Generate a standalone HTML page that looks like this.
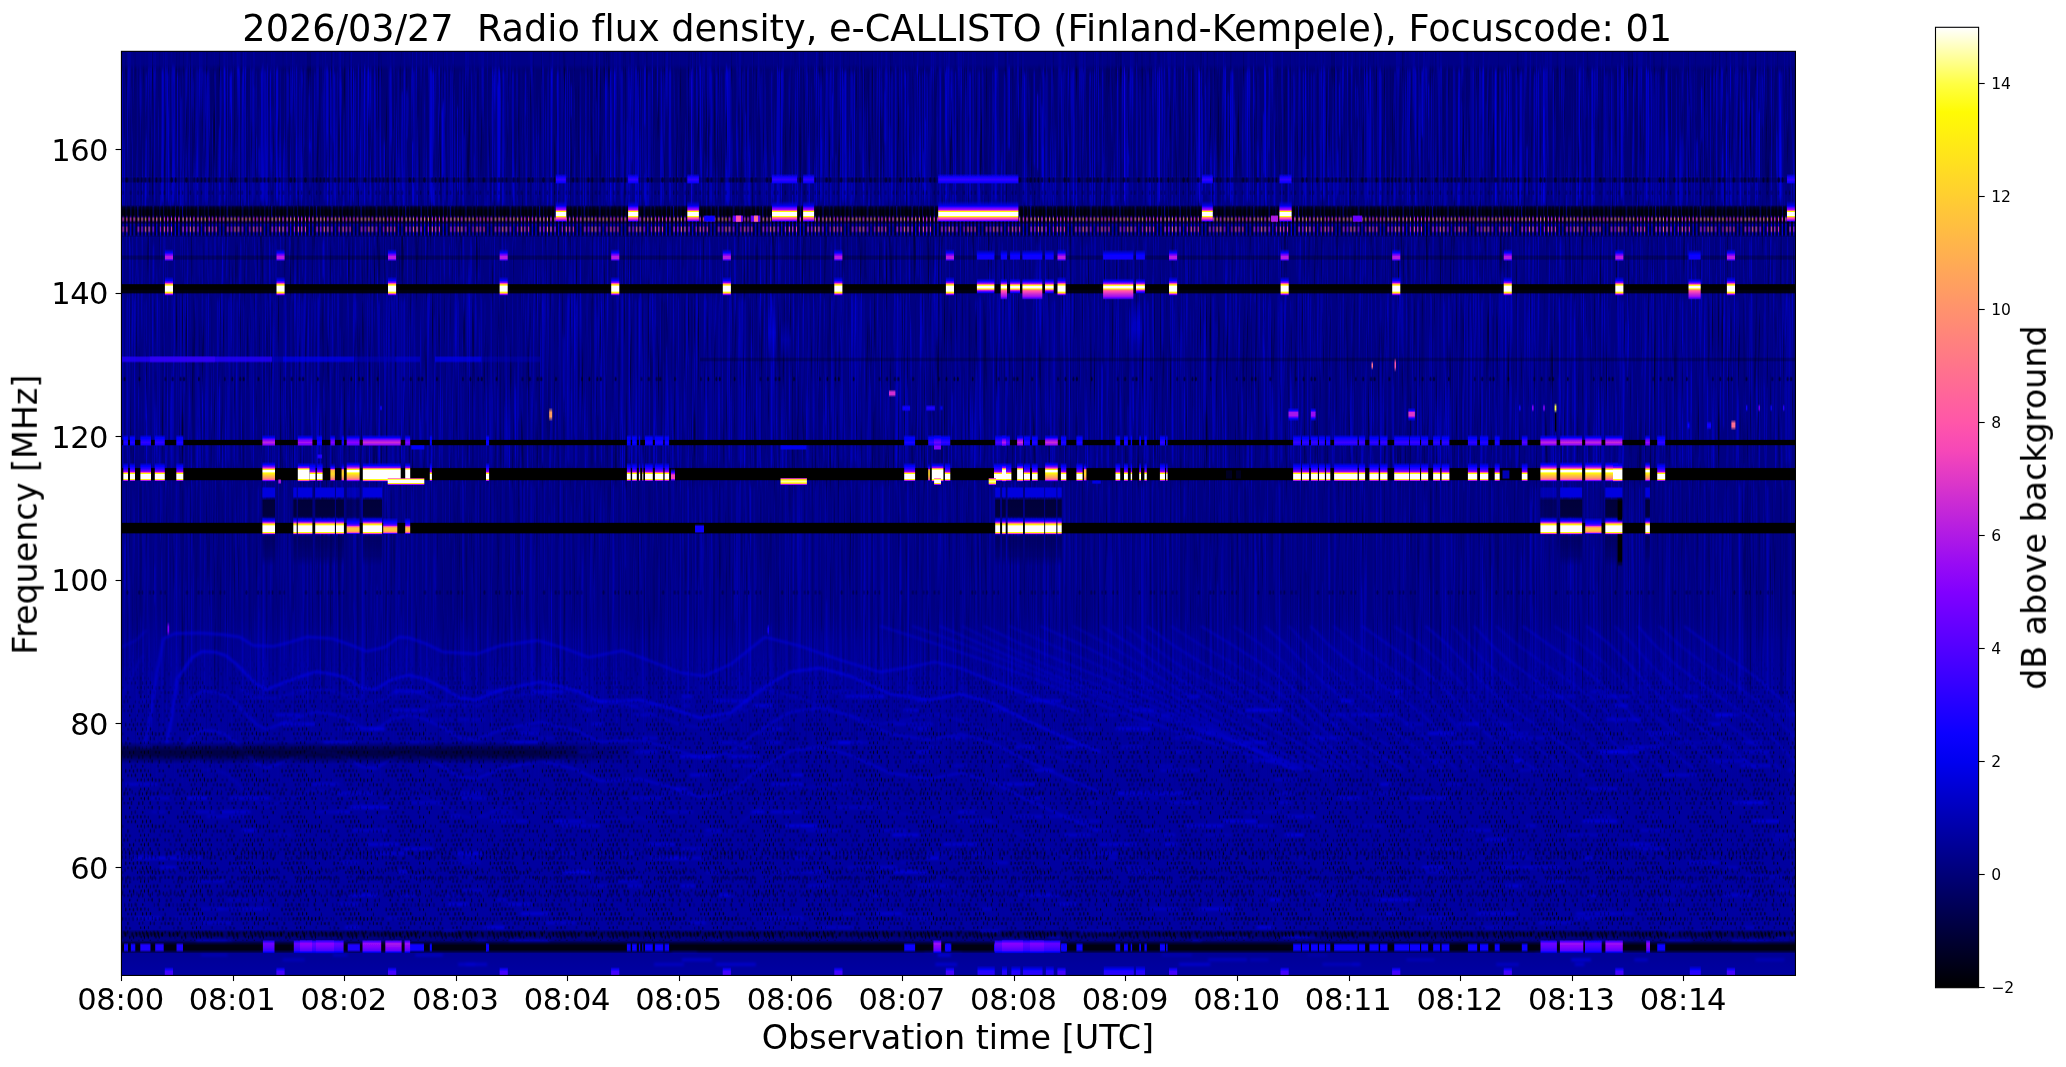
<!DOCTYPE html><html><head><meta charset="utf-8"><title>e-CALLISTO spectrogram</title>
<style>html,body{margin:0;padding:0;background:#fff}body{width:2066px;height:1067px;overflow:hidden}svg{display:block}text{fill:#000;font-variant-ligatures:none;font-feature-settings:"liga" 0,"clig" 0}</style></head><body>
<svg width="2066" height="1067" viewBox="0 0 2066 1067" font-family="DejaVu Sans, Liberation Sans, sans-serif">
<defs><clipPath id="axclip"><rect x="121.45" y="51.35" width="1674.00" height="924.10"/></clipPath>
<linearGradient id="cbg" x1="0" y1="0" x2="0" y2="1"><stop offset="0.0000" stop-color="#ffffff"/><stop offset="0.0294" stop-color="#ffffa1"/><stop offset="0.0588" stop-color="#ffff43"/><stop offset="0.0882" stop-color="#fffb04"/><stop offset="0.1176" stop-color="#ffec13"/><stop offset="0.1471" stop-color="#ffdd22"/><stop offset="0.1765" stop-color="#ffce31"/><stop offset="0.2059" stop-color="#ffbf40"/><stop offset="0.2353" stop-color="#ffb04f"/><stop offset="0.2647" stop-color="#ffa15e"/><stop offset="0.2941" stop-color="#ff926d"/><stop offset="0.3235" stop-color="#ff837c"/><stop offset="0.3529" stop-color="#ff748b"/><stop offset="0.3824" stop-color="#ff659a"/><stop offset="0.4118" stop-color="#ff56a9"/><stop offset="0.4412" stop-color="#f647b8"/><stop offset="0.4706" stop-color="#df38c7"/><stop offset="0.5000" stop-color="#c729d6"/><stop offset="0.5294" stop-color="#b01ae5"/><stop offset="0.5588" stop-color="#980bf4"/><stop offset="0.5882" stop-color="#8100ff"/><stop offset="0.6176" stop-color="#6900ff"/><stop offset="0.6471" stop-color="#5200ff"/><stop offset="0.6765" stop-color="#3b00ff"/><stop offset="0.7059" stop-color="#2300ff"/><stop offset="0.7353" stop-color="#0c00ff"/><stop offset="0.7647" stop-color="#0000f0"/><stop offset="0.7941" stop-color="#0000d2"/><stop offset="0.8235" stop-color="#0000b4"/><stop offset="0.8529" stop-color="#000096"/><stop offset="0.8824" stop-color="#000078"/><stop offset="0.9118" stop-color="#00005a"/><stop offset="0.9412" stop-color="#00003c"/><stop offset="0.9706" stop-color="#00001e"/><stop offset="1.0000" stop-color="#000000"/></linearGradient>
<filter id="noiseB" x="0" y="0" width="100%" height="100%" color-interpolation-filters="sRGB"><feTurbulence type="fractalNoise" baseFrequency="0.55 0.008" numOctaves="2" seed="5"/><feColorMatrix type="matrix" values="0 0 0 0 0 0 0 0 0 0 0 0 0 0 0.92 2.0 0 0 0 -1.05"/></filter><filter id="noiseD" x="0" y="0" width="100%" height="100%" color-interpolation-filters="sRGB"><feTurbulence type="fractalNoise" baseFrequency="0.5 0.01" numOctaves="2" seed="11"/><feColorMatrix type="matrix" values="0 0 0 0 0 0 0 0 0 0 0 0 0 0 0 0 -2.0 0 0 0.80"/></filter><filter id="soft" x="-5%" y="-5%" width="110%" height="110%"><feGaussianBlur stdDeviation="0.5 2.5"/></filter><filter id="soft2" x="-5%" y="-5%" width="110%" height="110%"><feGaussianBlur stdDeviation="1.2 0.8"/></filter><filter id="softx" x="-2%" y="-2%" width="104%" height="104%"><feGaussianBlur stdDeviation="0.45 0.01"/></filter><linearGradient id="g1" x2="0" y2="1"><stop offset="0" stop-color="#000087"/><stop offset=".101" stop-color="#000087"/><stop offset=".148" stop-color="#000075"/><stop offset=".992" stop-color="#000078"/><stop offset="1" stop-color="#000082" stop-opacity="0"/></linearGradient><linearGradient id="g2" x2="0" y2="1"><stop offset="0" stop-color="#000082" stop-opacity="0"/><stop offset=".121" stop-color="#000090"/><stop offset=".272" stop-color="#00009d"/><stop offset=".997" stop-color="#0000a1"/><stop offset="1" stop-color="#000082" stop-opacity="0"/></linearGradient><linearGradient id="g3" x2="0" y2="1"><stop offset="0" stop-color="#000096"/><stop offset="1" stop-color="#0000a2"/></linearGradient><linearGradient id="nfade" x2="0" y2="1"><stop offset="0" stop-color="#fff" stop-opacity="0.45"/><stop offset=".018" stop-color="#fff" stop-opacity="0.45"/><stop offset=".024" stop-color="#fff"/><stop offset=".57" stop-color="#fff"/><stop offset=".6" stop-color="#fff" stop-opacity="0.6"/><stop offset=".82" stop-color="#fff" stop-opacity="0.5"/><stop offset="1" stop-color="#fff" stop-opacity="0.1"/></linearGradient><mask id="nmask" maskUnits="userSpaceOnUse" x="120.5" y="52" width="1676.0" height="734"><rect x="120.5" y="52" width="1676.0" height="734" fill="url(#nfade)"/></mask><linearGradient id="g4" x2="0" y2="1"><stop offset="0" stop-color="#0000f0" stop-opacity="0"/><stop offset=".5" stop-color="#0000f0" stop-opacity="0.5"/><stop offset="1" stop-color="#0000f0" stop-opacity="0"/></linearGradient><linearGradient id="g5" x2="0" y2="1"><stop offset="0" stop-color="#0000d8" stop-opacity="0"/><stop offset=".5" stop-color="#0000d8" stop-opacity="0.4"/><stop offset="1" stop-color="#0000d8" stop-opacity="0"/></linearGradient><linearGradient id="g6" x2="0" y2="1"><stop offset="0" stop-color="#0000e4" stop-opacity="0"/><stop offset=".5" stop-color="#0000e4" stop-opacity="0.45"/><stop offset="1" stop-color="#0000e4" stop-opacity="0"/></linearGradient><linearGradient id="g7" x2="0" y2="1"><stop offset="0" stop-color="#0000fc" stop-opacity="0"/><stop offset=".5" stop-color="#0000fc" stop-opacity="0.3"/><stop offset="1" stop-color="#0000fc" stop-opacity="0"/></linearGradient><pattern id="dotgrid" x="122.35" y="690.00" width="52.08" height="46.20" patternUnits="userSpaceOnUse"><ellipse cx="5.76" cy="2.45" rx="0.44" ry="1.91" fill="#000" fill-opacity="0.91"/><ellipse cx="16.90" cy="2.46" rx="0.51" ry="1.77" fill="#000" fill-opacity="0.62"/><ellipse cx="20.50" cy="1.97" rx="0.44" ry="1.75" fill="#000" fill-opacity="0.59"/><ellipse cx="28.05" cy="2.25" rx="0.59" ry="2.08" fill="#000" fill-opacity="0.61"/><ellipse cx="31.72" cy="2.34" rx="0.54" ry="2.09" fill="#000" fill-opacity="0.61"/><ellipse cx="39.16" cy="2.55" rx="0.48" ry="1.58" fill="#000" fill-opacity="0.58"/><ellipse cx="42.68" cy="2.35" rx="0.47" ry="2.02" fill="#000" fill-opacity="0.71"/><ellipse cx="46.26" cy="2.53" rx="0.55" ry="1.54" fill="#000" fill-opacity="0.98"/><ellipse cx="50.27" cy="2.55" rx="0.60" ry="2.04" fill="#000" fill-opacity="0.75"/><ellipse cx="3.80" cy="6.83" rx="0.50" ry="2.02" fill="#000" fill-opacity="0.68"/><ellipse cx="7.69" cy="7.23" rx="0.46" ry="1.55" fill="#000" fill-opacity="0.81"/><ellipse cx="18.46" cy="6.78" rx="0.42" ry="1.45" fill="#000" fill-opacity="1.00"/><ellipse cx="22.10" cy="6.69" rx="0.50" ry="1.70" fill="#000" fill-opacity="0.90"/><ellipse cx="25.95" cy="6.59" rx="0.42" ry="1.64" fill="#000" fill-opacity="0.77"/><ellipse cx="37.49" cy="6.56" rx="0.42" ry="1.59" fill="#000" fill-opacity="0.59"/><ellipse cx="52.04" cy="7.21" rx="0.44" ry="1.73" fill="#000" fill-opacity="0.71"/><ellipse cx="1.93" cy="11.55" rx="0.47" ry="1.87" fill="#000" fill-opacity="0.89"/><ellipse cx="5.29" cy="11.17" rx="0.58" ry="2.18" fill="#000" fill-opacity="0.67"/><ellipse cx="13.03" cy="11.70" rx="0.43" ry="1.53" fill="#000" fill-opacity="0.61"/><ellipse cx="16.83" cy="11.90" rx="0.45" ry="1.92" fill="#000" fill-opacity="0.82"/><ellipse cx="20.20" cy="11.46" rx="0.41" ry="1.70" fill="#000" fill-opacity="0.92"/><ellipse cx="24.10" cy="11.29" rx="0.59" ry="2.04" fill="#000" fill-opacity="0.71"/><ellipse cx="27.93" cy="11.72" rx="0.51" ry="1.93" fill="#000" fill-opacity="0.57"/><ellipse cx="31.46" cy="11.48" rx="0.60" ry="2.04" fill="#000" fill-opacity="0.70"/><ellipse cx="35.21" cy="11.34" rx="0.54" ry="1.94" fill="#000" fill-opacity="0.87"/><ellipse cx="42.69" cy="11.25" rx="0.43" ry="1.67" fill="#000" fill-opacity="0.82"/><ellipse cx="46.56" cy="11.64" rx="0.45" ry="1.50" fill="#000" fill-opacity="0.63"/><ellipse cx="7.49" cy="16.43" rx="0.59" ry="1.79" fill="#000" fill-opacity="0.88"/><ellipse cx="11.27" cy="16.17" rx="0.57" ry="2.03" fill="#000" fill-opacity="0.81"/><ellipse cx="18.82" cy="16.09" rx="0.50" ry="1.43" fill="#000" fill-opacity="0.87"/><ellipse cx="22.10" cy="16.19" rx="0.50" ry="1.99" fill="#000" fill-opacity="0.97"/><ellipse cx="25.91" cy="15.90" rx="0.54" ry="2.08" fill="#000" fill-opacity="0.91"/><ellipse cx="33.47" cy="16.02" rx="0.56" ry="1.74" fill="#000" fill-opacity="0.83"/><ellipse cx="36.94" cy="16.25" rx="0.45" ry="1.57" fill="#000" fill-opacity="0.98"/><ellipse cx="48.18" cy="15.78" rx="0.41" ry="1.79" fill="#000" fill-opacity="0.66"/><ellipse cx="0.21" cy="16.50" rx="0.43" ry="1.80" fill="#000" fill-opacity="0.55"/><ellipse cx="2.00" cy="20.70" rx="0.44" ry="1.56" fill="#000" fill-opacity="0.68"/><ellipse cx="5.79" cy="20.98" rx="0.52" ry="1.45" fill="#000" fill-opacity="0.72"/><ellipse cx="9.16" cy="20.68" rx="0.48" ry="2.14" fill="#000" fill-opacity="0.76"/><ellipse cx="16.61" cy="21.00" rx="0.52" ry="2.18" fill="#000" fill-opacity="0.80"/><ellipse cx="20.49" cy="20.71" rx="0.47" ry="2.16" fill="#000" fill-opacity="0.81"/><ellipse cx="27.74" cy="20.73" rx="0.50" ry="2.11" fill="#000" fill-opacity="0.94"/><ellipse cx="35.46" cy="20.47" rx="0.58" ry="1.91" fill="#000" fill-opacity="0.58"/><ellipse cx="42.79" cy="20.92" rx="0.42" ry="1.64" fill="#000" fill-opacity="0.61"/><ellipse cx="46.27" cy="21.06" rx="0.41" ry="1.73" fill="#000" fill-opacity="0.67"/><ellipse cx="7.47" cy="25.28" rx="0.54" ry="1.53" fill="#000" fill-opacity="0.93"/><ellipse cx="14.98" cy="25.45" rx="0.47" ry="1.43" fill="#000" fill-opacity="0.83"/><ellipse cx="22.17" cy="25.36" rx="0.43" ry="1.97" fill="#000" fill-opacity="0.59"/><ellipse cx="26.27" cy="25.03" rx="0.47" ry="1.54" fill="#000" fill-opacity="0.63"/><ellipse cx="29.69" cy="25.13" rx="0.59" ry="2.11" fill="#000" fill-opacity="0.88"/><ellipse cx="37.01" cy="25.60" rx="0.42" ry="2.18" fill="#000" fill-opacity="0.96"/><ellipse cx="44.35" cy="25.80" rx="0.58" ry="2.03" fill="#000" fill-opacity="0.60"/><ellipse cx="48.50" cy="25.21" rx="0.45" ry="2.15" fill="#000" fill-opacity="0.66"/><ellipse cx="9.41" cy="30.42" rx="0.46" ry="2.17" fill="#000" fill-opacity="0.61"/><ellipse cx="12.90" cy="29.69" rx="0.44" ry="2.12" fill="#000" fill-opacity="0.65"/><ellipse cx="20.50" cy="29.85" rx="0.42" ry="1.52" fill="#000" fill-opacity="1.00"/><ellipse cx="35.55" cy="29.77" rx="0.43" ry="1.95" fill="#000" fill-opacity="0.66"/><ellipse cx="46.57" cy="30.07" rx="0.53" ry="1.85" fill="#000" fill-opacity="0.94"/><ellipse cx="3.45" cy="34.83" rx="0.59" ry="2.08" fill="#000" fill-opacity="0.71"/><ellipse cx="7.42" cy="34.58" rx="0.55" ry="1.42" fill="#000" fill-opacity="0.79"/><ellipse cx="11.09" cy="34.90" rx="0.55" ry="1.98" fill="#000" fill-opacity="0.84"/><ellipse cx="14.93" cy="34.27" rx="0.44" ry="2.12" fill="#000" fill-opacity="0.92"/><ellipse cx="18.59" cy="34.42" rx="0.56" ry="1.71" fill="#000" fill-opacity="0.98"/><ellipse cx="22.52" cy="34.27" rx="0.55" ry="1.80" fill="#000" fill-opacity="0.69"/><ellipse cx="25.84" cy="34.75" rx="0.40" ry="1.91" fill="#000" fill-opacity="0.76"/><ellipse cx="37.08" cy="34.60" rx="0.57" ry="1.80" fill="#000" fill-opacity="0.63"/><ellipse cx="40.81" cy="34.65" rx="0.47" ry="1.56" fill="#000" fill-opacity="0.91"/><ellipse cx="5.81" cy="39.35" rx="0.45" ry="1.47" fill="#000" fill-opacity="0.90"/><ellipse cx="9.36" cy="39.24" rx="0.51" ry="1.70" fill="#000" fill-opacity="0.74"/><ellipse cx="13.05" cy="39.09" rx="0.54" ry="1.82" fill="#000" fill-opacity="0.96"/><ellipse cx="20.35" cy="39.20" rx="0.51" ry="1.85" fill="#000" fill-opacity="0.97"/><ellipse cx="24.07" cy="38.98" rx="0.50" ry="2.10" fill="#000" fill-opacity="0.88"/><ellipse cx="28.10" cy="38.88" rx="0.57" ry="1.82" fill="#000" fill-opacity="0.91"/><ellipse cx="42.88" cy="39.65" rx="0.41" ry="2.17" fill="#000" fill-opacity="0.64"/><ellipse cx="15.17" cy="43.85" rx="0.48" ry="1.58" fill="#000" fill-opacity="0.84"/><ellipse cx="18.78" cy="43.66" rx="0.47" ry="1.73" fill="#000" fill-opacity="0.99"/><ellipse cx="22.22" cy="44.17" rx="0.47" ry="2.07" fill="#000" fill-opacity="0.58"/><ellipse cx="25.79" cy="43.51" rx="0.59" ry="1.74" fill="#000" fill-opacity="0.83"/><ellipse cx="29.94" cy="43.54" rx="0.51" ry="2.18" fill="#000" fill-opacity="0.99"/><ellipse cx="33.39" cy="44.16" rx="0.48" ry="2.07" fill="#000" fill-opacity="0.95"/><ellipse cx="37.00" cy="44.13" rx="0.51" ry="1.74" fill="#000" fill-opacity="0.95"/><ellipse cx="40.95" cy="43.68" rx="0.55" ry="2.10" fill="#000" fill-opacity="0.95"/><ellipse cx="48.12" cy="43.52" rx="0.49" ry="1.50" fill="#000" fill-opacity="0.56"/><ellipse cx="0.05" cy="44.03" rx="0.54" ry="1.76" fill="#000" fill-opacity="0.76"/></pattern><linearGradient id="dotfade" x1="0" y1="0" x2="0" y2="1"><stop offset="0" stop-color="#fff" stop-opacity="0"/><stop offset="0.12" stop-color="#fff" stop-opacity="0.55"/><stop offset="0.3" stop-color="#fff" stop-opacity="0.9"/><stop offset="1" stop-color="#fff" stop-opacity="1"/></linearGradient><mask id="dotmask" maskUnits="userSpaceOnUse" x="120.5" y="655" width="1676.0" height="330"><rect x="120.5" y="655" width="1676.0" height="330" fill="url(#dotfade)"/></mask><linearGradient id="g8" x2="0" y2="1"><stop offset="0" stop-color="#000000" stop-opacity="0"/><stop offset=".286" stop-color="#000000" stop-opacity="0.2"/><stop offset=".714" stop-color="#000000" stop-opacity="0.2"/><stop offset="1" stop-color="#000000" stop-opacity="0"/></linearGradient><pattern id="dr1800" x="121.45" y="177.20" width="59.52" height="5.60" patternUnits="userSpaceOnUse"><ellipse cx="5.36" cy="2.80" rx="1.34" ry="2.80" fill="#000" fill-opacity="0.57"/><ellipse cx="13.18" cy="2.80" rx="1.05" ry="2.80" fill="#000" fill-opacity="0.40"/><ellipse cx="16.46" cy="2.80" rx="1.10" ry="2.80" fill="#000" fill-opacity="0.57"/><ellipse cx="20.50" cy="2.80" rx="0.90" ry="2.80" fill="#000" fill-opacity="0.54"/><ellipse cx="24.12" cy="2.80" rx="0.94" ry="2.80" fill="#000" fill-opacity="0.56"/><ellipse cx="27.96" cy="2.80" rx="1.00" ry="2.80" fill="#000" fill-opacity="0.48"/><ellipse cx="35.06" cy="2.80" rx="1.04" ry="2.80" fill="#000" fill-opacity="0.59"/><ellipse cx="39.18" cy="2.80" rx="0.94" ry="2.80" fill="#000" fill-opacity="0.45"/><ellipse cx="50.32" cy="2.80" rx="1.34" ry="2.80" fill="#000" fill-opacity="0.58"/><ellipse cx="54.13" cy="2.80" rx="0.99" ry="2.80" fill="#000" fill-opacity="0.58"/></pattern><pattern id="dr1927" x="121.45" y="190.40" width="59.52" height="4.60" patternUnits="userSpaceOnUse"><ellipse cx="1.64" cy="2.30" rx="0.70" ry="2.30" fill="#000" fill-opacity="0.32"/><ellipse cx="9.34" cy="2.30" rx="0.82" ry="2.30" fill="#000" fill-opacity="0.29"/><ellipse cx="16.52" cy="2.30" rx="0.78" ry="2.30" fill="#000" fill-opacity="0.31"/><ellipse cx="20.54" cy="2.30" rx="0.69" ry="2.30" fill="#000" fill-opacity="0.32"/><ellipse cx="28.09" cy="2.30" rx="0.96" ry="2.30" fill="#000" fill-opacity="0.22"/><ellipse cx="31.43" cy="2.30" rx="0.71" ry="2.30" fill="#000" fill-opacity="0.29"/><ellipse cx="38.90" cy="2.30" rx="0.64" ry="2.30" fill="#000" fill-opacity="0.30"/><ellipse cx="43.00" cy="2.30" rx="0.99" ry="2.30" fill="#000" fill-opacity="0.26"/><ellipse cx="50.02" cy="2.30" rx="0.97" ry="2.30" fill="#000" fill-opacity="0.22"/><ellipse cx="57.62" cy="2.30" rx="0.88" ry="2.30" fill="#000" fill-opacity="0.26"/></pattern><pattern id="dr3790" x="122.75" y="376.70" width="59.52" height="4.60" patternUnits="userSpaceOnUse"><ellipse cx="1.84" cy="2.30" rx="1.03" ry="2.30" fill="#000" fill-opacity="0.63"/><ellipse cx="16.63" cy="2.30" rx="0.84" ry="2.30" fill="#000" fill-opacity="0.67"/><ellipse cx="42.57" cy="2.30" rx="0.80" ry="2.30" fill="#000" fill-opacity="0.56"/><ellipse cx="49.99" cy="2.30" rx="0.90" ry="2.30" fill="#000" fill-opacity="0.64"/><ellipse cx="57.91" cy="2.30" rx="0.96" ry="2.30" fill="#000" fill-opacity="0.56"/></pattern><pattern id="dr5925" x="122.05" y="590.20" width="59.52" height="4.60" patternUnits="userSpaceOnUse"><ellipse cx="5.41" cy="2.30" rx="1.00" ry="2.30" fill="#000" fill-opacity="0.40"/><ellipse cx="17.01" cy="2.30" rx="1.02" ry="2.30" fill="#000" fill-opacity="0.35"/><ellipse cx="20.31" cy="2.30" rx="0.73" ry="2.30" fill="#000" fill-opacity="0.35"/><ellipse cx="27.84" cy="2.30" rx="0.79" ry="2.30" fill="#000" fill-opacity="0.31"/><ellipse cx="31.38" cy="2.30" rx="0.71" ry="2.30" fill="#000" fill-opacity="0.45"/><ellipse cx="38.82" cy="2.30" rx="0.97" ry="2.30" fill="#000" fill-opacity="0.32"/><ellipse cx="43.04" cy="2.30" rx="0.82" ry="2.30" fill="#000" fill-opacity="0.30"/></pattern><linearGradient id="g9" x2="0" y2="1"><stop offset="0" stop-color="#000000" stop-opacity="0"/><stop offset=".267" stop-color="#000000" stop-opacity="0.15"/><stop offset=".733" stop-color="#000000" stop-opacity="0.15"/><stop offset="1" stop-color="#000000" stop-opacity="0"/></linearGradient><pattern id="dr9343" x="123.35" y="931.90" width="59.52" height="4.80" patternUnits="userSpaceOnUse"><ellipse cx="2.12" cy="2.40" rx="1.00" ry="2.40" fill="#000" fill-opacity="0.76"/><ellipse cx="9.02" cy="2.40" rx="0.80" ry="2.40" fill="#000" fill-opacity="0.68"/><ellipse cx="13.29" cy="2.40" rx="0.80" ry="2.40" fill="#000" fill-opacity="0.83"/><ellipse cx="16.85" cy="2.40" rx="0.75" ry="2.40" fill="#000" fill-opacity="0.63"/><ellipse cx="20.45" cy="2.40" rx="0.84" ry="2.40" fill="#000" fill-opacity="0.76"/><ellipse cx="24.17" cy="2.40" rx="1.01" ry="2.40" fill="#000" fill-opacity="0.80"/><ellipse cx="28.16" cy="2.40" rx="1.03" ry="2.40" fill="#000" fill-opacity="0.61"/><ellipse cx="31.51" cy="2.40" rx="0.99" ry="2.40" fill="#000" fill-opacity="0.83"/><ellipse cx="35.14" cy="2.40" rx="0.83" ry="2.40" fill="#000" fill-opacity="0.80"/><ellipse cx="38.81" cy="2.40" rx="1.15" ry="2.40" fill="#000" fill-opacity="0.86"/><ellipse cx="46.27" cy="2.40" rx="0.93" ry="2.40" fill="#000" fill-opacity="0.83"/><ellipse cx="50.11" cy="2.40" rx="1.08" ry="2.40" fill="#000" fill-opacity="0.72"/><ellipse cx="54.20" cy="2.40" rx="1.00" ry="2.40" fill="#000" fill-opacity="0.88"/></pattern><pattern id="dr7920" x="122.85" y="789.80" width="59.52" height="4.40" patternUnits="userSpaceOnUse"><ellipse cx="1.96" cy="2.20" rx="0.60" ry="2.20" fill="#000" fill-opacity="0.40"/><ellipse cx="9.19" cy="2.20" rx="0.66" ry="2.20" fill="#000" fill-opacity="0.33"/><ellipse cx="16.45" cy="2.20" rx="0.76" ry="2.20" fill="#000" fill-opacity="0.40"/><ellipse cx="24.34" cy="2.20" rx="0.77" ry="2.20" fill="#000" fill-opacity="0.44"/><ellipse cx="27.74" cy="2.20" rx="0.67" ry="2.20" fill="#000" fill-opacity="0.33"/><ellipse cx="35.23" cy="2.20" rx="0.55" ry="2.20" fill="#000" fill-opacity="0.42"/><ellipse cx="39.33" cy="2.20" rx="0.50" ry="2.20" fill="#000" fill-opacity="0.36"/><ellipse cx="50.36" cy="2.20" rx="0.49" ry="2.20" fill="#000" fill-opacity="0.43"/><ellipse cx="54.06" cy="2.20" rx="0.51" ry="2.20" fill="#000" fill-opacity="0.41"/></pattern><pattern id="dr8525" x="123.92" y="850.30" width="59.52" height="4.40" patternUnits="userSpaceOnUse"><ellipse cx="1.75" cy="2.20" rx="0.69" ry="2.20" fill="#000" fill-opacity="0.44"/><ellipse cx="5.49" cy="2.20" rx="0.70" ry="2.20" fill="#000" fill-opacity="0.58"/><ellipse cx="9.07" cy="2.20" rx="0.68" ry="2.20" fill="#000" fill-opacity="0.45"/><ellipse cx="12.88" cy="2.20" rx="0.62" ry="2.20" fill="#000" fill-opacity="0.58"/><ellipse cx="16.82" cy="2.20" rx="0.72" ry="2.20" fill="#000" fill-opacity="0.54"/><ellipse cx="20.27" cy="2.20" rx="0.57" ry="2.20" fill="#000" fill-opacity="0.43"/><ellipse cx="24.13" cy="2.20" rx="0.63" ry="2.20" fill="#000" fill-opacity="0.46"/><ellipse cx="28.05" cy="2.20" rx="0.48" ry="2.20" fill="#000" fill-opacity="0.55"/><ellipse cx="35.31" cy="2.20" rx="0.49" ry="2.20" fill="#000" fill-opacity="0.40"/><ellipse cx="42.86" cy="2.20" rx="0.49" ry="2.20" fill="#000" fill-opacity="0.43"/><ellipse cx="46.54" cy="2.20" rx="0.65" ry="2.20" fill="#000" fill-opacity="0.57"/><ellipse cx="50.39" cy="2.20" rx="0.60" ry="2.20" fill="#000" fill-opacity="0.59"/><ellipse cx="57.79" cy="2.20" rx="0.56" ry="2.20" fill="#000" fill-opacity="0.47"/></pattern><pattern id="dr8572" x="123.94" y="855.00" width="59.52" height="4.40" patternUnits="userSpaceOnUse"><ellipse cx="1.74" cy="2.20" rx="0.64" ry="2.20" fill="#000" fill-opacity="0.43"/><ellipse cx="5.54" cy="2.20" rx="0.58" ry="2.20" fill="#000" fill-opacity="0.38"/><ellipse cx="9.27" cy="2.20" rx="0.69" ry="2.20" fill="#000" fill-opacity="0.51"/><ellipse cx="13.32" cy="2.20" rx="0.56" ry="2.20" fill="#000" fill-opacity="0.49"/><ellipse cx="20.47" cy="2.20" rx="0.69" ry="2.20" fill="#000" fill-opacity="0.51"/><ellipse cx="23.90" cy="2.20" rx="0.67" ry="2.20" fill="#000" fill-opacity="0.34"/><ellipse cx="27.66" cy="2.20" rx="0.69" ry="2.20" fill="#000" fill-opacity="0.45"/><ellipse cx="31.53" cy="2.20" rx="0.61" ry="2.20" fill="#000" fill-opacity="0.49"/><ellipse cx="42.57" cy="2.20" rx="0.61" ry="2.20" fill="#000" fill-opacity="0.39"/><ellipse cx="53.90" cy="2.20" rx="0.76" ry="2.20" fill="#000" fill-opacity="0.46"/><ellipse cx="57.85" cy="2.20" rx="0.70" ry="2.20" fill="#000" fill-opacity="0.42"/></pattern><pattern id="dr8700" x="123.03" y="867.80" width="59.52" height="4.40" patternUnits="userSpaceOnUse"><ellipse cx="2.06" cy="2.20" rx="0.65" ry="2.20" fill="#000" fill-opacity="0.38"/><ellipse cx="9.11" cy="2.20" rx="0.64" ry="2.20" fill="#000" fill-opacity="0.37"/><ellipse cx="16.80" cy="2.20" rx="0.53" ry="2.20" fill="#000" fill-opacity="0.38"/><ellipse cx="20.56" cy="2.20" rx="0.56" ry="2.20" fill="#000" fill-opacity="0.36"/><ellipse cx="24.30" cy="2.20" rx="0.66" ry="2.20" fill="#000" fill-opacity="0.47"/><ellipse cx="27.61" cy="2.20" rx="0.54" ry="2.20" fill="#000" fill-opacity="0.33"/><ellipse cx="31.71" cy="2.20" rx="0.51" ry="2.20" fill="#000" fill-opacity="0.41"/><ellipse cx="35.32" cy="2.20" rx="0.77" ry="2.20" fill="#000" fill-opacity="0.37"/><ellipse cx="46.38" cy="2.20" rx="0.65" ry="2.20" fill="#000" fill-opacity="0.32"/><ellipse cx="50.49" cy="2.20" rx="0.61" ry="2.20" fill="#000" fill-opacity="0.46"/><ellipse cx="57.49" cy="2.20" rx="0.56" ry="2.20" fill="#000" fill-opacity="0.37"/></pattern><pattern id="dr8785" x="124.32" y="876.30" width="59.52" height="4.40" patternUnits="userSpaceOnUse"><ellipse cx="1.85" cy="2.20" rx="0.77" ry="2.20" fill="#000" fill-opacity="0.42"/><ellipse cx="5.81" cy="2.20" rx="0.62" ry="2.20" fill="#000" fill-opacity="0.46"/><ellipse cx="9.57" cy="2.20" rx="0.70" ry="2.20" fill="#000" fill-opacity="0.37"/><ellipse cx="13.18" cy="2.20" rx="0.61" ry="2.20" fill="#000" fill-opacity="0.35"/><ellipse cx="16.62" cy="2.20" rx="0.78" ry="2.20" fill="#000" fill-opacity="0.40"/><ellipse cx="20.47" cy="2.20" rx="0.68" ry="2.20" fill="#000" fill-opacity="0.39"/><ellipse cx="23.94" cy="2.20" rx="0.63" ry="2.20" fill="#000" fill-opacity="0.35"/><ellipse cx="27.91" cy="2.20" rx="0.76" ry="2.20" fill="#000" fill-opacity="0.50"/><ellipse cx="31.40" cy="2.20" rx="0.54" ry="2.20" fill="#000" fill-opacity="0.48"/><ellipse cx="35.64" cy="2.20" rx="0.66" ry="2.20" fill="#000" fill-opacity="0.41"/><ellipse cx="54.15" cy="2.20" rx="0.74" ry="2.20" fill="#000" fill-opacity="0.50"/><ellipse cx="57.77" cy="2.20" rx="0.77" ry="2.20" fill="#000" fill-opacity="0.44"/></pattern><pattern id="dr8935" x="124.21" y="891.30" width="59.52" height="4.40" patternUnits="userSpaceOnUse"><ellipse cx="9.53" cy="2.20" rx="0.64" ry="2.20" fill="#000" fill-opacity="0.34"/><ellipse cx="12.84" cy="2.20" rx="0.65" ry="2.20" fill="#000" fill-opacity="0.32"/><ellipse cx="16.48" cy="2.20" rx="0.56" ry="2.20" fill="#000" fill-opacity="0.41"/><ellipse cx="24.13" cy="2.20" rx="0.55" ry="2.20" fill="#000" fill-opacity="0.44"/><ellipse cx="28.15" cy="2.20" rx="0.62" ry="2.20" fill="#000" fill-opacity="0.41"/><ellipse cx="35.46" cy="2.20" rx="0.75" ry="2.20" fill="#000" fill-opacity="0.39"/><ellipse cx="39.17" cy="2.20" rx="0.72" ry="2.20" fill="#000" fill-opacity="0.45"/><ellipse cx="42.62" cy="2.20" rx="0.52" ry="2.20" fill="#000" fill-opacity="0.47"/><ellipse cx="46.50" cy="2.20" rx="0.70" ry="2.20" fill="#000" fill-opacity="0.42"/><ellipse cx="50.17" cy="2.20" rx="0.69" ry="2.20" fill="#000" fill-opacity="0.34"/><ellipse cx="53.86" cy="2.20" rx="0.61" ry="2.20" fill="#000" fill-opacity="0.49"/><ellipse cx="57.90" cy="2.20" rx="0.63" ry="2.20" fill="#000" fill-opacity="0.43"/></pattern><pattern id="dr9050" x="123.00" y="902.80" width="59.52" height="4.40" patternUnits="userSpaceOnUse"><ellipse cx="1.84" cy="2.20" rx="0.58" ry="2.20" fill="#000" fill-opacity="0.38"/><ellipse cx="5.87" cy="2.20" rx="0.70" ry="2.20" fill="#000" fill-opacity="0.37"/><ellipse cx="13.31" cy="2.20" rx="0.74" ry="2.20" fill="#000" fill-opacity="0.33"/><ellipse cx="31.34" cy="2.20" rx="0.52" ry="2.20" fill="#000" fill-opacity="0.36"/><ellipse cx="35.51" cy="2.20" rx="0.58" ry="2.20" fill="#000" fill-opacity="0.26"/><ellipse cx="42.96" cy="2.20" rx="0.66" ry="2.20" fill="#000" fill-opacity="0.38"/><ellipse cx="46.32" cy="2.20" rx="0.63" ry="2.20" fill="#000" fill-opacity="0.28"/><ellipse cx="50.14" cy="2.20" rx="0.50" ry="2.20" fill="#000" fill-opacity="0.30"/><ellipse cx="54.24" cy="2.20" rx="0.56" ry="2.20" fill="#000" fill-opacity="0.30"/><ellipse cx="57.59" cy="2.20" rx="0.73" ry="2.20" fill="#000" fill-opacity="0.36"/></pattern><pattern id="dr9190" x="123.66" y="916.80" width="59.52" height="4.40" patternUnits="userSpaceOnUse"><ellipse cx="2.10" cy="2.20" rx="0.68" ry="2.20" fill="#000" fill-opacity="0.31"/><ellipse cx="5.45" cy="2.20" rx="0.54" ry="2.20" fill="#000" fill-opacity="0.28"/><ellipse cx="9.44" cy="2.20" rx="0.65" ry="2.20" fill="#000" fill-opacity="0.44"/><ellipse cx="13.32" cy="2.20" rx="0.59" ry="2.20" fill="#000" fill-opacity="0.45"/><ellipse cx="16.54" cy="2.20" rx="0.50" ry="2.20" fill="#000" fill-opacity="0.32"/><ellipse cx="20.48" cy="2.20" rx="0.73" ry="2.20" fill="#000" fill-opacity="0.37"/><ellipse cx="31.54" cy="2.20" rx="0.54" ry="2.20" fill="#000" fill-opacity="0.33"/><ellipse cx="38.92" cy="2.20" rx="0.66" ry="2.20" fill="#000" fill-opacity="0.35"/><ellipse cx="42.49" cy="2.20" rx="0.52" ry="2.20" fill="#000" fill-opacity="0.29"/><ellipse cx="46.37" cy="2.20" rx="0.77" ry="2.20" fill="#000" fill-opacity="0.31"/><ellipse cx="49.97" cy="2.20" rx="0.51" ry="2.20" fill="#000" fill-opacity="0.37"/><ellipse cx="53.86" cy="2.20" rx="0.73" ry="2.20" fill="#000" fill-opacity="0.38"/><ellipse cx="57.77" cy="2.20" rx="0.76" ry="2.20" fill="#000" fill-opacity="0.35"/></pattern><linearGradient id="g10" x2="0" y2="1"><stop offset="0" stop-color="#000000" stop-opacity="0"/><stop offset=".062" stop-color="#000000" stop-opacity="0.7"/><stop offset=".169" stop-color="#000000" stop-opacity="0.95"/><stop offset=".511" stop-color="#000000"/><stop offset=".542" stop-color="#000000" stop-opacity="0.8"/><stop offset=".585" stop-color="#000000" stop-opacity="0.72"/><stop offset=".908" stop-color="#000000" stop-opacity="0.7"/><stop offset="1" stop-color="#000000" stop-opacity="0"/></linearGradient><pattern id="comb" x="121.45" y="205.5" width="44.64" height="32" patternUnits="userSpaceOnUse"><rect x="0.86" y="0" width="1.1" height="11" fill="#0000f0" fill-opacity="0.10"/><rect x="1.19" y="10.6" width="1.1" height="6.2" rx="0.5" fill="#3b00ff" fill-opacity="0.95"/><rect x="1.24" y="12" width="1.0" height="3.4" rx="0.5" fill="#f647b8"/><rect x="1.14" y="17.6" width="1.2" height="13" rx="0.6" fill="#0200ff" fill-opacity="0.95"/><rect x="1.24" y="21" width="1.0" height="5.5" rx="0.5" fill="#df38c7"/><rect x="4.31" y="0" width="1.1" height="11" fill="#0000f0" fill-opacity="0.22"/><rect x="4.89" y="10.6" width="1.1" height="6.2" rx="0.5" fill="#3b00ff" fill-opacity="0.95"/><rect x="4.94" y="12" width="1.0" height="3.4" rx="0.5" fill="#ff659a"/><rect x="4.84" y="17.6" width="1.2" height="13" rx="0.6" fill="#0200ff" fill-opacity="0.95"/><rect x="4.94" y="21" width="1.0" height="5.5" rx="0.5" fill="#df38c7"/><rect x="8.85" y="0" width="1.1" height="11" fill="#0000f0" fill-opacity="0.36"/><rect x="8.67" y="10.6" width="1.1" height="6.2" rx="0.5" fill="#3b00ff" fill-opacity="0.95"/><rect x="8.72" y="12" width="1.0" height="3.4" rx="0.5" fill="#f647b8"/><rect x="8.62" y="17.6" width="1.2" height="13" rx="0.6" fill="#0200ff" fill-opacity="0.95"/><rect x="12.88" y="0" width="1.1" height="11" fill="#0000f0" fill-opacity="0.25"/><rect x="12.28" y="10.6" width="1.1" height="6.2" rx="0.5" fill="#3b00ff" fill-opacity="0.95"/><rect x="12.33" y="12" width="1.0" height="3.4" rx="0.5" fill="#ff659a"/><rect x="12.23" y="17.6" width="1.2" height="13" rx="0.6" fill="#0200ff" fill-opacity="0.95"/><rect x="15.92" y="0" width="1.1" height="11" fill="#0000f0" fill-opacity="0.57"/><rect x="16.40" y="10.6" width="1.1" height="6.2" rx="0.5" fill="#3b00ff" fill-opacity="0.95"/><rect x="16.45" y="12" width="1.0" height="3.4" rx="0.5" fill="#ffa15e"/><rect x="16.35" y="17.6" width="1.2" height="13" rx="0.6" fill="#0200ff" fill-opacity="0.95"/><rect x="16.45" y="21" width="1.0" height="5.5" rx="0.5" fill="#df38c7"/><rect x="19.80" y="0" width="1.1" height="11" fill="#0000f0" fill-opacity="0.25"/><rect x="20.14" y="10.6" width="1.1" height="6.2" rx="0.5" fill="#3b00ff" fill-opacity="0.95"/><rect x="20.19" y="12" width="1.0" height="3.4" rx="0.5" fill="#ff837c"/><rect x="20.09" y="17.6" width="1.2" height="13" rx="0.6" fill="#0200ff" fill-opacity="0.95"/><rect x="20.19" y="21" width="1.0" height="5.5" rx="0.5" fill="#b01ae5"/><rect x="23.23" y="0" width="1.1" height="11" fill="#0000f0" fill-opacity="0.17"/><rect x="23.65" y="10.6" width="1.1" height="6.2" rx="0.5" fill="#3b00ff" fill-opacity="0.95"/><rect x="23.70" y="12" width="1.0" height="3.4" rx="0.5" fill="#ffa15e"/><rect x="23.60" y="17.6" width="1.2" height="13" rx="0.6" fill="#0200ff" fill-opacity="0.95"/><rect x="23.70" y="21" width="1.0" height="5.5" rx="0.5" fill="#ff659a"/><rect x="27.54" y="0" width="1.1" height="11" fill="#0000f0" fill-opacity="0.13"/><rect x="27.23" y="10.6" width="1.1" height="6.2" rx="0.5" fill="#3b00ff" fill-opacity="0.95"/><rect x="27.28" y="12" width="1.0" height="3.4" rx="0.5" fill="#f647b8"/><rect x="27.18" y="17.6" width="1.2" height="13" rx="0.6" fill="#0200ff" fill-opacity="0.95"/><rect x="27.28" y="21" width="1.0" height="5.5" rx="0.5" fill="#ff659a"/><rect x="31.32" y="0" width="1.1" height="11" fill="#0000f0" fill-opacity="0.52"/><rect x="31.25" y="10.6" width="1.1" height="6.2" rx="0.5" fill="#3b00ff" fill-opacity="0.95"/><rect x="31.30" y="12" width="1.0" height="3.4" rx="0.5" fill="#ff837c"/><rect x="31.20" y="17.6" width="1.2" height="13" rx="0.6" fill="#0200ff" fill-opacity="0.95"/><rect x="31.30" y="21" width="1.0" height="5.5" rx="0.5" fill="#b01ae5"/><rect x="35.16" y="0" width="1.1" height="11" fill="#0000f0" fill-opacity="0.13"/><rect x="34.86" y="10.6" width="1.1" height="6.2" rx="0.5" fill="#3b00ff" fill-opacity="0.95"/><rect x="34.91" y="12" width="1.0" height="3.4" rx="0.5" fill="#ff837c"/><rect x="34.81" y="17.6" width="1.2" height="13" rx="0.6" fill="#0200ff" fill-opacity="0.95"/><rect x="37.91" y="0" width="1.1" height="11" fill="#0000f0" fill-opacity="0.30"/><rect x="38.52" y="10.6" width="1.1" height="6.2" rx="0.5" fill="#3b00ff" fill-opacity="0.95"/><rect x="38.57" y="12" width="1.0" height="3.4" rx="0.5" fill="#ffa15e"/><rect x="38.47" y="17.6" width="1.2" height="13" rx="0.6" fill="#0200ff" fill-opacity="0.95"/><rect x="38.57" y="21" width="1.0" height="5.5" rx="0.5" fill="#b01ae5"/><rect x="41.71" y="0" width="1.1" height="11" fill="#0000f0" fill-opacity="0.33"/><rect x="42.45" y="10.6" width="1.1" height="6.2" rx="0.5" fill="#3b00ff" fill-opacity="0.95"/><rect x="42.50" y="12" width="1.0" height="3.4" rx="0.5" fill="#f647b8"/><rect x="42.40" y="17.6" width="1.2" height="13" rx="0.6" fill="#0200ff" fill-opacity="0.95"/><rect x="42.50" y="21" width="1.0" height="5.5" rx="0.5" fill="#ff56a9"/></pattern><linearGradient id="g11" x2="0" y2="1"><stop offset="0" stop-color="#000000" stop-opacity="0"/><stop offset=".283" stop-color="#000000" stop-opacity="0.26"/><stop offset=".7" stop-color="#000000" stop-opacity="0.26"/><stop offset="1" stop-color="#000000" stop-opacity="0"/></linearGradient><linearGradient id="g12" x2="0" y2="1"><stop offset="0" stop-color="#2300ff" stop-opacity="0"/><stop offset=".27" stop-color="#2300ff"/><stop offset=".73" stop-color="#2300ff"/><stop offset="1" stop-color="#2300ff" stop-opacity="0"/></linearGradient><linearGradient id="g13" x2="0" y2="1"><stop offset="0" stop-color="#3f00ff" stop-opacity="0"/><stop offset=".27" stop-color="#3f00ff"/><stop offset=".73" stop-color="#3f00ff"/><stop offset="1" stop-color="#3f00ff" stop-opacity="0"/></linearGradient><linearGradient id="g14" x2="0" y2="1"><stop offset="0" stop-color="#0000cc" stop-opacity="0"/><stop offset=".27" stop-color="#0000cc"/><stop offset=".73" stop-color="#0000cc"/><stop offset="1" stop-color="#0000cc" stop-opacity="0"/></linearGradient><linearGradient id="g15" x2="0" y2="1"><stop offset="0" stop-color="#0000f0" stop-opacity="0"/><stop offset=".27" stop-color="#0000f0"/><stop offset=".73" stop-color="#0000f0"/><stop offset="1" stop-color="#0000f0" stop-opacity="0"/></linearGradient><linearGradient id="g16" x2="0" y2="1"><stop offset="0" stop-color="#0000c0" stop-opacity="0"/><stop offset=".27" stop-color="#0000c0"/><stop offset=".73" stop-color="#0000c0"/><stop offset="1" stop-color="#0000c0" stop-opacity="0"/></linearGradient><linearGradient id="g17" x2="0" y2="1"><stop offset="0" stop-color="#0000d8" stop-opacity="0"/><stop offset=".27" stop-color="#0000d8"/><stop offset=".73" stop-color="#0000d8"/><stop offset="1" stop-color="#0000d8" stop-opacity="0"/></linearGradient><linearGradient id="g18" x2="0" y2="1"><stop offset="0" stop-color="#000000" stop-opacity="0"/><stop offset=".32" stop-color="#000000" stop-opacity="0.24"/><stop offset=".68" stop-color="#000000" stop-opacity="0.24"/><stop offset="1" stop-color="#000000" stop-opacity="0"/></linearGradient><linearGradient id="g19" x2="0" y2="1"><stop offset="0" stop-color="#000000" stop-opacity="0"/><stop offset=".114" stop-color="#000000"/><stop offset=".543" stop-color="#000000"/><stop offset=".619" stop-color="#000000" stop-opacity="0.9"/><stop offset=".867" stop-color="#000000" stop-opacity="0.86"/><stop offset="1" stop-color="#000000" stop-opacity="0"/></linearGradient><linearGradient id="g20" x2="0" y2="1"><stop offset="0" stop-color="#000000" stop-opacity="0"/><stop offset=".169" stop-color="#000000"/><stop offset=".815" stop-color="#000000"/><stop offset="1" stop-color="#000000" stop-opacity="0"/></linearGradient><linearGradient id="g21" x2="0" y2="1"><stop offset="0" stop-color="#000000" stop-opacity="0"/><stop offset=".09" stop-color="#000000"/><stop offset=".91" stop-color="#000000"/><stop offset="1" stop-color="#000000" stop-opacity="0"/></linearGradient><linearGradient id="g22" x2="0" y2="1"><stop offset="0" stop-color="#000000" stop-opacity="0"/><stop offset=".11" stop-color="#000000"/><stop offset=".881" stop-color="#000000"/><stop offset="1" stop-color="#000000" stop-opacity="0"/></linearGradient><linearGradient id="fadeR" x1="0" y1="0" x2="1" y2="0"><stop offset="0" stop-color="#fff"/><stop offset="0.8" stop-color="#fff"/><stop offset="1" stop-color="#fff" stop-opacity="0"/></linearGradient><mask id="m76" maskUnits="userSpaceOnUse" x="120" y="735" width="520" height="40"><rect x="120" y="735" width="520" height="40" fill="url(#fadeR)"/></mask><linearGradient id="g23" x2="0" y2="1"><stop offset="0" stop-color="#000000" stop-opacity="0"/><stop offset=".227" stop-color="#000000" stop-opacity="0.36"/><stop offset=".409" stop-color="#000000" stop-opacity="0.55"/><stop offset=".591" stop-color="#000000" stop-opacity="0.55"/><stop offset=".773" stop-color="#000000" stop-opacity="0.3"/><stop offset="1" stop-color="#000000" stop-opacity="0"/></linearGradient><linearGradient id="g24" x2="0" y2="1"><stop offset="0" stop-color="#000000" stop-opacity="0"/><stop offset=".192" stop-color="#000000" stop-opacity="0.55"/><stop offset=".385" stop-color="#000000" stop-opacity="0.88"/><stop offset=".7" stop-color="#000000" stop-opacity="0.88"/><stop offset=".846" stop-color="#000000" stop-opacity="0.5"/><stop offset="1" stop-color="#000000" stop-opacity="0"/></linearGradient><linearGradient id="g25" x2="0" y2="1"><stop offset="0" stop-color="#0000f0" stop-opacity="0"/><stop offset=".192" stop-color="#0000f0"/><stop offset=".202" stop-color="#0000ff"/><stop offset=".316" stop-color="#8100ff"/><stop offset=".318" stop-color="#8700ff"/><stop offset=".358" stop-color="#ff4cb3"/><stop offset=".363" stop-color="#ff56a9"/><stop offset=".404" stop-color="#ffb04f"/><stop offset=".44" stop-color="#fffb04"/><stop offset=".447" stop-color="#ffff00"/><stop offset=".508" stop-color="#ffffff"/><stop offset=".756" stop-color="#ffffff"/><stop offset=".818" stop-color="#ffff00"/><stop offset=".824" stop-color="#fffb04"/><stop offset=".87" stop-color="#ff926d"/><stop offset=".898" stop-color="#ff4cb3"/><stop offset=".907" stop-color="#df38c7"/><stop offset=".932" stop-color="#8700ff"/><stop offset=".948" stop-color="#5200ff"/><stop offset="1" stop-color="#5200ff" stop-opacity="0"/></linearGradient><linearGradient id="g26" x2="0" y2="1"><stop offset="0" stop-color="#0000fc" stop-opacity="0"/><stop offset=".295" stop-color="#0000fc"/><stop offset=".299" stop-color="#0000ff"/><stop offset=".492" stop-color="#7800ff"/><stop offset=".524" stop-color="#8700ff"/><stop offset=".615" stop-color="#b41de2"/><stop offset=".779" stop-color="#b41de2"/><stop offset=".827" stop-color="#8700ff"/><stop offset=".885" stop-color="#5200ff"/><stop offset="1" stop-color="#5200ff" stop-opacity="0"/></linearGradient><linearGradient id="g27" x2="0" y2="1"><stop offset="0" stop-color="#1000ff" stop-opacity="0"/><stop offset=".289" stop-color="#1000ff"/><stop offset=".485" stop-color="#3f00ff"/><stop offset="1" stop-color="#4900ff"/></linearGradient><linearGradient id="g28" x2="0" y2="1"><stop offset="0" stop-color="#0000f0" stop-opacity="0"/><stop offset=".175" stop-color="#0000f0"/><stop offset=".187" stop-color="#0000ff"/><stop offset=".319" stop-color="#8100ff"/><stop offset=".321" stop-color="#8700ff"/><stop offset=".365" stop-color="#ff4cb3"/><stop offset=".387" stop-color="#ff748b"/><stop offset=".444" stop-color="#fffb04"/><stop offset=".448" stop-color="#ffff00"/><stop offset=".494" stop-color="#ffffff"/><stop offset=".613" stop-color="#ffffff"/><stop offset=".663" stop-color="#ffff00"/><stop offset=".669" stop-color="#fffb04"/><stop offset=".725" stop-color="#ff748b"/><stop offset=".746" stop-color="#ff4cb3"/><stop offset=".785" stop-color="#8700ff"/><stop offset=".788" stop-color="#8100ff"/><stop offset=".894" stop-color="#0c00ff"/><stop offset="1" stop-color="#0c00ff" stop-opacity="0"/></linearGradient><linearGradient id="g29" x2="0" y2="1"><stop offset="0" stop-color="#0000d2" stop-opacity="0"/><stop offset=".27" stop-color="#0000d2"/><stop offset=".439" stop-color="#0000ff"/><stop offset=".495" stop-color="#0c00ff"/><stop offset=".838" stop-color="#0c00ff"/><stop offset="1" stop-color="#0c00ff" stop-opacity="0"/></linearGradient><linearGradient id="g30" x2="0" y2="1"><stop offset="0" stop-color="#0000f0" stop-opacity="0"/><stop offset=".13" stop-color="#0000f0"/><stop offset=".139" stop-color="#0000ff"/><stop offset=".236" stop-color="#8100ff"/><stop offset=".238" stop-color="#8700ff"/><stop offset=".27" stop-color="#ff4cb3"/><stop offset=".287" stop-color="#ff748b"/><stop offset=".329" stop-color="#fffb04"/><stop offset=".332" stop-color="#ffff00"/><stop offset=".366" stop-color="#ffffff"/><stop offset=".454" stop-color="#ffffff"/><stop offset=".491" stop-color="#ffff00"/><stop offset=".495" stop-color="#fffb04"/><stop offset=".542" stop-color="#ff837c"/><stop offset=".606" stop-color="#ff50af"/><stop offset=".618" stop-color="#ff4cb3"/><stop offset=".731" stop-color="#cc2cd3"/><stop offset=".852" stop-color="#9d0ef1"/><stop offset=".873" stop-color="#8700ff"/><stop offset=".926" stop-color="#5200ff"/><stop offset="1" stop-color="#5200ff" stop-opacity="0"/></linearGradient><linearGradient id="g31" x2="0" y2="1"><stop offset="0" stop-color="#0000f0" stop-opacity="0"/><stop offset=".23" stop-color="#0000f0"/><stop offset=".24" stop-color="#0000ff"/><stop offset=".329" stop-color="#6900ff"/><stop offset=".369" stop-color="#8700ff"/><stop offset=".423" stop-color="#b01ae5"/><stop offset=".444" stop-color="#ff4cb3"/><stop offset=".46" stop-color="#ff748b"/><stop offset=".493" stop-color="#fffb04"/><stop offset=".496" stop-color="#ffff00"/><stop offset=".526" stop-color="#ffffff"/><stop offset=".704" stop-color="#ffffff"/><stop offset=".73" stop-color="#ffff00"/><stop offset=".742" stop-color="#ffec13"/><stop offset=".779" stop-color="#ff748b"/><stop offset=".822" stop-color="#ff4cb3"/><stop offset=".845" stop-color="#df38c7"/><stop offset=".915" stop-color="#8700ff"/><stop offset=".939" stop-color="#6900ff"/><stop offset=".96" stop-color="#0000ff" stop-opacity="0.65"/><stop offset="1" stop-color="#000000" stop-opacity="0"/></linearGradient><linearGradient id="g32" x2="0" y2="1"><stop offset="0" stop-color="#0c00ff" stop-opacity="0"/><stop offset=".327" stop-color="#0c00ff"/><stop offset=".57" stop-color="#3100ff"/><stop offset=".832" stop-color="#0c00ff"/><stop offset="1" stop-color="#0c00ff" stop-opacity="0"/></linearGradient><linearGradient id="g33" x2="0" y2="1"><stop offset="0" stop-color="#1000ff" stop-opacity="0"/><stop offset=".231" stop-color="#1000ff"/><stop offset=".795" stop-color="#1000ff"/><stop offset="1" stop-color="#1000ff" stop-opacity="0"/></linearGradient><linearGradient id="g34" x2="0" y2="1"><stop offset="0" stop-color="#6900ff" stop-opacity="0"/><stop offset=".231" stop-color="#6900ff"/><stop offset=".795" stop-color="#6900ff"/><stop offset="1" stop-color="#6900ff" stop-opacity="0"/></linearGradient><linearGradient id="g35" x2="0" y2="1"><stop offset="0" stop-color="#ff56a9" stop-opacity="0"/><stop offset=".231" stop-color="#ff56a9"/><stop offset=".795" stop-color="#ff56a9"/><stop offset="1" stop-color="#ff56a9" stop-opacity="0"/></linearGradient><linearGradient id="g36" x2="0" y2="1"><stop offset="0" stop-color="#ff748b" stop-opacity="0"/><stop offset=".231" stop-color="#ff748b"/><stop offset=".795" stop-color="#ff748b"/><stop offset="1" stop-color="#ff748b" stop-opacity="0"/></linearGradient><linearGradient id="g37" x2="0" y2="1"><stop offset="0" stop-color="#b01ae5" stop-opacity="0"/><stop offset=".231" stop-color="#b01ae5"/><stop offset=".795" stop-color="#b01ae5"/><stop offset="1" stop-color="#b01ae5" stop-opacity="0"/></linearGradient><linearGradient id="g38" x2="0" y2="1"><stop offset="0" stop-color="#0000fc" stop-opacity="0"/><stop offset=".254" stop-color="#0000fc"/><stop offset=".305" stop-color="#0000ff"/><stop offset=".458" stop-color="#0700ff"/><stop offset=".669" stop-color="#2300ff"/><stop offset=".864" stop-color="#0700ff"/><stop offset="1" stop-color="#0700ff" stop-opacity="0"/></linearGradient><linearGradient id="g39" x2="0" y2="1"><stop offset="0" stop-color="#0000fc" stop-opacity="0"/><stop offset=".254" stop-color="#0000fc"/><stop offset=".282" stop-color="#0000ff"/><stop offset=".458" stop-color="#0f00ff"/><stop offset=".669" stop-color="#2d00ff"/><stop offset=".864" stop-color="#0f00ff"/><stop offset="1" stop-color="#0f00ff" stop-opacity="0"/></linearGradient><linearGradient id="g40" x2="0" y2="1"><stop offset="0" stop-color="#0000fc" stop-opacity="0"/><stop offset=".254" stop-color="#0000fc"/><stop offset=".258" stop-color="#0000ff"/><stop offset=".458" stop-color="#8300ff"/><stop offset=".474" stop-color="#8700ff"/><stop offset=".669" stop-color="#be23dc"/><stop offset=".849" stop-color="#8700ff"/><stop offset=".864" stop-color="#8300ff"/><stop offset="1" stop-color="#8300ff" stop-opacity="0"/></linearGradient><linearGradient id="g41" x2="0" y2="1"><stop offset="0" stop-color="#0000fc" stop-opacity="0"/><stop offset=".254" stop-color="#0000fc"/><stop offset=".258" stop-color="#0000ff"/><stop offset=".458" stop-color="#7000ff"/><stop offset=".549" stop-color="#8700ff"/><stop offset=".669" stop-color="#a614eb"/><stop offset=".78" stop-color="#8700ff"/><stop offset=".864" stop-color="#7000ff"/><stop offset="1" stop-color="#7000ff" stop-opacity="0"/></linearGradient><linearGradient id="g42" x2="0" y2="1"><stop offset="0" stop-color="#0000fc" stop-opacity="0"/><stop offset=".254" stop-color="#0000fc"/><stop offset=".26" stop-color="#0000ff"/><stop offset=".458" stop-color="#5200ff"/><stop offset=".669" stop-color="#8100ff"/><stop offset=".864" stop-color="#5200ff"/><stop offset="1" stop-color="#5200ff" stop-opacity="0"/></linearGradient><linearGradient id="g43" x2="0" y2="1"><stop offset="0" stop-color="#0000fc" stop-opacity="0"/><stop offset=".254" stop-color="#0000fc"/><stop offset=".259" stop-color="#0000ff"/><stop offset=".458" stop-color="#5a00ff"/><stop offset=".657" stop-color="#8700ff"/><stop offset=".669" stop-color="#8a02fd"/><stop offset=".681" stop-color="#8700ff"/><stop offset=".864" stop-color="#5a00ff"/><stop offset="1" stop-color="#5a00ff" stop-opacity="0"/></linearGradient><linearGradient id="g44" x2="0" y2="1"><stop offset="0" stop-color="#0000fc" stop-opacity="0"/><stop offset=".254" stop-color="#0000fc"/><stop offset=".258" stop-color="#0000ff"/><stop offset=".448" stop-color="#8700ff"/><stop offset=".458" stop-color="#8e04fb"/><stop offset=".669" stop-color="#cc2cd3"/><stop offset=".864" stop-color="#8e04fb"/><stop offset="1" stop-color="#8e04fb" stop-opacity="0"/></linearGradient><linearGradient id="g45" x2="0" y2="1"><stop offset="0" stop-color="#0000fc" stop-opacity="0"/><stop offset=".254" stop-color="#0000fc"/><stop offset=".458" stop-color="#0000f5"/><stop offset=".527" stop-color="#0000ff"/><stop offset=".669" stop-color="#1000ff"/><stop offset=".801" stop-color="#0000ff"/><stop offset=".864" stop-color="#0000f5"/><stop offset="1" stop-color="#0000f5" stop-opacity="0"/></linearGradient><linearGradient id="g46" x2="0" y2="1"><stop offset="0" stop-color="#0000fc" stop-opacity="0"/><stop offset=".254" stop-color="#0000fc"/><stop offset=".458" stop-color="#0000e2"/><stop offset=".669" stop-color="#0000fc"/><stop offset=".864" stop-color="#0000e2"/><stop offset="1" stop-color="#0000e2" stop-opacity="0"/></linearGradient><linearGradient id="g47" x2="0" y2="1"><stop offset="0" stop-color="#0000fc" stop-opacity="0"/><stop offset=".254" stop-color="#0000fc"/><stop offset=".339" stop-color="#0000ff"/><stop offset=".458" stop-color="#0300ff"/><stop offset=".669" stop-color="#1e00ff"/><stop offset=".864" stop-color="#0300ff"/><stop offset="1" stop-color="#0300ff" stop-opacity="0"/></linearGradient><linearGradient id="g48" x2="0" y2="1"><stop offset="0" stop-color="#0000fc" stop-opacity="0"/><stop offset=".254" stop-color="#0000fc"/><stop offset=".458" stop-color="#0000fa"/><stop offset=".493" stop-color="#0000ff"/><stop offset=".669" stop-color="#1500ff"/><stop offset=".832" stop-color="#0000ff"/><stop offset=".864" stop-color="#0000fa"/><stop offset="1" stop-color="#0000fa" stop-opacity="0"/></linearGradient><linearGradient id="g49" x2="0" y2="1"><stop offset="0" stop-color="#0000fc" stop-opacity="0"/><stop offset=".254" stop-color="#0000fc"/><stop offset=".458" stop-color="#0000fe"/><stop offset=".461" stop-color="#0000ff"/><stop offset=".669" stop-color="#1a00ff"/><stop offset=".861" stop-color="#0000ff"/><stop offset=".864" stop-color="#0000fe"/><stop offset="1" stop-color="#0000fe" stop-opacity="0"/></linearGradient><linearGradient id="g50" x2="0" y2="1"><stop offset="0" stop-color="#0000fc" stop-opacity="0"/><stop offset=".254" stop-color="#0000fc"/><stop offset=".262" stop-color="#0000ff"/><stop offset=".458" stop-color="#3f00ff"/><stop offset=".669" stop-color="#6900ff"/><stop offset=".864" stop-color="#3f00ff"/><stop offset="1" stop-color="#3f00ff" stop-opacity="0"/></linearGradient><linearGradient id="g51" x2="0" y2="1"><stop offset="0" stop-color="#0000fc" stop-opacity="0"/><stop offset=".254" stop-color="#0000fc"/><stop offset=".266" stop-color="#0000ff"/><stop offset=".458" stop-color="#2500ff"/><stop offset=".669" stop-color="#4900ff"/><stop offset=".864" stop-color="#2500ff"/><stop offset="1" stop-color="#2500ff" stop-opacity="0"/></linearGradient><linearGradient id="g52" x2="0" y2="1"><stop offset="0" stop-color="#0000fc" stop-opacity="0"/><stop offset=".254" stop-color="#0000fc"/><stop offset=".258" stop-color="#0000ff"/><stop offset=".458" stop-color="#7800ff"/><stop offset=".518" stop-color="#8700ff"/><stop offset=".669" stop-color="#b01ae5"/><stop offset=".809" stop-color="#8700ff"/><stop offset=".864" stop-color="#7800ff"/><stop offset="1" stop-color="#7800ff" stop-opacity="0"/></linearGradient><linearGradient id="g53" x2="0" y2="1"><stop offset="0" stop-color="#0000fc" stop-opacity="0"/><stop offset=".254" stop-color="#0000fc"/><stop offset=".258" stop-color="#0000ff"/><stop offset=".454" stop-color="#8700ff"/><stop offset=".458" stop-color="#8a02fd"/><stop offset=".669" stop-color="#c729d6"/><stop offset=".864" stop-color="#8a02fd"/><stop offset="1" stop-color="#8a02fd" stop-opacity="0"/></linearGradient><linearGradient id="g54" x2="0" y2="1"><stop offset="0" stop-color="#0000fc" stop-opacity="0"/><stop offset=".254" stop-color="#0000fc"/><stop offset=".274" stop-color="#0000ff"/><stop offset=".458" stop-color="#1600ff"/><stop offset=".669" stop-color="#3600ff"/><stop offset=".864" stop-color="#1600ff"/><stop offset="1" stop-color="#1600ff" stop-opacity="0"/></linearGradient><linearGradient id="g55" x2="0" y2="1"><stop offset="0" stop-color="#0000fc" stop-opacity="0"/><stop offset=".254" stop-color="#0000fc"/><stop offset=".271" stop-color="#0000ff"/><stop offset=".458" stop-color="#1a00ff"/><stop offset=".669" stop-color="#3b00ff"/><stop offset=".864" stop-color="#1a00ff"/><stop offset="1" stop-color="#1a00ff" stop-opacity="0"/></linearGradient><linearGradient id="g56" x2="0" y2="1"><stop offset="0" stop-color="#0000fc" stop-opacity="0"/><stop offset=".254" stop-color="#0000fc"/><stop offset=".269" stop-color="#0000ff"/><stop offset=".458" stop-color="#1e00ff"/><stop offset=".669" stop-color="#3f00ff"/><stop offset=".864" stop-color="#1e00ff"/><stop offset="1" stop-color="#1e00ff" stop-opacity="0"/></linearGradient><linearGradient id="g57" x2="0" y2="1"><stop offset="0" stop-color="#0000fc" stop-opacity="0"/><stop offset=".254" stop-color="#0000fc"/><stop offset=".277" stop-color="#0000ff"/><stop offset=".458" stop-color="#1200ff"/><stop offset=".669" stop-color="#3100ff"/><stop offset=".864" stop-color="#1200ff"/><stop offset="1" stop-color="#1200ff" stop-opacity="0"/></linearGradient><linearGradient id="g58" x2="0" y2="1"><stop offset="0" stop-color="#0000fc" stop-opacity="0"/><stop offset=".254" stop-color="#0000fc"/><stop offset=".264" stop-color="#0000ff"/><stop offset=".458" stop-color="#2d00ff"/><stop offset=".669" stop-color="#5200ff"/><stop offset=".864" stop-color="#2d00ff"/><stop offset="1" stop-color="#2d00ff" stop-opacity="0"/></linearGradient><linearGradient id="g59" x2="0" y2="1"><stop offset="0" stop-color="#0000fc" stop-opacity="0"/><stop offset=".254" stop-color="#0000fc"/><stop offset=".259" stop-color="#0000ff"/><stop offset=".458" stop-color="#6500ff"/><stop offset=".6" stop-color="#8700ff"/><stop offset=".669" stop-color="#980bf4"/><stop offset=".733" stop-color="#8700ff"/><stop offset=".864" stop-color="#6500ff"/><stop offset="1" stop-color="#6500ff" stop-opacity="0"/></linearGradient><linearGradient id="g60" x2="0" y2="1"><stop offset="0" stop-color="#0000fc" stop-opacity="0"/><stop offset=".25" stop-color="#0000fc"/><stop offset=".75" stop-color="#0000fc"/><stop offset="1" stop-color="#0000fc" stop-opacity="0"/></linearGradient><linearGradient id="g61" x2="0" y2="1"><stop offset="0" stop-color="#0000f0" stop-opacity="0"/><stop offset=".25" stop-color="#0000f0"/><stop offset=".75" stop-color="#0000f0"/><stop offset="1" stop-color="#0000f0" stop-opacity="0"/></linearGradient><linearGradient id="g62" x2="0" y2="1"><stop offset="0" stop-color="#8100ff" stop-opacity="0"/><stop offset=".25" stop-color="#8100ff"/><stop offset=".75" stop-color="#8100ff"/><stop offset="1" stop-color="#8100ff" stop-opacity="0"/></linearGradient><linearGradient id="g63" x2="0" y2="1"><stop offset="0" stop-color="#0000f0" stop-opacity="0"/><stop offset=".158" stop-color="#0000f0"/><stop offset=".199" stop-color="#0000ff"/><stop offset=".321" stop-color="#2300ff"/><stop offset=".468" stop-color="#7800ff"/><stop offset=".474" stop-color="#8700ff"/><stop offset=".515" stop-color="#ff4cb3"/><stop offset=".537" stop-color="#ff748b"/><stop offset=".579" stop-color="#fffb04"/><stop offset=".583" stop-color="#ffff00"/><stop offset=".621" stop-color="#ffffff"/><stop offset=".853" stop-color="#ffffff"/><stop offset=".881" stop-color="#ffff00"/><stop offset=".895" stop-color="#ffec13"/><stop offset=".932" stop-color="#ff56a9"/><stop offset=".934" stop-color="#ff4cb3"/><stop offset=".953" stop-color="#8700ff"/><stop offset=".968" stop-color="#2300ff"/><stop offset="1" stop-color="#2300ff" stop-opacity="0"/></linearGradient><linearGradient id="g64" x2="0" y2="1"><stop offset="0" stop-color="#0000fc" stop-opacity="0"/><stop offset=".136" stop-color="#0000fc"/><stop offset=".138" stop-color="#0000ff"/><stop offset=".261" stop-color="#8100ff"/><stop offset=".265" stop-color="#8700ff"/><stop offset=".324" stop-color="#ff4cb3"/><stop offset=".332" stop-color="#ff56a9"/><stop offset=".377" stop-color="#ffdd22"/><stop offset=".398" stop-color="#ffff00"/><stop offset=".422" stop-color="#ffffff"/><stop offset=".503" stop-color="#ffffff"/><stop offset=".561" stop-color="#ffff00"/><stop offset=".563" stop-color="#fffe01"/><stop offset=".663" stop-color="#ffce31"/><stop offset=".789" stop-color="#ffa15e"/><stop offset=".879" stop-color="#ff748b"/><stop offset=".899" stop-color="#ff4cb3"/><stop offset=".925" stop-color="#b01ae5"/><stop offset=".936" stop-color="#8700ff"/><stop offset=".965" stop-color="#2300ff"/><stop offset="1" stop-color="#2300ff" stop-opacity="0"/></linearGradient><linearGradient id="g65" x2="0" y2="1"><stop offset="0" stop-color="#0000fc" stop-opacity="0"/><stop offset=".163" stop-color="#0000fc"/><stop offset=".165" stop-color="#0000ff"/><stop offset=".265" stop-color="#8100ff"/><stop offset=".267" stop-color="#8700ff"/><stop offset=".296" stop-color="#ff4cb3"/><stop offset=".311" stop-color="#ff748b"/><stop offset=".352" stop-color="#fffb04"/><stop offset=".356" stop-color="#ffff00"/><stop offset=".393" stop-color="#ffffff"/><stop offset=".852" stop-color="#ffffff"/><stop offset=".88" stop-color="#ffff00"/><stop offset=".893" stop-color="#ffec13"/><stop offset=".929" stop-color="#ff56a9"/><stop offset=".931" stop-color="#ff4cb3"/><stop offset=".949" stop-color="#8700ff"/><stop offset=".964" stop-color="#2300ff"/><stop offset="1" stop-color="#2300ff" stop-opacity="0"/></linearGradient><linearGradient id="g66" x2="0" y2="1"><stop offset="0" stop-color="#0000d8" stop-opacity="0"/><stop offset=".164" stop-color="#0000d8"/><stop offset=".201" stop-color="#0000ff"/><stop offset=".301" stop-color="#5200ff"/><stop offset=".316" stop-color="#8700ff"/><stop offset=".351" stop-color="#ff4cb3"/><stop offset=".355" stop-color="#ff56a9"/><stop offset=".41" stop-color="#ffbf40"/><stop offset=".601" stop-color="#ffdd22"/><stop offset=".765" stop-color="#ffb04f"/><stop offset=".896" stop-color="#ff748b"/><stop offset=".912" stop-color="#ff4cb3"/><stop offset=".944" stop-color="#8700ff"/><stop offset=".945" stop-color="#8100ff"/><stop offset="1" stop-color="#8100ff" stop-opacity="0"/></linearGradient><linearGradient id="g67" x2="0" y2="1"><stop offset="0" stop-color="#ff56a9" stop-opacity="0"/><stop offset=".095" stop-color="#ff56a9"/><stop offset=".176" stop-color="#fffb04"/><stop offset=".183" stop-color="#ffff00"/><stop offset=".257" stop-color="#ffffff"/><stop offset=".649" stop-color="#ffffff"/><stop offset=".713" stop-color="#ffff00"/><stop offset=".743" stop-color="#ffec13"/><stop offset=".838" stop-color="#ff56a9"/><stop offset=".843" stop-color="#ff4cb3"/><stop offset=".884" stop-color="#8700ff"/><stop offset=".919" stop-color="#2300ff"/><stop offset="1" stop-color="#2300ff" stop-opacity="0"/></linearGradient><linearGradient id="g68" x2="0" y2="1"><stop offset="0" stop-color="#df38c7" stop-opacity="0"/><stop offset=".092" stop-color="#df38c7"/><stop offset=".106" stop-color="#ff4cb3"/><stop offset=".184" stop-color="#ffbf40"/><stop offset=".282" stop-color="#ffff00"/><stop offset=".289" stop-color="#ffff1e"/><stop offset=".474" stop-color="#ffffa1"/><stop offset=".645" stop-color="#ffff1e"/><stop offset=".652" stop-color="#ffff00"/><stop offset=".75" stop-color="#ffbf40"/><stop offset=".828" stop-color="#ff4cb3"/><stop offset=".842" stop-color="#df38c7"/><stop offset=".879" stop-color="#8700ff"/><stop offset=".921" stop-color="#2300ff"/><stop offset="1" stop-color="#2300ff" stop-opacity="0"/></linearGradient><linearGradient id="g69" x2="0" y2="1"><stop offset="0" stop-color="#000000" stop-opacity="0"/><stop offset=".193" stop-color="#0000b4"/><stop offset=".807" stop-color="#0000b4"/><stop offset="1" stop-color="#000000" stop-opacity="0"/></linearGradient><linearGradient id="g70" x2="0" y2="1"><stop offset="0" stop-color="#000000" stop-opacity="0"/><stop offset=".193" stop-color="#000024"/><stop offset=".807" stop-color="#000024"/><stop offset="1" stop-color="#000000" stop-opacity="0"/></linearGradient><linearGradient id="g71" x2="0" y2="1"><stop offset="0" stop-color="#0c00ff" stop-opacity="0"/><stop offset=".303" stop-color="#0c00ff"/><stop offset=".417" stop-color="#8100ff"/><stop offset=".423" stop-color="#8700ff"/><stop offset=".53" stop-color="#f647b8"/><stop offset=".795" stop-color="#f647b8"/><stop offset=".872" stop-color="#8700ff"/><stop offset=".909" stop-color="#5200ff"/><stop offset="1" stop-color="#5200ff" stop-opacity="0"/></linearGradient><linearGradient id="g72" x2="0" y2="1"><stop offset="0" stop-color="#b01ae5" stop-opacity="0"/><stop offset=".35" stop-color="#b01ae5"/><stop offset=".65" stop-color="#b01ae5"/><stop offset="1" stop-color="#b01ae5" stop-opacity="0"/></linearGradient><linearGradient id="g73" x2="0" y2="1"><stop offset="0" stop-color="#2300ff" stop-opacity="0"/><stop offset=".35" stop-color="#2300ff"/><stop offset=".65" stop-color="#2300ff"/><stop offset="1" stop-color="#2300ff" stop-opacity="0"/></linearGradient><linearGradient id="g74" x2="0" y2="1"><stop offset="0" stop-color="#0000e4" stop-opacity="0"/><stop offset=".35" stop-color="#0000e4"/><stop offset=".65" stop-color="#0000e4"/><stop offset="1" stop-color="#0000e4" stop-opacity="0"/></linearGradient><linearGradient id="g75" x2="0" y2="1"><stop offset="0" stop-color="#ffa15e" stop-opacity="0"/><stop offset=".35" stop-color="#ffa15e"/><stop offset=".65" stop-color="#ffa15e"/><stop offset="1" stop-color="#ffa15e" stop-opacity="0"/></linearGradient><linearGradient id="g76" x2="0" y2="1"><stop offset="0" stop-color="#0c00ff" stop-opacity="0"/><stop offset=".35" stop-color="#0c00ff"/><stop offset=".65" stop-color="#0c00ff"/><stop offset="1" stop-color="#0c00ff" stop-opacity="0"/></linearGradient><linearGradient id="g77" x2="0" y2="1"><stop offset="0" stop-color="#d12fd0" stop-opacity="0"/><stop offset=".35" stop-color="#d12fd0"/><stop offset=".65" stop-color="#d12fd0"/><stop offset="1" stop-color="#d12fd0" stop-opacity="0"/></linearGradient><linearGradient id="g78" x2="0" y2="1"><stop offset="0" stop-color="#1000ff" stop-opacity="0"/><stop offset=".35" stop-color="#1000ff"/><stop offset=".65" stop-color="#1000ff"/><stop offset="1" stop-color="#1000ff" stop-opacity="0"/></linearGradient><linearGradient id="g79" x2="0" y2="1"><stop offset="0" stop-color="#1a00ff" stop-opacity="0"/><stop offset=".35" stop-color="#1a00ff"/><stop offset=".65" stop-color="#1a00ff"/><stop offset="1" stop-color="#1a00ff" stop-opacity="0"/></linearGradient><linearGradient id="g80" x2="0" y2="1"><stop offset="0" stop-color="#0000e4" stop-opacity="0"/><stop offset=".35" stop-color="#0000e4"/><stop offset=".65" stop-color="#0000e4"/><stop offset="1" stop-color="#0000e4" stop-opacity="0"/></linearGradient><linearGradient id="g81" x2="0" y2="1"><stop offset="0" stop-color="#0c00ff" stop-opacity="0"/><stop offset=".35" stop-color="#0c00ff"/><stop offset=".65" stop-color="#0c00ff"/><stop offset="1" stop-color="#0c00ff" stop-opacity="0"/></linearGradient><linearGradient id="g82" x2="0" y2="1"><stop offset="0" stop-color="#8100ff" stop-opacity="0"/><stop offset=".35" stop-color="#8100ff"/><stop offset=".65" stop-color="#8100ff"/><stop offset="1" stop-color="#8100ff" stop-opacity="0"/></linearGradient><linearGradient id="g83" x2="0" y2="1"><stop offset="0" stop-color="#ffff43" stop-opacity="0"/><stop offset=".35" stop-color="#ffff43"/><stop offset=".65" stop-color="#ffff43"/><stop offset="1" stop-color="#ffff43" stop-opacity="0"/></linearGradient><linearGradient id="g84" x2="0" y2="1"><stop offset="0" stop-color="#ff6e91" stop-opacity="0"/><stop offset=".35" stop-color="#ff6e91"/><stop offset=".65" stop-color="#ff6e91"/><stop offset="1" stop-color="#ff6e91" stop-opacity="0"/></linearGradient><linearGradient id="g85" x2="0" y2="1"><stop offset="0" stop-color="#1000ff" stop-opacity="0"/><stop offset=".35" stop-color="#1000ff"/><stop offset=".65" stop-color="#1000ff"/><stop offset="1" stop-color="#1000ff" stop-opacity="0"/></linearGradient><linearGradient id="g86" x2="0" y2="1"><stop offset="0" stop-color="#0700ff" stop-opacity="0"/><stop offset=".35" stop-color="#0700ff"/><stop offset=".65" stop-color="#0700ff"/><stop offset="1" stop-color="#0700ff" stop-opacity="0"/></linearGradient><linearGradient id="g87" x2="0" y2="1"><stop offset="0" stop-color="#6900ff" stop-opacity="0"/><stop offset=".35" stop-color="#6900ff"/><stop offset=".65" stop-color="#6900ff"/><stop offset="1" stop-color="#6900ff" stop-opacity="0"/></linearGradient><linearGradient id="g88" x2="0" y2="1"><stop offset="0" stop-color="#2300ff" stop-opacity="0"/><stop offset=".35" stop-color="#2300ff"/><stop offset=".65" stop-color="#2300ff"/><stop offset="1" stop-color="#2300ff" stop-opacity="0"/></linearGradient><linearGradient id="g89" x2="0" y2="1"><stop offset="0" stop-color="#8100ff" stop-opacity="0"/><stop offset=".35" stop-color="#8100ff"/><stop offset=".65" stop-color="#8100ff"/><stop offset="1" stop-color="#8100ff" stop-opacity="0"/></linearGradient><linearGradient id="g90" x2="0" y2="1"><stop offset="0" stop-color="#1000ff" stop-opacity="0"/><stop offset=".35" stop-color="#1000ff"/><stop offset=".65" stop-color="#1000ff"/><stop offset="1" stop-color="#1000ff" stop-opacity="0"/></linearGradient><linearGradient id="g91" x2="0" y2="1"><stop offset="0" stop-color="#ff748b" stop-opacity="0"/><stop offset=".35" stop-color="#ff748b"/><stop offset=".65" stop-color="#ff748b"/><stop offset="1" stop-color="#ff748b" stop-opacity="0"/></linearGradient><linearGradient id="g92" x2="0" y2="1"><stop offset="0" stop-color="#ff56a9" stop-opacity="0"/><stop offset=".35" stop-color="#ff56a9"/><stop offset=".65" stop-color="#ff56a9"/><stop offset="1" stop-color="#ff56a9" stop-opacity="0"/></linearGradient><linearGradient id="g93" x2="0" y2="1"><stop offset="0" stop-color="#0700ff" stop-opacity="0"/><stop offset=".214" stop-color="#0700ff"/><stop offset=".329" stop-color="#8700ff"/><stop offset=".357" stop-color="#a614eb"/><stop offset=".607" stop-color="#a614eb"/><stop offset=".642" stop-color="#8700ff"/><stop offset=".786" stop-color="#0700ff"/><stop offset="1" stop-color="#0700ff" stop-opacity="0"/></linearGradient><linearGradient id="g94" x2="0" y2="1"><stop offset="0" stop-color="#0700ff" stop-opacity="0"/><stop offset=".214" stop-color="#0700ff"/><stop offset=".341" stop-color="#8700ff"/><stop offset=".357" stop-color="#980bf4"/><stop offset=".607" stop-color="#980bf4"/><stop offset=".628" stop-color="#8700ff"/><stop offset=".786" stop-color="#0700ff"/><stop offset="1" stop-color="#0700ff" stop-opacity="0"/></linearGradient><linearGradient id="g95" x2="0" y2="1"><stop offset="0" stop-color="#0700ff" stop-opacity="0"/><stop offset=".214" stop-color="#0700ff"/><stop offset=".299" stop-color="#8700ff"/><stop offset=".357" stop-color="#df38c7"/><stop offset=".607" stop-color="#df38c7"/><stop offset=".679" stop-color="#8700ff"/><stop offset=".786" stop-color="#0700ff"/><stop offset="1" stop-color="#0700ff" stop-opacity="0"/></linearGradient><linearGradient id="g96" x2="0" y2="1"><stop offset="0" stop-color="#0000f0" stop-opacity="0"/><stop offset=".169" stop-color="#0000f0"/><stop offset=".181" stop-color="#0000ff"/><stop offset=".282" stop-color="#6900ff"/><stop offset=".293" stop-color="#8700ff"/><stop offset=".334" stop-color="#ff4cb3"/><stop offset=".339" stop-color="#ff56a9"/><stop offset=".395" stop-color="#ffce31"/><stop offset=".442" stop-color="#ffff00"/><stop offset=".452" stop-color="#ffff43"/><stop offset=".508" stop-color="#ffffff"/><stop offset=".836" stop-color="#ffffff"/><stop offset=".877" stop-color="#ffff00"/><stop offset=".881" stop-color="#fffb04"/><stop offset=".921" stop-color="#ff748b"/><stop offset=".931" stop-color="#ff4cb3"/><stop offset=".951" stop-color="#8700ff"/><stop offset=".96" stop-color="#5200ff"/><stop offset="1" stop-color="#5200ff" stop-opacity="0"/></linearGradient><linearGradient id="g97" x2="0" y2="1"><stop offset="0" stop-color="#0000f0" stop-opacity="0"/><stop offset=".208" stop-color="#0000f0"/><stop offset=".253" stop-color="#0000ff"/><stop offset=".387" stop-color="#2300ff"/><stop offset=".476" stop-color="#8100ff"/><stop offset=".479" stop-color="#8700ff"/><stop offset=".53" stop-color="#ff4cb3"/><stop offset=".536" stop-color="#ff56a9"/><stop offset=".595" stop-color="#ffa15e"/><stop offset=".655" stop-color="#ffc23d"/><stop offset=".804" stop-color="#ffc23d"/><stop offset=".863" stop-color="#ff926d"/><stop offset=".9" stop-color="#ff4cb3"/><stop offset=".911" stop-color="#df38c7"/><stop offset=".933" stop-color="#8700ff"/><stop offset=".958" stop-color="#2300ff"/><stop offset="1" stop-color="#2300ff" stop-opacity="0"/></linearGradient><linearGradient id="g98" x2="0" y2="1"><stop offset="0" stop-color="#1000ff" stop-opacity="0"/><stop offset=".26" stop-color="#1000ff"/><stop offset=".781" stop-color="#1000ff"/><stop offset="1" stop-color="#1000ff" stop-opacity="0"/></linearGradient><linearGradient id="g99" x2="0" y2="1"><stop offset="0" stop-color="#0000de" stop-opacity="0"/><stop offset=".186" stop-color="#0000de"/><stop offset=".847" stop-color="#0000de"/><stop offset="1" stop-color="#0000de" stop-opacity="0"/></linearGradient><linearGradient id="g100" x2="0" y2="1"><stop offset="0" stop-color="#000039" stop-opacity="0"/><stop offset=".112" stop-color="#000039"/><stop offset=".874" stop-color="#00003f"/><stop offset="1" stop-color="#00003f" stop-opacity="0"/></linearGradient><linearGradient id="g101" x2="0" y2="1"><stop offset="0" stop-color="#000066" stop-opacity="0"/><stop offset=".079" stop-color="#00005a" stop-opacity="0.8"/><stop offset=".683" stop-color="#000063" stop-opacity="0.6"/><stop offset="1" stop-color="#000063" stop-opacity="0"/></linearGradient><linearGradient id="g102" x2="0" y2="1"><stop offset="0" stop-color="#000000" stop-opacity="0"/><stop offset=".16" stop-color="#000000"/><stop offset=".88" stop-color="#000000"/><stop offset="1" stop-color="#000000" stop-opacity="0"/></linearGradient><linearGradient id="g103" x2="0" y2="1"><stop offset="0" stop-color="#000000" stop-opacity="0"/><stop offset=".048" stop-color="#000000"/><stop offset=".792" stop-color="#000000"/><stop offset="1" stop-color="#000000" stop-opacity="0"/></linearGradient><linearGradient id="g104" x2="0" y2="1"><stop offset="0" stop-color="#000000" stop-opacity="0"/><stop offset=".095" stop-color="#000000"/><stop offset=".857" stop-color="#000000"/><stop offset="1" stop-color="#000000" stop-opacity="0"/></linearGradient><linearGradient id="g105" x2="0" y2="1"><stop offset="0" stop-color="#1000ff" stop-opacity="0"/><stop offset=".248" stop-color="#1000ff"/><stop offset=".743" stop-color="#1000ff"/><stop offset="1" stop-color="#1000ff" stop-opacity="0"/></linearGradient><linearGradient id="g106" x2="0" y2="1"><stop offset="0" stop-color="#1a00ff" stop-opacity="0"/><stop offset=".248" stop-color="#1a00ff"/><stop offset=".743" stop-color="#1a00ff"/><stop offset="1" stop-color="#1a00ff" stop-opacity="0"/></linearGradient><linearGradient id="g107" x2="0" y2="1"><stop offset="0" stop-color="#0c00ff" stop-opacity="0"/><stop offset=".248" stop-color="#0c00ff"/><stop offset=".743" stop-color="#0c00ff"/><stop offset="1" stop-color="#0c00ff" stop-opacity="0"/></linearGradient><linearGradient id="g108" x2="0" y2="1"><stop offset="0" stop-color="#0700ff" stop-opacity="0"/><stop offset=".248" stop-color="#0700ff"/><stop offset=".743" stop-color="#0700ff"/><stop offset="1" stop-color="#0700ff" stop-opacity="0"/></linearGradient><linearGradient id="g109" x2="0" y2="1"><stop offset="0" stop-color="#2d00ff" stop-opacity="0"/><stop offset=".143" stop-color="#2d00ff"/><stop offset=".286" stop-color="#6e00ff"/><stop offset=".529" stop-color="#5900ff"/><stop offset=".779" stop-color="#3800ff"/><stop offset=".891" stop-color="#0000ff"/><stop offset=".914" stop-color="#0000f0"/><stop offset="1" stop-color="#0000f0" stop-opacity="0"/></linearGradient><linearGradient id="g110" x2="0" y2="1"><stop offset="0" stop-color="#2700ff" stop-opacity="0"/><stop offset=".143" stop-color="#2700ff"/><stop offset=".286" stop-color="#6500ff"/><stop offset=".529" stop-color="#5000ff"/><stop offset=".779" stop-color="#3100ff"/><stop offset=".888" stop-color="#0000ff"/><stop offset=".914" stop-color="#0000f0"/><stop offset="1" stop-color="#0000f0" stop-opacity="0"/></linearGradient><linearGradient id="g111" x2="0" y2="1"><stop offset="0" stop-color="#4800ff" stop-opacity="0"/><stop offset=".143" stop-color="#4800ff"/><stop offset=".263" stop-color="#8700ff"/><stop offset=".286" stop-color="#9408f7"/><stop offset=".403" stop-color="#8700ff"/><stop offset=".529" stop-color="#7a00ff"/><stop offset=".779" stop-color="#5400ff"/><stop offset=".898" stop-color="#0000ff"/><stop offset=".914" stop-color="#0000f0"/><stop offset="1" stop-color="#0000f0" stop-opacity="0"/></linearGradient><linearGradient id="g112" x2="0" y2="1"><stop offset="0" stop-color="#4100ff" stop-opacity="0"/><stop offset=".143" stop-color="#4100ff"/><stop offset=".28" stop-color="#8700ff"/><stop offset=".286" stop-color="#8a02fd"/><stop offset=".314" stop-color="#8700ff"/><stop offset=".529" stop-color="#7200ff"/><stop offset=".779" stop-color="#4d00ff"/><stop offset=".896" stop-color="#0000ff"/><stop offset=".914" stop-color="#0000f0"/><stop offset="1" stop-color="#0000f0" stop-opacity="0"/></linearGradient><linearGradient id="g113" x2="0" y2="1"><stop offset="0" stop-color="#4b00ff" stop-opacity="0"/><stop offset=".143" stop-color="#4b00ff"/><stop offset=".255" stop-color="#8700ff"/><stop offset=".286" stop-color="#980bf4"/><stop offset=".445" stop-color="#8700ff"/><stop offset=".529" stop-color="#7f00ff"/><stop offset=".779" stop-color="#5800ff"/><stop offset=".898" stop-color="#0000ff"/><stop offset=".914" stop-color="#0000f0"/><stop offset="1" stop-color="#0000f0" stop-opacity="0"/></linearGradient><linearGradient id="g114" x2="0" y2="1"><stop offset="0" stop-color="#5800ff" stop-opacity="0"/><stop offset=".143" stop-color="#5800ff"/><stop offset=".224" stop-color="#8700ff"/><stop offset=".286" stop-color="#ab17e8"/><stop offset=".529" stop-color="#8f05fa"/><stop offset=".577" stop-color="#8700ff"/><stop offset=".779" stop-color="#6600ff"/><stop offset=".9" stop-color="#0000ff"/><stop offset=".914" stop-color="#0000f0"/><stop offset="1" stop-color="#0000f0" stop-opacity="0"/></linearGradient><linearGradient id="g115" x2="0" y2="1"><stop offset="0" stop-color="#4e00ff" stop-opacity="0"/><stop offset=".143" stop-color="#4e00ff"/><stop offset=".247" stop-color="#8700ff"/><stop offset=".286" stop-color="#9d0ef1"/><stop offset=".485" stop-color="#8700ff"/><stop offset=".529" stop-color="#8300ff"/><stop offset=".779" stop-color="#5b00ff"/><stop offset=".899" stop-color="#0000ff"/><stop offset=".914" stop-color="#0000f0"/><stop offset="1" stop-color="#0000f0" stop-opacity="0"/></linearGradient><linearGradient id="g116" x2="0" y2="1"><stop offset="0" stop-color="#3b00ff" stop-opacity="0"/><stop offset=".143" stop-color="#3b00ff"/><stop offset=".286" stop-color="#8100ff"/><stop offset=".529" stop-color="#6900ff"/><stop offset=".779" stop-color="#4600ff"/><stop offset=".895" stop-color="#0000ff"/><stop offset=".914" stop-color="#0000f0"/><stop offset="1" stop-color="#0000f0" stop-opacity="0"/></linearGradient><linearGradient id="g117" x2="0" y2="1"><stop offset="0" stop-color="#1a00ff" stop-opacity="0"/><stop offset=".143" stop-color="#1a00ff"/><stop offset=".286" stop-color="#5200ff"/><stop offset=".529" stop-color="#3f00ff"/><stop offset=".779" stop-color="#2300ff"/><stop offset=".88" stop-color="#0000ff"/><stop offset=".914" stop-color="#0000f0"/><stop offset="1" stop-color="#0000f0" stop-opacity="0"/></linearGradient><linearGradient id="g118" x2="0" y2="1"><stop offset="0" stop-color="#0000f0" stop-opacity="0"/><stop offset=".336" stop-color="#0000f0"/><stop offset=".382" stop-color="#0000ff"/><stop offset=".518" stop-color="#2300ff"/><stop offset="1" stop-color="#2800ff"/></linearGradient>
<filter id="noaa" filterUnits="userSpaceOnUse" x="0" y="0" width="2066" height="1067"><feOffset dx="0" dy="0"/></filter>
</defs>
<rect x="0" y="0" width="2066" height="1067" fill="#fff"/>
<g clip-path="url(#axclip)">
<rect x="120.5" y="50.4" width="1676.0" height="926.1" fill="#000082"/>
<rect x="120.5" y="51.4" width="1676.0" height="125.7" fill="url(#g1)"/>
<rect x="120.5" y="600.0" width="1676.0" height="331.0" fill="url(#g2)"/>
<rect x="120.5" y="953.0" width="1676.0" height="22.5" fill="url(#g3)"/>
<g filter="url(#soft)">
<path d="M1788.2 69V200M1038.9 69V206M1517.9 85V184M241.8 85V150M1458.3 72V201M669.0 115V166M1074.5 116V161M513.1 68V201M1047.2 72V199M670.6 71V199M1130.1 67V198M1648.3 69V201M408.2 98V126M1623.8 157V183M471.5 71V174M1585.8 70V199M1358.6 97V200M415.8 69V205M195.9 71V199M322.0 93V170M1721.2 67V200M292.1 70V202M885.7 69V198" stroke="#0000f0" stroke-opacity="0.4" stroke-width="0.5" fill="none"/>
<path d="M1228.3 93V196M1407.8 69V203M1004.6 73V202M1034.3 71V165M745.8 114V154M172.7 66V204M1543.9 70V203M630.0 66V202M716.8 73V198M1379.9 70V204M1225.4 67V202M231.3 72V201M917.2 68V202M243.0 73V200M557.7 72V205M261.3 71V202M1752.2 99V185M473.9 155V187M407.0 91V139M1594.3 69V204M845.0 72V204M1500.0 72V203M923.3 151V188M452.5 72V200M832.5 94V159M1666.1 70V204M1509.7 66V199M1407.6 118V205M340.3 80V194M1697.0 141V172M951.2 69V100M1205.5 85V192" stroke="#0000d2" stroke-opacity="0.6" stroke-width="1.5" fill="none"/>
<path d="M955.8 73V201M1169.9 71V199M1755.7 69V199M360.9 69V199M1666.2 106V192M889.1 126V186M239.4 173V204M1662.3 69V203M697.6 72V206M1611.3 71V205M1538.3 70V201M129.1 71V205M652.6 75V180M1531.1 72V204M434.4 74V206M993.8 92V137M1666.3 134V166M277.0 68V205M1347.2 66V200M299.8 69V202M1658.2 84V145M925.0 68V198M430.8 68V201M1602.9 83V174M373.8 72V203M465.4 73V200M1243.6 71V202M766.4 153V193M795.5 90V124M1158.4 73V202M1688.5 66V203M754.8 72V198M1219.5 70V205M1780.6 67V204M438.5 104V157M1146.5 69V201M562.4 67V202M1717.3 66V198M1067.7 74V205M598.9 107V152M890.4 73V202" stroke="#0000b4" stroke-opacity="0.4" stroke-width="1.0" fill="none"/>
<path d="M1314.0 73V205M842.3 69V201M543.1 67V203M729.7 68V202M821.7 139V176M946.4 68V199M1743.6 101V171M154.8 71V202M1517.8 73V205M1716.7 70V202M1253.7 67V203M1323.7 66V199M122.2 71V206M494.5 73V200M1339.4 84V136M861.2 72V202M358.4 66V188M836.0 155V206M837.9 71V203M328.0 71V202M270.4 72V203M905.3 71V200M1370.3 68V201M1730.6 66V205M1648.4 71V199M238.7 70V198M1068.4 67V201M777.4 67V206M186.0 69V203M492.6 69V202M1304.8 157V196M457.5 107V192M214.8 73V198M177.4 73V203M353.4 70V202M1232.3 72V199M1094.7 72V205M854.6 71V198M439.0 67V205M1538.7 71V203M1367.8 74V198M565.4 72V205M1265.6 67V201M773.7 156V201M1495.8 70V200M1380.1 68V205M1520.2 73V203M1473.2 70V206M820.8 67V202M1395.0 72V200M1410.0 71V201" stroke="#0000f0" stroke-opacity="0.6" stroke-width="1.0" fill="none"/>
<path d="M1622.0 67V198M431.1 67V205M412.8 142V205M368.3 69V124M266.9 66V205M1351.5 67V200M1024.7 74V204M995.4 68V201M1495.6 70V205M224.5 69V199M700.5 66V199M174.1 67V204M1617.8 67V203M1459.0 70V206M778.9 70V204M1527.1 147V195M970.1 73V200M1722.2 69V202M945.8 72V201M726.5 66V203M1230.8 70V203M433.6 72V206M818.5 73V201M276.7 70V200M330.7 69V134M162.4 69V202M781.8 70V201M442.1 110V179M499.4 70V199M230.5 76V172M277.5 68V201M1543.8 108V205M1422.2 70V137M296.5 67V199M310.0 141V188M852.4 73V203M638.3 71V203M1043.2 147V186M1041.6 105V199M644.7 67V201M1247.2 71V202M327.1 67V203M1701.7 88V141M1646.5 68V201" stroke="#0000f0" stroke-opacity="0.6" stroke-width="1.5" fill="none"/>
<path d="M550.8 66V204M631.6 71V201M1682.1 67V200M1086.1 66V204M163.6 73V204M1641.5 71V203M204.5 71V202M261.9 68V200M1541.5 69V202M1612.9 74V200M233.4 72V202M435.9 171V197M797.6 69V206M926.4 73V205M661.8 82V163M1294.2 73V202M983.3 73V201M1061.9 73V203M887.0 109V142M955.0 125V189M816.0 73V200M1324.8 71V200M362.5 71V205M972.7 70V204" stroke="#0000f0" stroke-opacity="0.2" stroke-width="1.5" fill="none"/>
<path d="M642.9 72V202M1435.9 67V201M490.4 72V205M1341.1 71V205M772.4 67V198M1553.1 73V199M721.7 72V199M781.7 71V201M620.9 68V200M850.5 74V205M762.4 68V203M162.4 71V201M1714.4 72V204M1333.1 68V202M1014.7 66V203M825.8 72V205M1727.2 127V181M422.9 69V201M1100.2 86V121M580.6 73V202M267.9 68V203M1475.7 67V201M361.7 67V202M612.3 68V200M737.9 68V199M843.2 70V206" stroke="#0000d2" stroke-opacity="0.2" stroke-width="1.5" fill="none"/>
<path d="M1196.1 66V201M1779.7 131V177M1299.9 69V205M301.9 70V199M376.8 130V202M952.8 69V202M148.4 70V198M314.9 73V199M627.0 69V200M1397.9 69V198M927.1 73V199M1446.8 69V204M389.8 68V202M207.1 73V202M1063.3 70V200M232.6 73V202M1581.0 66V200M304.7 69V146M1122.2 73V160M181.4 98V170M558.5 71V199M730.8 68V176M1717.8 67V121M404.0 70V205M1137.1 66V201M1777.2 134V181M1459.1 69V206M1224.5 68V201M171.1 73V203M1546.2 70V205M1441.2 66V205M1104.5 121V173M635.5 67V202M324.4 68V200M1618.2 74V199M992.8 71V206M369.2 71V204M224.8 68V203M370.6 74V205M1072.0 70V200M1171.2 71V204M202.9 71V205M908.5 71V205M1340.4 71V202M1423.6 67V204M1366.7 71V204M326.3 70V205M208.4 70V198M214.9 71V202M710.0 135V202" stroke="#0000d2" stroke-opacity="0.4" stroke-width="1.5" fill="none"/>
<path d="M1579.4 71V198M1749.1 71V205M512.9 72V199M1483.2 70V131M1128.7 81V163M571.3 85V117M1269.0 67V199M669.6 70V202M1263.5 113V175M1157.5 74V206M259.1 148V176M884.9 91V143M1415.4 68V204M168.4 74V201M498.9 68V204M443.4 101V176M1202.3 98V202M895.6 67V204M1201.4 68V204" stroke="#0c00ff" stroke-opacity="0.4" stroke-width="1.5" fill="none"/>
<path d="M364.6 70V202M169.3 68V205M1245.2 72V205M547.7 74V205M1158.6 68V204M711.5 72V204M1534.1 72V203M1258.5 73V198M881.3 80V180M1419.6 69V155M327.5 69V200M761.5 74V199M299.4 67V202M1465.4 71V206M1454.7 67V199M1539.6 70V204M1782.7 70V205M326.6 68V204M739.2 77V104M1269.7 72V199M929.5 73V201M1319.7 69V146M887.3 73V204" stroke="#0000b4" stroke-opacity="0.4" stroke-width="1.5" fill="none"/>
<path d="M1496.1 68V204M569.5 72V200M504.9 72V205M1210.4 118V167M1611.6 68V201M1209.5 70V205M843.3 69V202M1651.2 72V202M290.7 68V200M1336.4 70V199M1428.6 85V119M333.1 66V142M1540.2 66V205M309.1 95V173M168.8 74V204M567.4 67V201M827.2 72V205M1654.9 73V205M1089.9 74V202M1687.4 71V203M497.1 73V205M1053.0 72V203M915.1 72V204M251.0 69V204M908.1 106V195M814.7 66V206M939.3 68V204M1726.5 73V205M1288.5 69V203M1187.1 71V202M1504.4 72V198M1264.6 70V201M331.1 130V171M398.5 70V200M1293.1 74V199M901.9 70V202M1311.3 73V205M748.3 67V204M1604.3 67V199M1592.1 71V200M628.7 68V204M1191.4 69V204M1416.0 72V204M197.0 68V205M207.0 73V206M1453.6 68V200M1428.8 84V161M393.4 129V195M860.0 110V152M1461.8 102V169M551.6 70V206M1305.8 70V204M1710.6 76V188M252.7 69V203M413.5 71V204M1112.7 70V205M574.3 68V206M475.9 71V204M1743.2 71V199M264.3 69V199M960.9 84V181M586.1 72V206M845.0 70V198M851.1 69V206M205.4 73V202M1288.1 67V206M817.4 71V204M1150.0 66V204M517.2 74V204M1486.1 103V186M1606.1 74V203M955.4 71V201M525.6 70V206M879.3 67V203M538.3 134V197" stroke="#0000f0" stroke-opacity="0.4" stroke-width="1.0" fill="none"/>
<path d="M593.7 112V187M1761.8 66V200M822.9 79V182M415.0 68V205M350.8 127V152M1595.3 130V159M263.0 71V201M674.3 71V201M1213.4 67V199M1683.8 100V173M346.9 66V205M1794.2 67V206" stroke="#0000b4" stroke-opacity="0.2" stroke-width="1.5" fill="none"/>
<path d="M390.4 74V203M1198.7 68V202M1148.1 72V204M1479.7 67V201M262.7 66V201M664.2 73V200M950.8 83V138M631.7 127V162M979.2 71V201M1666.6 70V200M1543.9 67V204M1320.6 72V198M917.5 66V202M622.1 70V206M1621.3 66V199M1321.3 70V200M1102.6 71V199M1420.4 84V185M661.3 70V203M1209.5 81V124M1168.2 108V159M384.3 143V188M265.4 71V202M1579.8 67V199M1439.6 69V203M863.6 67V199M238.5 67V203M551.5 70V205M1083.4 71V201M525.5 73V115M1402.7 68V200M1249.4 70V201M771.9 72V199M444.9 72V201M891.9 72V200M220.5 69V204M334.7 73V199M1757.2 73V200M627.1 121V189M919.3 74V173M1482.7 132V169M1781.1 73V198M1324.0 69V198M1073.8 68V199M1762.4 76V126M348.3 68V202M596.4 102V154M845.9 70V199M286.6 71V204M636.4 68V204M1303.4 71V206M1257.2 141V196M146.3 74V198" stroke="#0000f0" stroke-opacity="0.4" stroke-width="1.5" fill="none"/>
<path d="M807.6 73V200M1534.9 74V200M464.2 135V171M1044.9 75V128M1157.8 71V202M367.8 74V201M1370.7 83V169M1132.3 73V201M1658.5 72V200M879.9 70V205M779.8 73V200M473.4 67V194M1357.3 87V118M765.1 67V205M391.0 67V201M430.0 68V205M1516.3 70V200M1161.7 67V200M1727.6 94V130M1153.1 68V205M399.8 74V205" stroke="#0000b4" stroke-opacity="0.6" stroke-width="1.5" fill="none"/>
<path d="M273.0 107V170M1092.5 73V201M1700.8 130V175M889.2 66V199M621.0 74V200M1522.8 73V200M1208.0 68V199M1651.4 72V203M331.9 162V201M352.9 67V199M1294.1 66V202M852.8 71V200M533.0 162V194M963.7 72V204M1584.8 69V205M1098.0 114V163" stroke="#0c00ff" stroke-opacity="0.2" stroke-width="1.0" fill="none"/>
<path d="M1759.2 74V199M354.3 82V157M472.0 67V201M977.8 70V203M1744.3 73V205M1604.2 131V182M441.7 110V161M1454.7 71V200M412.7 67V198M380.6 71V200M230.0 72V204M1738.9 69V200M1055.8 126V189M451.3 66V204M650.0 72V201M397.1 69V200M1136.4 66V201M274.5 68V206M1766.8 70V201M225.6 91V145M443.0 104V147M1408.9 100V193M670.9 67V201M1273.2 69V204M182.4 72V200M260.4 67V200M1230.5 73V201M1234.1 100V139M737.4 67V204M502.7 70V205M1696.2 67V114" stroke="#0000f0" stroke-opacity="0.2" stroke-width="1.0" fill="none"/>
<path d="M1733.2 73V205M361.1 71V205M1743.4 66V199M487.0 68V200M1133.2 71V204M1576.0 69V201M1647.6 66V206M860.2 74V202M1692.4 72V201M818.0 156V184M1517.9 72V198M1613.2 76V197" stroke="#0000b4" stroke-opacity="0.2" stroke-width="0.5" fill="none"/>
<path d="M874.6 71V200M401.7 74V201M603.9 71V205M961.6 69V205M1408.1 69V202M225.0 68V201M1213.3 72V204M128.5 72V202M535.0 69V204M1481.9 67V169M1460.9 73V204M940.3 74V203M1504.6 71V206M794.5 67V200M608.5 66V202M1740.8 74V202M1515.6 71V200" stroke="#0000b4" stroke-opacity="0.2" stroke-width="1.0" fill="none"/>
<path d="M892.6 72V202M169.4 72V198M1740.8 100V196M1167.4 69V202M1384.9 98V137M907.0 67V203M1491.6 71V203M439.3 86V197M142.3 71V199M645.3 72V202M1090.4 74V205M324.2 70V203M437.2 72V199M507.1 72V204" stroke="#0000d2" stroke-opacity="0.2" stroke-width="0.5" fill="none"/>
<path d="M1235.2 116V155M969.1 72V193M302.4 74V198M1046.3 67V203M1124.4 70V204M1061.6 79V150M1676.4 74V205M212.6 121V190M375.4 72V203M704.6 153V201M1342.9 67V205M548.3 67V204M937.1 117V170M1647.2 73V202M710.6 72V200M670.3 70V198M1419.6 107V161M1588.8 69V205M239.4 72V200M238.0 74V203M254.7 87V199M606.8 71V201M1461.0 73V203M1778.3 69V202M1124.6 73V200M1728.9 68V199M700.5 73V203M355.3 77V150M1233.1 74V199M1426.2 69V203M267.0 69V200M270.4 68V205M253.3 69V199M1607.8 72V202M583.1 73V205M931.0 68V205M827.9 72V204M1051.8 68V200M1364.6 74V200M1648.1 70V200M1611.7 134V166M967.4 68V198M266.0 68V201M1026.7 69V205M1511.3 71V200M904.1 168V205M296.5 71V204M1734.0 139V169M1634.1 72V199M136.1 70V201M1653.1 68V205M797.5 69V202M1639.1 72V201M495.1 68V199M1791.6 71V202M1209.4 68V200M1740.8 73V202M163.7 72V202M1358.9 129V173M1534.3 74V202M905.5 74V204M948.5 67V200M1164.8 69V202M351.3 68V199M1369.9 67V200" stroke="#0000d2" stroke-opacity="0.4" stroke-width="1.0" fill="none"/>
<path d="M1759.2 111V179M1037.7 94V170M1199.5 71V203M1009.1 67V149M727.9 69V205M1779.9 71V199M497.9 84V202M614.8 72V203M1117.5 68V201M1159.4 67V202" stroke="#0c00ff" stroke-opacity="0.6" stroke-width="1.5" fill="none"/>
<path d="M1689.1 105V186M310.0 72V201M1471.1 67V200M1368.8 69V205M219.5 127V192M821.9 71V200M1230.9 72V201M402.1 93V190M727.9 72V200M122.0 70V204M1504.1 69V203M742.3 73V199M1043.5 68V205M1328.7 69V205M711.7 72V203M819.7 74V107M334.0 73V205M256.6 137V169M1125.8 74V205M1176.8 68V203M1024.0 72V202M1735.0 73V202M1090.3 72V205M1127.1 71V204M919.0 137V173M198.1 71V204M1507.1 94V189M606.1 66V202M1521.5 71V198M924.5 69V201M1746.3 138V187M288.7 74V204M924.5 164V193M744.1 68V199M1500.5 112V168M1656.2 71V205M747.5 70V201M1592.6 68V203M1053.0 67V202" stroke="#0000d2" stroke-opacity="0.6" stroke-width="1.0" fill="none"/>
<path d="M391.1 72V205M816.5 68V198M1329.3 125V203M803.0 71V202M1257.7 72V203M677.3 71V199M472.6 70V203M789.2 71V204M1495.8 73V202M1584.9 93V145M573.9 161V189M366.4 74V199M911.2 66V203M137.6 67V202M1451.1 73V201M1544.0 70V204M1459.2 72V204M890.7 127V175M435.4 72V204M1736.9 73V200M614.1 72V199M635.5 68V204M1793.7 73V198M425.1 67V198M1750.3 67V199M1510.4 120V165M277.5 87V182M904.2 71V199M122.2 82V130M508.3 83V134M1360.7 84V149" stroke="#0000d2" stroke-opacity="0.2" stroke-width="1.0" fill="none"/>
<path d="M701.1 158V189M1286.3 111V137M494.3 73V202M337.2 71V200M380.0 68V205M1289.3 72V204M913.1 155V188M1316.0 66V205M561.2 68V203M150.0 98V130M650.0 71V199M1381.5 73V202M1694.2 70V204M764.8 127V165M885.0 71V204M947.5 66V204M1144.1 73V204M922.5 73V201M640.5 69V202M707.3 129V177M1723.3 67V202M1480.5 71V201M941.7 68V203M886.6 73V202M1575.0 71V205M1659.5 71V206M402.4 91V129M532.9 69V202M459.9 72V201M127.4 72V201M405.1 68V205M414.4 70V198M725.0 71V198M1433.3 73V198M1703.3 70V203M1498.4 72V200" stroke="#0000b4" stroke-opacity="0.6" stroke-width="1.0" fill="none"/>
<path d="M1198.2 67V202M1073.1 70V205M430.5 69V200M1633.1 121V166M450.5 70V205M1440.1 113V179M1042.4 71V203M1706.0 71V206M1682.3 72V203M301.0 68V200M1780.2 71V203M1164.1 69V204M1080.1 71V201M820.7 125V196M189.5 66V205M795.5 67V204M870.8 71V204M1492.6 68V204M1377.7 72V201M1623.1 73V206M1481.9 72V205M193.6 80V191" stroke="#0000f0" stroke-opacity="0.6" stroke-width="0.5" fill="none"/>
<path d="M199.5 73V205M1171.9 74V204M237.9 70V202M748.4 106V155M1494.6 88V126M646.2 96V181M208.1 152V203M1057.7 76V120M463.0 95V199M1238.8 66V206M260.0 70V205M1358.2 68V199M792.3 72V200" stroke="#0000f0" stroke-opacity="0.2" stroke-width="0.5" fill="none"/>
<path d="M737.4 66V205M700.0 72V202M256.6 71V204M1250.4 72V206M649.2 71V203M1561.9 73V204M259.1 108V205M1258.5 72V202M854.2 72V200M442.2 106V145M131.5 88V142M194.4 103V173M849.0 72V204M529.4 71V199M480.0 73V199M1353.5 111V164M284.6 72V205M156.9 72V200M1232.9 71V203M880.2 69V206M551.5 70V204" stroke="#0000d2" stroke-opacity="0.4" stroke-width="0.5" fill="none"/>
<path d="M995.0 69V204M940.6 70V205M557.6 73V199M429.4 67V199M965.4 71V203" stroke="#0c00ff" stroke-opacity="0.4" stroke-width="0.5" fill="none"/>
<path d="M287.5 73V202M1578.2 67V201M738.0 125V192M280.3 70V206M1163.8 68V199M905.4 74V203M937.6 73V206M904.3 69V198M598.5 69V205M1048.1 73V201M833.1 70V203M355.2 68V204M997.9 69V204M1483.3 69V199M1251.2 168V205" stroke="#0000d2" stroke-opacity="0.6" stroke-width="0.5" fill="none"/>
<path d="M1483.6 68V205M1389.4 69V198M1691.6 69V202M462.8 69V203" stroke="#0c00ff" stroke-opacity="0.2" stroke-width="1.5" fill="none"/>
<path d="M174.3 128V187M1164.7 67V199M204.7 70V200M580.3 70V206M1371.6 67V199M853.8 69V203M448.3 69V206M524.8 116V161M811.4 70V200M199.4 70V202M692.8 67V199M1528.3 67V199M124.3 68V205M1345.5 68V202M125.4 68V202M902.7 68V205M183.9 74V204" stroke="#0000b4" stroke-opacity="0.4" stroke-width="0.5" fill="none"/>
<path d="M1265.1 66V206M1124.5 67V201M364.7 66V206M1507.3 67V205M649.0 73V206M925.6 120V191M245.2 68V204M432.2 72V203M830.9 70V204M503.2 71V205M610.7 70V201M1726.4 123V172M1337.9 151V195M691.5 69V205" stroke="#0c00ff" stroke-opacity="0.6" stroke-width="1.0" fill="none"/>
<path d="M293.2 73V200M1679.7 66V204M1495.0 99V147M1232.9 67V205" stroke="#0c00ff" stroke-opacity="0.6" stroke-width="0.5" fill="none"/>
<path d="M511.3 83V167M1716.5 71V199M521.0 68V204M1408.3 76V173M330.4 93V202" stroke="#0000b4" stroke-opacity="0.6" stroke-width="0.5" fill="none"/>
<path d="M899.9 70V206M1584.8 69V198M243.7 66V206" stroke="#0c00ff" stroke-opacity="0.2" stroke-width="0.5" fill="none"/>
<path d="M1409.9 69V205M1052.6 72V204M996.5 71V201M166.6 70V200M1042.0 70V198M1184.4 67V199M1553.4 70V202M725.7 73V206M623.2 155V190M1018.5 84V118M370.8 67V200M1591.9 68V203" stroke="#0c00ff" stroke-opacity="0.4" stroke-width="1.0" fill="none"/>
<path d="M1317.1 73V185M1540.5 72V206M869.1 72V198M1326.8 73V201M272.5 160V204M1209.8 68V205M1659.7 71V199M1650.1 76V116M1691.1 70V161M293.4 71V205M1167.7 70V200M941.8 71V204M943.2 74V203M1704.9 69V205M447.1 177V202M1637.0 73V205M1788.2 67V199M1388.0 126V205M785.0 72V202M530.5 73V201M280.8 165V192M1329.5 72V202M1352.0 68V204M904.4 86V180M935.1 72V204M1286.1 66V204M868.6 69V203M1746.8 73V204M819.3 72V201M1052.2 70V204M232.4 74V202M985.3 138V170M1517.8 69V199M583.1 69V203M981.8 86V172M1618.9 69V201M1218.5 70V206M817.4 69V200M715.4 73V200M218.2 66V201M453.7 66V203M1411.2 69V204M285.8 68V205M918.2 72V202M1497.6 71V202M1031.8 74V204M1088.0 72V202" stroke="#00005a" stroke-opacity="0.4" stroke-width="1.5" fill="none"/>
<path d="M156.0 72V206" stroke="#000078" stroke-opacity="0.4" stroke-width="2.0" fill="none"/>
<path d="M1539.4 71V206M653.9 67V204M1019.3 69V199M1489.4 70V203M289.3 67V203M1203.0 69V181M1179.8 79V180M1440.4 70V202M1775.7 67V198M1601.8 69V201M1053.5 68V199M1528.4 67V202M266.4 66V202M737.1 70V201M880.7 74V199M1051.9 141V191M1451.4 71V203M515.2 107V172M1170.8 69V204M1630.8 121V165M319.4 67V203M718.4 71V204M233.8 67V200M1145.2 72V204M688.2 67V205M1012.1 72V198M1556.7 71V199M390.3 144V183M1256.5 66V199M868.6 74V203M981.3 142V172M1082.1 68V205M1048.7 72V199M490.4 68V203M1271.0 67V203M1729.7 101V175M649.4 68V205M867.1 69V205M852.7 71V205M596.8 67V202M1217.8 74V202M1041.5 73V200M422.0 69V206M1506.6 74V205M1466.1 70V205M376.2 72V201M1443.4 86V125M1485.6 73V205" stroke="#00005a" stroke-opacity="0.4" stroke-width="1.0" fill="none"/>
<path d="M828.3 66V203M1029.7 68V205M246.8 73V202M935.2 73V205M1133.6 124V179M519.6 73V205M903.1 70V204M861.8 68V199M1717.6 70V202M1392.9 75V193M164.0 67V199M677.1 69V199M1518.4 72V205M1792.9 71V202M1670.6 68V198M173.5 83V160M875.5 96V198M926.9 70V202M1794.1 71V201M1639.6 68V202M1733.6 73V202M1149.3 68V200M849.5 68V205M344.6 71V202M1027.3 92V163M639.5 74V198M1163.2 69V203M221.9 101V182M986.5 81V189M871.8 68V201" stroke="#00005a" stroke-opacity="0.2" stroke-width="1.5" fill="none"/>
<path d="M440.7 73V201M1767.9 66V200M473.0 66V200M805.1 68V203M170.4 74V203M1498.4 70V205M214.2 67V200M855.9 67V201M136.0 70V204M343.2 70V203M477.8 73V198M1616.7 69V199M310.1 151V196M861.6 73V200M1723.9 72V202M1220.0 73V204M1184.3 70V200M507.9 78V103M399.8 74V203M837.5 70V205M1120.2 67V201M1531.9 72V202M576.0 88V181M803.9 71V205M1713.7 67V205M1328.2 125V170M1171.0 73V202M591.5 70V202M1350.0 72V206M1635.6 69V202M1286.3 68V198M1575.1 72V206M1269.0 150V196M192.7 107V175M625.8 72V199M1039.1 66V202M916.8 72V201M151.1 82V157M1390.0 67V199M1128.1 73V206M963.2 68V204M290.4 113V187M1585.9 117V165M1684.0 102V147M741.4 67V203M644.8 125V175M418.3 90V116M238.0 73V205" stroke="#00005a" stroke-opacity="0.4" stroke-width="2.0" fill="none"/>
<path d="M724.5 73V203M1635.6 68V201M1107.1 68V202M1558.0 72V205M1369.9 178V204M817.6 68V204M1575.5 72V200M211.7 73V202M1094.7 66V151M373.2 71V205M1622.3 84V111M1117.2 73V201M222.6 73V200M149.6 74V205M374.1 67V205M1193.1 66V205M1112.3 67V199M127.5 72V202M704.0 129V204M1541.2 137V182M1290.1 69V200M399.2 68V203M329.7 67V200M1392.8 71V198" stroke="#00005a" stroke-opacity="0.2" stroke-width="2.0" fill="none"/>
<path d="M1138.9 66V200M1775.7 68V203M1122.4 66V202M434.6 66V202M1679.2 72V202M1340.7 74V199M747.0 73V203" stroke="#000078" stroke-opacity="0.4" stroke-width="1.0" fill="none"/>
<path d="M1121.1 69V202M616.3 72V205M775.2 67V202M1210.6 66V202M746.5 68V203" stroke="#000078" stroke-opacity="0.2" stroke-width="2.0" fill="none"/>
<path d="M152.9 67V203M318.6 108V196M1514.2 67V199M601.3 69V202M199.5 67V206M1156.1 70V202" stroke="#000078" stroke-opacity="0.4" stroke-width="1.5" fill="none"/>
<path d="M1020.6 73V201M956.7 86V156M839.2 67V206M1584.9 73V204M1483.3 70V205M1704.7 66V202" stroke="#000078" stroke-opacity="0.2" stroke-width="1.0" fill="none"/>
<path d="M1741.6 67V203M759.8 74V204M686.0 162V197M1399.0 70V200M1426.2 73V200M1655.2 85V199M497.2 73V204M124.4 106V140M570.1 67V201M1400.2 67V201M551.5 87V116M525.2 71V206M1105.5 94V164M556.6 66V201M708.3 73V200M1286.5 97V137M468.0 70V203M1444.3 68V205M141.4 66V205M699.8 74V206M1126.7 72V202M517.6 76V198M1211.4 70V205M1031.4 109V146M1420.4 68V206" stroke="#00005a" stroke-opacity="0.2" stroke-width="1.0" fill="none"/>
<path d="M1319.1 86V138M1474.5 82V191M373.7 69V205" stroke="#000078" stroke-opacity="0.2" stroke-width="1.5" fill="none"/>
<path d="M807.0 239V278" stroke="#0000f0" stroke-opacity="0.2" stroke-width="0.5" fill="none"/>
<path d="M526.2 238V280M659.4 239V282M1111.2 243V281M223.4 238V279M322.6 244V277M1715.2 242V277M1441.0 240V279M373.4 239V284M1722.7 237V278M371.5 240V279M1593.5 243V279M1764.7 244V281M492.5 241V270M1103.7 246V283M999.2 239V278M444.5 239V277M1309.9 240V280M350.7 244V271M566.0 244V277M159.6 241V278M885.3 240V277M1415.3 240V280M1553.8 238V283M791.9 241V277M700.4 237V283M165.4 237V280M130.0 238V284M1102.6 240V277M1298.2 241V279M264.7 241V281M911.8 239V279M929.3 238V282M302.5 242V277M743.3 242V274" stroke="#0000b4" stroke-opacity="0.4" stroke-width="1.0" fill="none"/>
<path d="M763.3 239V279M1498.7 242V283M1100.6 242V277M1787.7 243V280M1039.3 243V282M797.2 244V281M780.3 241V282M860.2 243V279M776.3 240V283M1069.3 243V281M1204.5 250V280M270.4 242V278M908.7 245V280M223.0 243V284M1605.6 240V283M392.9 237V284M210.2 240V283M1187.8 245V281M1271.4 244V280M904.7 238V278M1384.2 239V279M393.0 244V281M772.4 244V280M728.1 241V276M1517.3 242V283M503.2 244V284M1092.7 243V281M1213.1 240V282M1737.9 238V283M462.3 238V281M953.9 240V279M657.9 237V283M590.5 240V279M709.5 238V278M1575.2 244V283M1088.6 243V281M655.2 244V284M600.3 242V281M1207.2 243V283" stroke="#0000d2" stroke-opacity="0.2" stroke-width="1.5" fill="none"/>
<path d="M1594.0 237V284M1017.3 245V282M1658.9 238V282M414.2 244V284M1081.9 239V276M1631.1 241V276M1628.0 239V281M1611.6 240V284M1436.3 239V280M543.6 242V282M1555.8 238V281M680.6 242V276M1441.3 242V283M1326.7 242V278M737.3 239V283M378.1 239V284M1272.4 243V281M1744.3 243V281M1721.1 240V280M602.8 239V282M484.2 244V280M1656.5 244V282" stroke="#0000b4" stroke-opacity="0.2" stroke-width="0.5" fill="none"/>
<path d="M700.4 240V278M471.7 245V276M935.4 238V277M1280.3 246V279M1770.9 238V283M1259.4 243V279M918.1 238V277M1749.8 240V281M1373.0 242V284M290.4 240V276M1632.6 243V277M770.1 244V282M1654.2 241V283M347.3 238V278M1560.0 242V280M1227.2 240V281M340.8 239V276M226.8 238V279M153.6 245V280M404.0 239V277M1058.5 237V270M1687.8 243V283M478.8 255V281" stroke="#0000d2" stroke-opacity="0.4" stroke-width="1.5" fill="none"/>
<path d="M1167.1 237V280M1027.4 254V283M1166.1 243V280M1720.0 237V270M1327.5 240V277M508.5 241V283M355.5 243V277M937.4 241V277M871.4 238V283M1606.9 240V283M1474.2 238V277M1787.0 244V280M646.9 239V278M1074.9 240V279M689.4 241V273M1641.9 242V278M490.3 238V277M1493.9 244V282M652.6 243V283M1171.4 240V276M1688.4 242V280M478.6 240V276M779.6 239V278M1103.2 237V284M344.4 240V283M497.4 248V275M1156.8 242V278M245.2 243V281M838.0 244V280M1691.3 243V281M942.8 237V282M1325.5 239V279M1197.3 243V278M866.9 240V277" stroke="#0000b4" stroke-opacity="0.2" stroke-width="1.5" fill="none"/>
<path d="M334.4 243V281M719.0 241V281M215.2 245V277M734.2 238V277M676.3 245V283M920.5 242V279M1068.2 247V279M977.2 244V279M976.7 238V277M318.9 239V280M748.0 239V276M361.0 240V283M841.2 237V283M988.2 242V280M1472.0 241V278M198.8 244V276M1133.7 241V283M775.4 245V277M756.5 239V280M201.1 244V277M1350.9 244V282M188.3 238V276M897.8 244V278M1518.5 243V278M1036.4 243V281M692.8 249V283M192.7 241V283M899.1 245V284M928.6 243V283M875.7 239V277M1756.4 241V278M895.1 237V282M922.4 240V281M507.0 244V278M1580.6 239V279M573.9 237V283M1666.2 239V278M909.9 241V283M1369.7 244V284M1529.9 239V280M1612.1 244V277M649.6 243V279M1705.4 238V281M1420.9 244V284M971.8 244V280M1563.2 241V279M1589.0 240V283M1750.0 242V277" stroke="#0000d2" stroke-opacity="0.2" stroke-width="1.0" fill="none"/>
<path d="M1770.5 238V281M1478.9 240V284M1197.1 239V284M1040.1 244V281M683.9 242V284M730.4 238V282M1595.5 239V273M1537.1 237V279M1584.9 242V284M1476.0 243V277M1528.5 245V282M122.8 241V280M670.0 242V284M1429.3 244V282M470.5 238V284M710.0 242V283M1238.2 243V277M992.5 242V284M993.0 239V283M222.5 244V283M574.6 240V279M1002.1 242V278M636.0 244V283M1189.8 242V282M1386.6 238V282M1365.1 241V276M1492.9 237V279M1612.0 241V277M1139.3 245V282M1775.0 242V283M505.5 238V280M726.0 251V277M1278.5 238V279M241.0 243V284M449.5 245V277M745.5 237V280M1458.9 239V281M627.3 238V278M545.6 244V278M1299.7 241V282M1694.2 242V279M1349.8 245V278M331.6 238V282M1463.4 241V280M207.8 237V281M1363.2 242V278M1344.0 243V276M1335.0 245V281M259.0 238V283" stroke="#0000d2" stroke-opacity="0.4" stroke-width="1.0" fill="none"/>
<path d="M420.5 241V276M1349.8 238V281M388.1 243V283M1114.2 242V277M780.0 240V283M593.0 242V279M632.9 244V283M586.2 240V279M962.6 240V279M898.1 243V276M876.9 237V281M1070.8 244V284M754.0 241V280M1732.4 245V283M1525.2 241V283M641.3 244V280M1441.4 244V284M1633.7 240V280M534.3 243V283M1671.9 242V282M1040.5 240V278M459.9 241V282M965.6 238V279M173.2 240V277M563.6 238V279M1169.5 243V278M1702.4 238V278M1347.4 243V277M153.9 244V282M1705.1 244V280M464.2 250V279M599.2 240V283M1190.8 240V279M1461.8 237V279M1679.1 238V277M416.6 245V278M660.2 237V283M1667.8 240V283M1556.0 245V277M1089.3 238V277M736.2 243V277M528.4 238V278M972.5 244V278" stroke="#0000b4" stroke-opacity="0.2" stroke-width="1.0" fill="none"/>
<path d="M642.9 242V277M1037.8 243V282M598.2 238V278M1480.2 242V283M648.1 240V283M888.7 238V282M617.7 240V277M1794.5 238V277M1177.6 239V283M360.5 237V283M130.2 241V283M1405.1 247V275M1423.3 242V283M878.2 244V283M593.4 240V281M831.5 242V280M541.7 237V277M1688.2 242V278M648.1 245V279M1258.5 242V283" stroke="#0000b4" stroke-opacity="0.4" stroke-width="1.5" fill="none"/>
<path d="M936.0 238V278M707.5 237V282M281.0 244V276M1569.5 245V278M1089.3 241V283M333.3 242V276M1520.8 244V279M1618.5 239V279M905.9 238V284M460.3 245V282M1186.6 238V281M871.8 240V277M464.1 243V283" stroke="#0000b4" stroke-opacity="0.4" stroke-width="0.5" fill="none"/>
<path d="M182.4 237V281M779.0 244V281M1588.3 245V279M1415.4 245V280M246.3 243V279M998.3 249V280M269.8 241V283M530.5 243V281M1638.8 249V278M781.7 238V266M661.8 242V281M265.2 237V281M453.5 238V282M759.1 242V282M1272.1 239V272M1207.5 240V281" stroke="#0000d2" stroke-opacity="0.4" stroke-width="0.5" fill="none"/>
<path d="M692.0 243V276M197.6 240V277M1206.9 245V282M1483.0 238V280M219.4 237V280M1495.2 241V279M1125.0 244V281M836.4 244V281M1773.1 243V277M644.2 240V281M1074.8 244V280M475.6 237V283M1259.6 242V279M1567.7 240V277M1685.2 239V279M755.3 241V279M1485.3 238V284M824.9 238V277" stroke="#0000d2" stroke-opacity="0.2" stroke-width="0.5" fill="none"/>
<path d="M323.4 240V278M989.6 245V281M884.5 238V280" stroke="#0000f0" stroke-opacity="0.4" stroke-width="1.5" fill="none"/>
<path d="M273.0 245V281M1707.3 239V277M1561.5 239V284M1144.0 240V278" stroke="#0000f0" stroke-opacity="0.2" stroke-width="1.5" fill="none"/>
<path d="M668.8 239V277M260.6 239V276M1691.5 238V277M676.1 241V282M1241.7 245V279M1223.7 240V282M1617.8 245V280M1323.4 243V276" stroke="#0000f0" stroke-opacity="0.2" stroke-width="1.0" fill="none"/>
<path d="M1086.8 244V277M275.8 239V279M697.3 241V278M1648.8 244V282" stroke="#0000f0" stroke-opacity="0.4" stroke-width="1.0" fill="none"/>
<path d="M461.1 243V281" stroke="#0000f0" stroke-opacity="0.4" stroke-width="0.5" fill="none"/>
<path d="M1207.8 242V282M949.4 238V280M1569.2 245V277M1258.3 240V277M134.5 240V282M723.8 242V279M628.9 243V283M1163.2 241V283M412.7 240V278M1049.4 244V277" stroke="#000078" stroke-opacity="0.2" stroke-width="1.5" fill="none"/>
<path d="M441.9 245V279M1514.9 240V280M159.1 241V279M1328.1 239V276M483.9 238V283M1272.3 237V278M1333.0 237V266" stroke="#000078" stroke-opacity="0.4" stroke-width="1.0" fill="none"/>
<path d="M641.1 238V282M756.2 243V281M1692.5 238V270M866.1 239V280M766.7 244V284M683.3 238V269M1479.8 252V278M632.9 238V276M928.6 242V281M1191.5 242V283M881.2 241V279M730.6 237V278M391.3 239V277M1658.1 240V284M459.1 240V277" stroke="#00005a" stroke-opacity="0.4" stroke-width="2.0" fill="none"/>
<path d="M1138.3 239V279M420.8 241V278M273.9 238V267M1673.2 241V277M1611.5 239V277M1524.3 237V282M599.9 239V282M343.3 238V277M152.3 238V284" stroke="#000078" stroke-opacity="0.4" stroke-width="1.5" fill="none"/>
<path d="M1386.0 239V281M744.5 240V279M1153.2 246V277M1725.2 240V284M1715.6 238V276M237.2 245V278M997.2 244V281M1304.3 239V278M401.4 244V282M203.1 243V279" stroke="#00005a" stroke-opacity="0.4" stroke-width="1.5" fill="none"/>
<path d="M424.6 242V281M1691.8 244V284M299.3 238V282M584.9 242V281M341.2 240V272M403.9 245V284M393.8 243V281M248.1 243V280M293.7 240V282M1109.3 240V279M472.3 244V284M397.2 241V282M564.1 243V278" stroke="#00005a" stroke-opacity="0.2" stroke-width="2.0" fill="none"/>
<path d="M716.7 241V280M1676.3 238V277M1503.7 244V277M1023.5 238V280M341.9 242V283M1378.4 237V280M275.2 242V279M1470.7 244V281M217.5 245V281M183.7 238V282M1279.1 244V276M1024.1 240V279M1618.0 243V280" stroke="#00005a" stroke-opacity="0.2" stroke-width="1.0" fill="none"/>
<path d="M586.6 238V279M824.7 243V281M1029.8 238V284M891.6 243V283M757.3 251V280M1165.9 240V277M904.8 242V276M364.8 241V281M1516.8 239V277M192.5 239V277M361.7 245V279M1021.8 239V279M1769.6 240V276M962.0 244V276M1482.5 252V280" stroke="#00005a" stroke-opacity="0.4" stroke-width="1.0" fill="none"/>
<path d="M1271.4 239V271M1113.0 244V279M484.8 244V278M1547.2 239V280M575.0 245V277M875.8 240V277M1293.1 240V279" stroke="#000078" stroke-opacity="0.2" stroke-width="1.0" fill="none"/>
<path d="M953.6 240V283M353.1 242V282M1264.3 238V283M1216.5 241V279M1697.9 243V277M237.2 244V281M933.4 244V282M1063.6 238V282M1672.9 238V283M223.8 242V278M1419.7 241V284M1647.6 240V281" stroke="#00005a" stroke-opacity="0.2" stroke-width="1.5" fill="none"/>
<path d="M1160.3 238V281M1182.0 240V276M844.8 240V276M1786.7 241V280" stroke="#000078" stroke-opacity="0.2" stroke-width="2.0" fill="none"/>
<path d="M1554.1 244V278M1420.1 239V279M493.2 239V279M249.2 238V279M293.3 240V277" stroke="#000078" stroke-opacity="0.4" stroke-width="2.0" fill="none"/>
<path d="M266.9 319V411M1260.7 339V376M841.9 301V390M1273.7 300V467M1444.0 327V407M890.6 347V419M1070.4 299V466M875.7 306V374M271.1 362V426M173.4 300V379M1686.3 302V465M385.3 302V467M931.4 316V426M694.3 296V466M998.1 294V463M1185.3 409V437M1726.3 298V464M1082.0 298V467M741.2 298V465M1557.1 295V466M1668.4 298V466M1681.0 296V467M454.2 302V466M1771.1 306V435M1143.1 295V463M903.2 303V398M235.1 294V463M1279.9 296V465M478.9 315V424M710.9 298V462M1044.5 297V462M277.1 302V461M560.2 298V466M205.9 296V415M1627.1 296V467M1687.3 300V464M1618.8 324V353M1443.2 295V338M195.7 298V461M1292.6 296V467M1610.0 301V461M308.4 300V467M1202.3 302V371M649.8 298V460M830.0 346V429M1607.4 301V465M680.1 301V461M311.7 306V392M187.9 298V461M945.3 298V465M1510.0 372V450M1204.7 296V468M996.9 295V462M505.6 296V463M569.3 300V463M414.6 310V349M1175.7 297V462M766.3 301V466M391.7 296V464M652.5 299V462M1321.2 367V395M1709.3 392V453M623.0 298V466" stroke="#0000b4" stroke-opacity="0.2" stroke-width="1.0" fill="none"/>
<path d="M840.5 326V432M959.2 301V466M270.6 297V462M696.4 295V465M1380.2 299V468M159.0 299V466M895.6 297V462M219.6 296V464M1050.4 297V467M1586.9 299V463M735.1 320V424M1101.5 295V464M713.3 298V462M1352.5 300V464M520.3 399V438M1106.4 297V465M1097.1 296V466M1473.8 301V461M1507.4 299V466M146.5 429V455M1343.1 294V447M996.4 359V460M1765.1 300V464M621.9 297V466M277.8 320V447M1069.0 300V462M338.1 295V463M1213.5 295V465M705.5 298V465M534.3 314V460M219.0 381V454M1601.4 301V465M638.4 299V461M208.6 297V466M1438.3 297V467M1416.0 297V468M1132.2 294V460M164.3 332V381M809.1 301V467M981.9 300V462M197.1 298V468M1453.7 298V467M1343.2 296V468M1717.9 410V446M1343.7 420V460M1116.6 298V460M233.0 300V463M178.3 296V464" stroke="#0000f0" stroke-opacity="0.2" stroke-width="1.0" fill="none"/>
<path d="M1703.0 322V394M155.2 296V461M1270.4 295V461M862.4 300V464M508.2 294V465M1003.3 299V467M1443.4 296V460M1667.2 299V468M1455.7 301V462M299.1 296V461M1250.0 299V464M579.5 298V460M478.9 321V366M1292.2 299V468M724.7 326V409M361.4 299V467M615.0 296V463M1182.4 376V408M1274.5 331V421M963.6 295V463M824.1 301V466M1483.0 298V461M1364.4 296V466" stroke="#0000d2" stroke-opacity="0.2" stroke-width="0.5" fill="none"/>
<path d="M1311.2 381V426M517.6 295V463M1342.6 366V465M640.1 296V463M302.4 298V465M1379.6 294V464M530.0 349V377M392.7 300V463M1394.6 298V461M644.8 301V461M129.3 297V464M703.7 299V463M1116.2 297V464M171.9 297V460M144.5 302V460M521.1 299V464M1715.8 389V439M1293.6 294V463M1433.6 340V457M967.2 295V462M629.7 325V401M307.8 374V424M992.9 295V461M1172.4 294V463M789.0 322V425M817.4 298V464M1145.0 299V467M1340.3 301V466M1071.8 296V461M1729.5 302V462M1186.7 298V462M599.8 299V465M1559.2 302V389M1093.0 298V466M208.1 296V467M936.1 350V381M1163.5 297V467M1281.2 300V460M785.1 294V465M206.6 297V460M411.8 302V464M1764.2 313V445M857.1 301V463M744.8 296V463M1091.4 296V462M560.1 299V468M566.3 303V467M1602.1 301V374M225.7 296V462M1381.6 298V464M1757.4 302V466M1038.8 300V467M1009.2 301V380M202.4 298V466M840.3 295V461M1764.8 338V427M759.6 300V465M1529.5 310V394M686.2 323V382" stroke="#0000d2" stroke-opacity="0.2" stroke-width="1.5" fill="none"/>
<path d="M285.2 297V461M1682.6 300V466M211.3 406V443M268.1 300V467M1622.8 300V464M955.5 295V461M639.4 299V468M330.6 298V466M568.7 298V464M952.4 394V425M832.1 298V466M977.1 300V464M1510.1 294V460M401.3 299V461M172.9 298V467M741.6 299V466M403.2 301V464M302.2 300V461M1470.2 302V467M739.1 299V462M975.8 300V462M979.3 297V466M1625.8 323V355M1751.9 295V464M1047.8 296V464M219.2 301V463M825.1 388V424M1673.0 294V467M1212.9 296V464M975.8 301V465M1138.1 302V464M564.2 337V399M1205.1 295V412M355.6 372V416M1418.0 301V461M1298.4 295V462M628.9 297V461M855.7 294V462M518.7 361V420M694.4 298V466M1789.3 296V461M1609.0 311V355M1270.3 299V462M1467.2 295V467" stroke="#0000d2" stroke-opacity="0.4" stroke-width="1.5" fill="none"/>
<path d="M737.4 302V463M663.1 295V463M1036.5 354V451M553.0 296V463M405.8 301V466M475.5 301V464M1732.3 296V466M1414.9 302V465M229.5 299V468M1172.2 294V465M1250.6 300V465M196.1 348V460M1268.5 297V463M562.4 302V382M1569.2 299V463M1542.0 301V463M479.9 338V426M906.6 295V462M390.8 396V451M474.1 294V465M414.8 295V465M1301.4 294V461M1182.9 392V438M228.5 301V465M1700.7 296V467M916.8 299V463M740.6 297V462M1415.2 295V468M1573.9 301V461M1656.8 295V466M863.7 298V461M1610.2 299V467M1644.4 295V467M853.9 301V466M1574.0 299V461" stroke="#0000b4" stroke-opacity="0.2" stroke-width="1.5" fill="none"/>
<path d="M1254.6 295V461M1007.7 356V397M601.4 302V463M1575.1 300V460M654.6 419V464M1172.9 301V464M1727.9 294V467M290.9 295V463M312.8 384V447M1621.0 295V466M831.7 301V463M1622.5 301V467M857.8 295V467M1517.5 297V466M340.3 329V361M1650.2 300V463M312.0 297V467M228.7 300V462M397.4 294V461M1375.9 301V461M920.6 296V466M1450.8 294V468M758.1 297V466M772.2 299V463M1672.5 297V464M1107.8 301V464M1108.1 301V460M1377.1 396V447M1252.8 297V467M841.8 295V461M184.8 322V394M234.0 294V461M617.3 300V461M1225.4 350V445M303.8 298V466M1307.9 297V466M905.6 302V463M1492.2 298V460M1064.5 297V461M1052.0 301V463M146.3 300V463M1628.3 323V359M567.6 296V461M1699.2 300V464M536.1 401V457M183.9 296V468M999.8 299V467M1481.6 301V461M742.8 298V464M134.5 299V464M152.9 298V468M393.9 297V465M1567.4 300V462M286.0 296V464M1574.8 295V465M317.8 296V468M1738.0 300V461M1172.7 295V466M636.3 300V467M251.9 298V463M173.1 307V430M1585.2 300V465M823.8 375V453M1318.4 299V460M1482.3 299V465M616.6 296V463M813.6 297V462M598.0 317V415M1064.7 297V465M808.1 294V461M641.9 298V467M1129.9 316V439M314.8 301V462M606.0 298V461M910.7 321V378M302.0 301V468M198.0 364V418M367.7 300V460M1624.1 313V432M1006.9 296V460M1679.9 299V462M458.5 300V460M126.8 301V467" stroke="#0000d2" stroke-opacity="0.4" stroke-width="1.0" fill="none"/>
<path d="M1413.0 362V442M349.3 377V429M1182.1 332V423M924.2 299V460M127.7 298V465M1579.0 298V463M635.7 300V467M642.1 296V466M1596.7 297V466M1215.1 322V436M481.5 298V460M292.4 294V462M1331.3 299V462M348.0 302V460M1686.4 298V467M1431.2 297V466M1527.1 297V468M1392.5 298V461M1537.5 299V465M1201.5 299V467M1532.6 298V463M1776.7 299V463M1254.4 298V462M1736.6 301V466M123.2 295V466M1562.6 296V464M1377.2 408V446M250.5 331V449M572.1 297V467M1329.0 317V418M1589.2 338V437M1564.3 300V468M1605.0 301V466M1786.2 301V464M1263.3 301V464M1529.2 302V461M1653.3 297V466M895.8 384V459M1529.3 296V464M622.7 300V463" stroke="#0000b4" stroke-opacity="0.4" stroke-width="1.5" fill="none"/>
<path d="M274.9 298V463M1326.0 295V461M1299.1 424V457M530.5 298V463M1113.5 336V392M684.1 390V429M637.5 346V452M947.8 342V447M1130.0 381V422M1505.3 333V377M1236.4 299V463M753.5 298V466M1431.5 297V468M888.9 297V462M898.0 297V467M448.6 297V463M1071.8 315V360M1448.8 296V461M1603.3 361V444M235.1 294V462M1445.7 298V460M1387.1 295V465" stroke="#0000d2" stroke-opacity="0.4" stroke-width="0.5" fill="none"/>
<path d="M1394.0 299V466M1147.9 302V464M379.0 302V460M897.7 295V465M851.7 295V462M1054.5 300V463M1444.5 302V463M1602.2 295V466M427.8 295V468M744.7 300V467M318.6 298V463M272.6 296V467M1102.1 365V442M1278.4 295V467M1559.8 297V461M595.1 295V462M542.6 301V464M355.8 300V464M146.0 374V420M1723.6 316V428M1144.6 297V461M870.2 299V462M771.4 295V468M469.3 297V465" stroke="#0000f0" stroke-opacity="0.4" stroke-width="1.5" fill="none"/>
<path d="M1500.5 300V464M621.5 295V462M704.6 296V464M989.5 298V464M1644.6 296V465M1184.0 294V465M1620.6 302V462M1280.7 300V464M371.3 299V465M719.5 301V462M1624.4 298V467M399.4 298V464M601.4 302V464M491.1 296V467M771.4 301V468M1559.0 296V466M629.9 299V461M931.8 300V468M1642.1 350V376M1706.0 298V467M1402.9 297V462M1037.4 378V463M1431.2 296V461M1358.2 294V461M297.4 301V468" stroke="#0000f0" stroke-opacity="0.2" stroke-width="1.5" fill="none"/>
<path d="M1784.6 354V403M634.9 300V464M1205.4 296V460M1684.5 343V406M506.2 296V468M229.8 296V464M159.8 301V466M1616.7 394V424M206.3 295V463M558.6 297V461M883.6 297V463M1788.6 301V464M665.0 365V435M847.0 299V461M1178.5 300V466M1704.6 295V462M429.1 300V467M402.0 405V459M958.2 300V466M1600.9 309V338M1758.9 299V468M649.6 301V461M551.7 294V462M423.6 296V461M558.2 344V406M1785.6 326V449M463.8 296V467M471.5 302V461M1671.6 295V462M1711.3 295V462M239.0 298V467M1384.0 295V461M311.9 320V455M1619.4 295V467M384.9 296V462M897.1 294V461M704.3 299V465M686.4 296V468M304.4 307V382M670.9 294V461M1728.2 302V461M222.0 299V467M229.2 357V408M122.4 298V463M711.3 298V466M130.0 299V465M241.8 302V463M1791.0 296V464M1690.2 294V462M167.2 294V464M1531.1 312V418M594.5 394V465M134.4 302V466M710.1 296V465M1532.8 300V464M1108.0 301V467M646.9 300V461M715.4 295V466" stroke="#0000b4" stroke-opacity="0.4" stroke-width="1.0" fill="none"/>
<path d="M490.0 352V405M1749.2 300V465M421.2 298V466M935.8 297V465M297.9 294V463M690.2 299V464M805.9 300V462M649.3 295V468M1264.4 299V460M1132.6 324V414M1631.3 297V465M1351.3 312V457M210.5 306V367M157.5 296V465M398.2 298V466M1153.2 301V460M1160.7 376V468M998.6 298V461M864.2 298V466M1568.5 297V467M852.5 302V468M901.7 299V460M491.5 300V467M335.1 301V466M469.1 339V366M728.8 349V450M1785.2 295V463M492.8 295V461M1459.0 406V452M1495.8 300V465M1683.1 340V378M1015.6 295V462M338.5 302V464M1427.9 299V462M534.8 295V464M495.0 373V420M413.6 300V462M729.0 295V465M1654.8 364V406M1127.3 297V462M875.9 301V462M1313.6 341V383M1642.8 299V463M205.6 379V422M127.5 296V461M1441.9 298V460M1791.2 301V460M670.2 296V466M1663.5 339V447M889.2 375V443M1412.2 297V462M431.0 296V468M1131.5 295V462M1236.8 296V462M730.4 295V466M407.3 300V461M527.2 299V463M1199.6 297V465M294.4 367V467M1269.4 333V416M365.8 294V461M1659.3 302V467M821.0 296V465M1678.3 299V467M1713.3 297V460M939.2 315V412M1729.7 299V463M426.8 298V465M759.6 299V466M919.8 299V467M1418.9 295V467M321.8 400V433M1089.1 321V408M1762.1 410V438" stroke="#0000d2" stroke-opacity="0.2" stroke-width="1.0" fill="none"/>
<path d="M1573.0 330V430M1075.1 296V467M1683.4 298V460M1320.4 295V434M126.6 353V441M273.6 300V461M1043.3 294V466M1052.4 296V463M461.0 336V362M1133.3 295V461M701.4 295V463M811.8 319V456M1255.2 296V467M184.0 298V461M585.5 302V468M1344.7 366V398M509.8 299V464M1129.4 296V467M708.5 294V463M1064.3 295V460M1121.7 396V441M565.7 300V461M1380.2 301V463M1556.9 295V464M959.9 299V467" stroke="#0000b4" stroke-opacity="0.2" stroke-width="0.5" fill="none"/>
<path d="M515.3 387V458M900.0 301V462M1524.8 294V461M1574.4 301V462M860.3 300V467M576.8 301V467M404.5 298V463M1787.0 295V461M1203.9 323V462M666.6 348V435M1282.0 300V462M426.0 344V422M434.3 317V460M706.3 300V463M729.4 297V461M678.4 298V467M237.1 301V465M654.1 296V463M1448.9 296V462M1691.2 372V414M774.0 295V468M217.4 300V467M855.1 294V460M824.3 297V461M1290.7 301V460M1129.6 309V361M362.7 295V461M1264.6 320V428M574.8 317V436M385.2 358V425M980.5 297V465M1310.6 296V466M180.8 295V465M389.0 300V465" stroke="#0000f0" stroke-opacity="0.4" stroke-width="1.0" fill="none"/>
<path d="M447.6 299V390M802.7 320V449M688.7 300V462M276.2 302V465M1322.0 296V460M1679.6 301V465M149.2 296V466M1075.0 302V461M157.4 299V465M802.1 302V466M1086.3 298V464M1567.1 351V408M757.1 395V423M1577.5 294V319M1687.0 297V468M172.9 294V467" stroke="#0000f0" stroke-opacity="0.2" stroke-width="0.5" fill="none"/>
<path d="M450.5 296V468M826.5 301V461M677.7 368V455M1121.4 328V360M716.9 295V465M1212.7 331V448M208.3 295V463M1331.1 294V467M181.5 299V467M1163.2 300V465M1448.9 301V466M654.1 299V463M672.9 298V460M1782.7 298V465" stroke="#0000b4" stroke-opacity="0.4" stroke-width="0.5" fill="none"/>
<path d="M790.3 296V466M997.7 296V463M127.6 296V461M473.0 301V464M1572.9 320V420M235.2 297V465M1098.7 304V351M357.7 301V463M504.8 300V467M1141.4 353V446M485.0 301V463M392.5 299V462M1302.1 317V418" stroke="#0000f0" stroke-opacity="0.4" stroke-width="0.5" fill="none"/>
<path d="M591.7 299V467M1293.8 294V464M795.0 296V460M897.3 402V465M819.7 300V460M1590.6 299V464M787.5 302V463M598.2 299V463M789.9 324V378M286.9 295V373M822.2 302V463M1622.2 410V455M373.9 294V461M211.4 372V465M321.4 296V462M1527.0 301V466M1124.4 372V444M211.3 294V465M594.0 295V467M1090.5 302V464M534.0 300V465M904.5 298V464M1251.0 301V468M785.4 298V465M757.2 302V463M848.5 300V467M1050.1 294V460M472.2 296V466M736.4 299V461M272.1 301V463M605.1 433V461M1579.2 302V468M1090.9 300V462M821.6 302V461M468.2 295V466M335.8 317V371M1696.9 316V453M1342.8 301V462M294.8 299V466M1126.1 300V463M1757.5 297V465M374.1 295V462M783.6 298V460M1601.2 296V461M1278.7 297V465M289.8 299V465M539.4 343V426M599.0 295V466" stroke="#00005a" stroke-opacity="0.2" stroke-width="2.0" fill="none"/>
<path d="M690.4 294V461M437.8 296V466M1679.2 309V355M208.4 296V465M760.9 308V387M627.6 298V468M357.3 301V466M1076.5 296V466M519.9 295V467M433.8 301V468M1318.4 297V460M1564.8 301V463M341.2 297V461M1315.0 298V467M963.3 366V454M647.3 294V461M334.5 301V464M1390.4 299V463M499.1 298V462M946.2 380V461M1726.3 302V460M167.7 310V394M1273.2 298V466M1208.3 300V461M1403.5 335V448M724.3 296V463M1672.3 296V461M916.0 298V465M186.0 295V463M1445.2 301V463M407.4 296V369M869.7 294V463M1600.4 296V464M370.0 301V464M1468.7 298V462M242.9 310V413M613.0 297V460M970.0 300V465M973.4 333V374M483.5 392V420M503.9 301V467M162.5 296V461M1416.0 302V406M1348.0 297V462M221.4 298V462M1299.0 301V468M1157.6 294V467" stroke="#00005a" stroke-opacity="0.2" stroke-width="1.5" fill="none"/>
<path d="M193.8 299V464M472.9 297V466M155.7 371V406M938.3 300V467M661.7 299V465M1422.4 301V463M749.4 298V464M239.9 296V462M235.1 296V462M664.4 302V460M984.2 301V462M1461.8 302V464M933.6 301V460M1408.3 299V465M592.1 298V466M1326.1 295V464M1493.0 315V383M1163.2 297V465M571.2 345V392M1255.1 301V466M875.2 301V465M830.0 295V464M1558.1 321V377M539.9 302V464M1127.9 339V406M1353.7 303V456M1395.0 298V462M548.5 318V450M1193.3 330V408M292.7 300V465M1415.7 295V463M1744.0 299V465M619.2 299V460M946.8 296V462M1655.0 295V460M604.7 310V376M1744.5 296V461" stroke="#00005a" stroke-opacity="0.4" stroke-width="2.0" fill="none"/>
<path d="M1142.6 296V467M1249.1 300V467M1394.3 296V463M330.9 325V369M969.2 300V379M1641.3 420V462M1060.9 298V462M1432.3 297V461M201.2 295V462M671.1 340V376M925.2 300V464M904.6 299V461M501.0 297V466M886.6 299V462M1452.7 301V465M431.7 391V442M922.3 297V461M1041.3 406V455M1676.6 298V464M1379.3 296V464M523.0 321V387" stroke="#00005a" stroke-opacity="0.4" stroke-width="1.0" fill="none"/>
<path d="M842.6 338V383M612.6 296V466M1576.1 306V381M1459.3 295V467M1112.5 295V461M760.6 308V386M970.9 311V414M1218.1 295V462M1200.5 351V410M347.7 299V468M778.0 299V461M1184.2 300V464M989.6 310V372M1579.2 294V461M682.2 298V465M1622.4 295V431M670.9 294V463M1107.6 295V462M368.5 294V465M127.7 300V467M514.3 318V401M269.3 307V402M1154.6 299V463M1063.2 300V460M1579.6 297V461M344.5 358V465M1096.5 297V465M1238.2 307V404M503.6 297V465M703.4 295V461M271.7 300V327M1609.2 302V462M1387.4 357V407M1317.0 295V462M334.8 297V465M661.8 302V466M1296.5 353V400M1016.5 294V468M326.2 296V465M587.7 299V463M1327.1 299V466M1237.2 302V466M1566.6 301V466" stroke="#00005a" stroke-opacity="0.2" stroke-width="1.0" fill="none"/>
<path d="M691.8 298V462M1377.8 368V435M1251.9 295V463M1729.3 296V464M558.2 297V463M655.7 325V357M1060.3 298V464M1357.8 294V464M761.1 301V462M268.9 294V446M930.6 299V464M779.8 294V462M1375.9 300V466M941.6 295V461M323.1 297V465M1507.5 302V463M362.7 301V463M637.3 300V468M1065.6 297V466M498.8 312V367M652.2 296V467M1604.7 297V467" stroke="#00005a" stroke-opacity="0.4" stroke-width="1.5" fill="none"/>
<path d="M1166.6 296V461M375.8 297V461M616.8 301V464" stroke="#000078" stroke-opacity="0.4" stroke-width="2.0" fill="none"/>
<path d="M958.7 366V448M824.4 372V467M1253.6 300V466M989.2 338V425M1400.1 300V466" stroke="#000078" stroke-opacity="0.4" stroke-width="1.0" fill="none"/>
<path d="M245.5 302V462M166.0 300V465M1765.3 301V463" stroke="#000078" stroke-opacity="0.2" stroke-width="2.0" fill="none"/>
<path d="M1563.9 295V468M605.3 295V464M1610.1 301V462M1331.4 297V461" stroke="#000078" stroke-opacity="0.2" stroke-width="1.5" fill="none"/>
<path d="M308.0 360V434M1236.0 301V462M336.3 298V461M302.2 299V461" stroke="#000078" stroke-opacity="0.2" stroke-width="1.0" fill="none"/>
<path d="M1384.2 300V460M259.4 297V468M1556.5 300V463" stroke="#000078" stroke-opacity="0.4" stroke-width="1.5" fill="none"/>
<path d="M287.0 482V686M1701.5 500V647M851.5 522V675M1477.1 488V700M717.4 503V554M392.3 487V696M1562.4 481V696M1794.3 484V698M434.6 487V699M920.6 487V693M147.5 543V647M1364.1 583V615M911.7 482V698M566.2 489V700M843.4 498V561M173.8 595V696M1296.7 621V680M315.8 486V695M1406.7 600V645M1497.1 484V699M385.1 482V692M782.8 489V692M1660.6 486V693M372.3 484V694M940.0 487V700M1627.7 562V656M577.3 510V579M612.5 485V692M674.5 486V697M1136.3 482V699M1172.3 487V697M1131.2 483V609M1480.9 539V686M1334.0 526V644M1706.8 561V663M386.5 486V695M988.0 618V677M1491.9 487V694M1422.0 483V694M1758.3 486V699M1086.6 481V697M874.2 486V694M1316.9 502V595M897.8 485V697M1189.5 485V694M1426.7 489V699M388.5 487V694M241.4 584V679M976.4 483V697M282.9 526V693M210.3 482V533M1052.4 484V695M1419.4 484V693M1424.3 482V700M710.8 488V696M1608.1 485V698M412.8 483V696M597.1 483V696M1047.5 552V660M1616.0 484V694M815.1 483V694M349.4 487V700M1263.7 523V623M1265.5 481V694M1480.6 486V695M1249.5 484V693M667.5 481V698M1312.7 481V694M156.7 485V695M1218.6 488V700M532.0 489V694M1413.4 485V695M800.6 535V667M187.2 496V575M202.3 488V692M600.1 483V697M1590.7 514V636M1137.3 483V693M864.4 484V693M999.0 482V695M1358.9 486V698M1773.5 483V696M1076.7 492V527M1627.7 531V644M557.0 484V695M1629.7 482V692M836.8 482V695M964.3 489V695M1168.9 483V698M612.6 490V669M1418.9 555V647M425.7 483V699M1596.6 537V604M1227.1 484V700M1500.1 485V697M768.9 487V700M798.2 486V695M300.1 483V694M1705.1 487V698M1614.4 482V698M1518.6 621V685M667.2 522V674M268.1 483V697M1335.6 503V536M126.4 481V699M245.5 481V699M891.5 483V698M796.7 485V692M910.1 601V666M1240.7 486V692M1139.6 546V686M1765.6 488V692M745.3 483V694M1483.3 484V694M247.1 489V698M1239.6 486V692M1784.7 482V694M974.1 484V694M223.9 536V631M1752.3 481V700M915.4 485V694M808.0 484V694M803.3 563V598M695.9 484V695M1391.8 482V694M435.9 482V588M475.4 486V695M1395.8 485V692M1248.2 567V630M185.1 481V692M569.2 579V637M427.4 487V697M1560.8 487V692M826.5 488V695M1636.5 483V697M558.8 482V698M322.4 591V672M970.1 485V696M1243.5 482V697M1487.2 481V693M1597.9 482V693M1014.3 611V658M626.0 488V693M1690.0 488V699M1350.1 486V694M1780.7 527V573M271.0 482V692M1175.2 482V694M1529.3 536V629M703.9 481V700M123.1 487V696M1119.4 487V698M1519.7 629V694M1427.2 485V695" stroke="#0000b4" stroke-opacity="0.2" stroke-width="1.0" fill="none"/>
<path d="M724.7 488V699M1649.5 486V695M883.0 512V629M1618.8 485V698M284.3 611V658M749.5 484V697M1790.2 483V694M772.0 488V697M553.2 485V698M1379.1 483V696M212.1 488V696M1435.0 485V698M570.2 486V692M823.1 484V695M379.6 487V699M540.5 486V696M568.2 483V695M1056.9 483V694M1750.7 482V700M164.9 489V697M851.9 483V694M658.5 488V694M1317.4 483V699M1535.1 588V674M208.3 483V697M1267.8 553V663M1388.5 485V692M575.3 483V693M286.0 488V700M737.0 482V698M1568.7 481V695M799.6 487V693M826.0 510V539" stroke="#0000b4" stroke-opacity="0.4" stroke-width="0.5" fill="none"/>
<path d="M1312.4 486V698M1715.9 539V698M1591.0 486V699M376.1 482V692M1294.8 523V597M247.0 487V682M1294.2 487V697M199.1 488V697M354.1 482V696M806.4 511V648M1718.3 484V696M1107.6 488V693M222.8 563V619M1542.7 481V696M1180.8 655V693M965.7 487V695M1723.2 545V652M1027.6 489V694M1397.9 554V579M1766.7 483V694M667.0 482V692M1728.6 485V693M1756.3 492V649M286.2 482V695M596.4 483V696M531.3 486V699M418.1 561V642M936.5 487V695M1587.5 486V645M1744.0 482V696M996.6 482V693M976.0 568V625M436.4 484V700M1168.0 488V696M1291.1 482V693M1115.5 482V694M858.4 483V692M1457.8 485V695M378.0 485V642M1424.9 502V599M709.1 482V686M482.9 487V692M1241.4 513V631M492.1 485V696M200.8 482V693M908.0 483V693M1122.5 488V653M984.1 526V698M132.9 489V692M1019.3 488V695M637.8 642V692M1152.1 484V694M1024.1 594V627M411.6 629V694M210.9 527V693M1547.1 481V668M785.4 481V695M141.9 531V636M225.3 482V697M1649.5 532V601M1576.2 484V699M1754.7 488V698M512.4 489V694M1652.4 482V695M948.2 489V697M1059.2 483V695M744.1 484V693M404.6 570V632M1138.5 487V698M955.5 488V700M542.2 636V693M1249.7 488V700M703.2 482V698M866.2 483V693M303.8 589V616M125.4 487V695M1570.6 486V695M428.1 481V697M1038.8 487V694M1063.4 481V698M956.1 483V694M388.0 484V700M1475.5 486V700M263.8 483V696M1480.5 486V699M1222.8 503V661M873.6 481V694M1385.8 482V696M725.6 527V573M1275.9 487V695M1033.7 492V550M1086.0 483V697M1523.9 484V694M546.3 483V697M1625.9 487V700M695.2 483V692M1739.5 487V700M171.6 544V694M1789.0 488V693M327.2 486V698M130.4 576V680M612.4 525V625M300.0 488V693M1141.9 482V695M404.8 515V601M721.6 487V699M1290.3 606V638M1738.6 503V558M936.6 483V696M1410.0 481V699M1146.6 487V693M153.5 488V695M612.4 544V636" stroke="#0000b4" stroke-opacity="0.2" stroke-width="1.5" fill="none"/>
<path d="M168.5 484V694M1111.3 532V670M1070.3 483V700M962.0 485V696M1582.5 483V699M1441.2 482V698M1344.4 483V697M1204.1 485V695M1581.0 486V697M980.2 489V695M1449.1 487V699M1389.7 584V616M1279.4 482V694M913.1 487V699M680.2 485V699M683.1 481V699M695.2 489V696M399.7 519V700M1612.1 486V694M909.0 486V698M526.0 511V663M738.4 493V651M1340.9 481V694M810.2 488V695M129.3 488V699M899.4 483V695M785.6 488V698M800.0 592V678M1401.5 483V695M671.7 489V697M1689.6 482V699M1355.8 485V698M1042.9 574V616M1110.9 481V696M557.0 485V695M1099.8 487V695M1532.4 485V694M797.5 491V551M1440.2 481V692M1740.2 483V696M232.4 563V699M930.4 481V694M606.2 489V696M1492.9 486V694M1587.1 482V693M542.1 487V694M700.6 486V697M1219.6 503V535M917.7 484V695M1312.8 487V698M531.7 482V697M743.4 523V590M699.3 486V697M1254.5 484V696M269.1 490V641M1570.5 482V696M1568.8 524V585M1018.7 484V694M1639.3 483V694M1575.4 571V700M880.2 485V694M941.5 488V696M1571.0 483V699M1194.5 562V661M176.8 482V695M1534.2 557V586M899.9 485V695M803.9 489V694M1530.4 488V699M900.7 505V626M566.7 488V695M1045.0 486V698M907.2 486V697M238.0 499V547M260.1 485V697M147.1 482V699M908.4 487V693M205.0 558V694M960.6 489V695M1433.3 481V693M767.8 616V693M1097.5 485V698M293.4 487V700M679.4 577V672M366.7 486V699M1299.1 483V694M1659.4 515V645M1164.1 487V697M701.4 527V668M491.1 482V692M628.8 499V641M1395.0 482V692M1376.5 488V699M1374.5 586V690M402.9 488V700M677.2 483V698M1362.7 484V694M504.0 531V560M962.8 487V698M1666.7 482V698M1047.5 486V697M1400.5 487V695M1040.6 483V697M1641.5 483V694M1713.1 483V697M810.7 484V509M881.2 487V698M1129.8 483V697M1703.9 482V693M945.3 486V696M1463.3 485V699M474.2 561V662M881.4 482V686M178.9 485V699M384.5 489V699M1076.5 486V699M1353.1 484V695M1694.5 491V566M510.6 482V696M521.3 482V696M175.3 483V696M1121.8 489V696M1582.0 486V697M986.7 484V698M1377.9 481V694M1072.4 482V695M672.8 486V692M353.8 488V672M1127.1 488V700M1343.1 487V699M820.3 558V676M301.6 611V681M454.2 487V700M842.2 485V699M624.4 486V694M1324.3 558V588M784.5 484V695" stroke="#0000d2" stroke-opacity="0.2" stroke-width="1.0" fill="none"/>
<path d="M579.4 502V576M252.2 488V699M1152.5 532V562M371.4 487V696M1396.5 489V700M1552.1 517V679M1091.0 522V567M1676.9 483V696M342.1 482V693M1198.2 531V606M1176.8 618V692M717.6 579V656M307.4 534V700M635.7 559V647M711.9 487V700M554.2 504V632M1119.5 540V690M155.4 484V696M198.0 578V691M1121.3 483V696M1536.7 489V695M592.4 486V699M1130.7 541V698M591.1 482V697M1357.2 486V692M124.4 486V694M1122.3 485V693M1791.5 547V610M828.9 540V667M1068.1 485V698M395.7 487V697M618.1 489V693M188.8 486V697M381.8 487V696M1513.9 570V622M741.6 573V614M558.6 538V672M534.5 488V697M370.5 519V650M1360.3 483V700M816.4 482V698M340.6 489V699M1186.0 481V700M530.8 482V696M1639.7 604V666M1593.6 537V612M313.8 485V696M1101.8 487V696M657.8 490V550M1597.5 582V652M990.5 496V540M759.4 492V671M1102.1 483V695M262.8 486V697M1230.8 482V699M533.2 486V692M1017.8 535V632M1031.4 481V697M1650.9 528V672M582.0 487V697M1447.4 483V696M1328.8 483V698M1006.4 513V562M1080.6 487V700M716.0 489V696M433.4 556V629M1059.6 488V693M1507.2 506V685M511.9 486V698M671.6 483V694M363.9 488V698M1280.7 526V587M354.5 483V698M1056.1 486V694M1468.0 535V695M562.4 482V695M488.3 485V694M1543.3 483V698M560.9 482V699M1112.0 552V607M304.2 500V696M298.0 484V698M1012.3 484V696M1569.9 483V694M1522.0 557V591M1141.9 486V698M396.2 486V698" stroke="#0000d2" stroke-opacity="0.2" stroke-width="1.5" fill="none"/>
<path d="M355.8 489V696M407.4 581V656M1624.8 505V646M1743.4 482V548M1484.2 536V676M571.6 505V614M551.3 482V698M642.8 484V698M1442.8 516V680M412.9 481V695M188.9 487V695M1297.2 485V698M1226.0 485V696M1483.7 484V697M176.9 487V698M986.8 636V668M443.7 486V697M927.9 485V696M452.6 557V674M1164.5 481V694M192.7 484V694M940.6 529V632M259.1 575V675M362.0 485V699M1405.9 570V658M1485.3 488V694M1468.0 483V694M1357.8 522V568M875.3 487V697M524.7 622V699M1790.5 484V698M1424.9 488V694M1493.0 486V695M787.3 482V697M1416.0 483V699M317.4 535V569M176.8 488V699M797.5 484V696M537.5 604V634M1538.0 482V692M800.8 488V692M746.9 528V572M928.3 484V693M342.2 485V698M990.7 488V696M460.6 486V693M745.7 482V695M1689.7 488V698M876.3 489V698M1710.6 487V694M370.1 488V692M1492.1 489V696M1404.6 482V694M924.9 483V697M397.7 484V695M815.2 489V696M732.0 486V698M793.4 485V694M218.0 487V695M692.7 509V672M817.6 484V694M975.2 501V601M588.1 489V700M975.8 483V694M945.7 486V696M827.6 486V699M521.6 484V693M736.3 485V692M1629.4 482V698M510.5 484V693M560.1 488V698M1208.3 499V591M1280.3 486V692M722.0 489V535M1782.5 485V699M225.3 485V692" stroke="#0000b4" stroke-opacity="0.4" stroke-width="1.0" fill="none"/>
<path d="M825.1 484V699M1152.4 483V693M1381.1 487V693M1783.7 486V698M1739.5 484V693M939.1 488V699M1739.0 485V693M1573.6 485V696M613.4 484V693M451.8 481V537M1445.5 589V635M1322.4 583V692M1210.3 545V675M750.8 489V700M861.2 483V699M1364.5 487V696M1036.4 487V693M1334.8 484V696M1633.0 488V692M1050.6 485V692M1482.3 546V627M142.9 482V699M753.9 488V692M581.8 485V692M1298.4 596V672M1669.6 488V694M750.1 487V696M329.7 531V560M771.1 625V691M1535.5 486V697M320.4 484V698M191.5 519V663M688.1 489V695M750.4 485V695M1639.7 488V695M230.2 482V696M209.4 606V687M160.6 484V540M1148.0 482V699M302.2 488V697M387.3 486V699M748.5 541V671M1172.8 489V696M544.4 484V696M1727.0 488V700M708.1 485V692M1093.3 489V693M161.9 486V695M411.7 489V696M186.1 487V698M1740.9 488V693M1451.1 483V698M1277.0 485V622M994.2 484V694M382.2 481V700M1665.3 483V700M377.1 586V638M737.3 481V698M882.8 484V700M1502.4 487V699M426.4 484V693" stroke="#0000d2" stroke-opacity="0.4" stroke-width="1.0" fill="none"/>
<path d="M1530.6 485V613M1361.6 483V698M400.5 503V684M1287.7 482V699M1224.4 533V567M753.4 488V696M1294.8 488V698M1240.0 489V699M1565.3 581V697M227.5 486V699M1381.4 486V695M1043.3 483V693M1719.8 482V697M236.4 582V638M839.1 575V684M702.0 509V577M989.7 486V696M705.8 621V663M204.5 484V695M1225.1 486V697M1729.0 486V699M429.2 483V696M1657.5 481V693M1220.6 488V694M288.5 600V661M1562.6 486V698M1774.0 613V672M1783.4 485V694M1097.5 488V698M151.9 482V694M686.6 488V693M1191.4 483V693M1695.5 516V596M1036.2 484V697M663.3 494V662M229.5 481V692M1558.3 481V671M1487.3 486V699M829.9 489V694M916.5 483V693M1223.0 489V699M320.1 534V598" stroke="#0000b4" stroke-opacity="0.2" stroke-width="0.5" fill="none"/>
<path d="M1704.8 483V694M739.5 482V693M625.4 487V568M1141.9 485V699M1256.2 552V665M124.9 544V588M1217.6 583V651M826.6 601V659M1669.5 484V699M1361.7 529V658M140.5 617V675M1143.8 486V693M263.9 488V698M1008.3 487V695M362.6 488V697M1372.9 487V700M688.3 487V696M1109.0 486V692M1184.5 486V518M1491.9 566V685M463.4 484V694M1279.2 484V698M1044.8 519V661M1593.8 548V671M1051.4 598V689M809.5 523V695M908.3 482V698M868.9 482V697M337.4 527V646M1014.7 481V698M551.4 592V692M956.0 639V668M258.3 488V695M406.3 647V673M1011.6 483V693M799.0 484V699M154.8 566V604M882.9 486V692M1767.5 487V695M481.9 483V699M311.1 487V694M1064.3 483V698M1238.4 491V519M864.1 483V696M734.7 523V621M889.0 484V694M1531.1 501V657" stroke="#0000d2" stroke-opacity="0.4" stroke-width="1.5" fill="none"/>
<path d="M180.3 572V680M1674.1 485V696M374.1 485V624M407.4 552V671M396.3 481V699M364.3 487V699M567.9 639V699M854.6 482V694M148.6 487V699M613.8 486V696M1003.8 485V698M1768.3 487V693M504.0 485V693M259.7 530V619M1713.1 484V695M600.4 489V698M1011.9 485V696" stroke="#0000d2" stroke-opacity="0.4" stroke-width="0.5" fill="none"/>
<path d="M755.9 488V700M1324.8 481V699M1289.5 487V698M1210.0 489V693M356.1 535V634M1322.3 513V619M1785.6 492V540M1150.1 487V697M355.0 489V698M516.6 562V590M1701.2 487V698M1096.2 484V697M616.7 486V697M575.3 607V679M1069.8 507V604M762.5 492V649M1769.6 505V621M1267.7 485V698M1594.7 483V695M1682.6 487V695M924.2 488V695M1442.3 488V697M1275.5 503V614M1718.7 487V696M1054.4 540V661M1058.1 488V698M945.4 482V693M1286.7 533V589M583.4 548V688M711.2 484V694M682.7 481V695M1252.3 583V645M353.7 498V649M1631.4 482V695M1526.7 502V530M1227.1 487V698M810.0 603V655M1615.3 516V571M207.2 484V692" stroke="#0000d2" stroke-opacity="0.2" stroke-width="0.5" fill="none"/>
<path d="M1487.1 590V642M1119.5 485V699M953.2 486V698M703.1 484V694M806.0 489V695M1567.8 560V682M1187.8 525V623M549.1 515V689M1018.1 485V696M362.7 484V695M433.9 484V695M1624.1 525V618M1467.0 484V693M284.0 482V695M1532.7 488V693M1222.8 483V699M401.2 616V670M1238.9 484V696M1167.6 482V694M1158.4 489V692M389.4 486V698M515.8 488V694M523.5 485V699M425.7 486V694M1179.3 484V693M1464.0 481V695M710.1 488V696M307.4 484V695M845.6 485V696M905.6 491V600M840.0 488V696M601.0 487V697M334.3 481V695M1100.1 488V696M1120.9 482V694M476.3 484V693M1421.1 485V697M801.4 490V581M1753.6 483V695M242.5 484V695M942.4 487V694M1328.9 486V697M1306.1 484V700M1444.3 484V696" stroke="#0000b4" stroke-opacity="0.4" stroke-width="1.5" fill="none"/>
<path d="M1785.6 484V694M1610.0 481V693M589.2 487V695M466.9 515V637M519.7 589V631M346.2 485V693M1181.4 488V694M510.1 485V694M1093.6 548V692M1055.7 551V593M442.8 488V695M1455.1 481V697M798.6 673V699M453.7 481V695M310.7 485V698M790.4 489V692M1051.1 483V693M573.5 489V694M1733.3 483V700M1438.7 486V697M1617.4 487V698M649.0 483V693M515.6 488V694M1709.5 486V695M1246.1 489V520M1065.3 585V631M917.0 483V696M222.5 488V693M1258.4 483V696M1224.9 618V661M252.2 486V695M939.5 506V612M1607.6 585V625M557.9 486V699M1167.3 485V696M805.0 482V694M856.7 481V694M1525.2 488V695M537.1 489V695M196.2 483V698M985.5 485V695M988.5 483V698M743.8 508V548M1528.1 481V568M451.1 489V694M1718.3 487V694" stroke="#00005a" stroke-opacity="0.2" stroke-width="2.0" fill="none"/>
<path d="M1566.0 524V581M1436.3 483V694M1435.4 486V694M1097.1 485V698M1490.0 481V695M650.2 481V699M1054.7 548V641M459.1 484V696M937.9 637V667M905.8 483V693M506.0 487V697M261.1 481V521M1011.2 554V619M1304.9 484V694M653.4 487V697M618.7 487V698M1716.4 554V607M1541.9 503V678M923.3 483V697M609.9 483V695M187.2 482V690M198.6 486V693M1132.3 482V695M180.3 483V693M522.4 481V620M671.1 487V694M369.9 485V693M669.1 486V697M765.6 522V600M1166.1 486V697M1497.6 483V693M214.8 504V686M784.8 482V699M1208.7 482V696M1517.6 541V680M472.6 481V695M1673.3 483V694M445.1 483V700M926.7 624V696M1050.9 507V587M1121.2 482V700M536.6 488V698M1616.4 485V694M626.3 483V694M585.0 504V565M744.0 522V654M497.5 488V699M353.5 565V601M273.2 485V697M1415.4 487V698" stroke="#00005a" stroke-opacity="0.2" stroke-width="1.5" fill="none"/>
<path d="M1231.4 481V693M1041.5 503V620M1238.2 489V694M546.2 489V696M838.0 486V699M631.8 486V700M863.1 520V560M1079.6 484V699M297.8 503V581M209.1 488V697M473.7 482V698M653.6 575V684M936.7 482V700M1652.0 486V695M789.7 483V692M1697.3 486V695M1689.9 500V650M485.4 485V698M1576.1 488V693M928.4 486V697M1404.9 482V696M1582.5 488V693M277.3 497V594M1194.2 481V699M127.0 486V696M1330.5 486V698M1273.8 538V696M663.3 622V661M1204.2 509V692M1372.9 487V693M527.8 484V696M1087.2 484V699M1620.9 484V698M517.6 513V699M509.3 483V692M428.3 522V660M656.6 482V694M1171.1 486V699M139.0 487V695M1399.7 548V623M1517.7 489V698M778.8 488V697M277.6 482V699M1669.6 486V699M1506.7 483V692M1793.1 564V617M710.9 485V693M618.5 499V649M1393.6 492V697M1582.7 482V695M1463.7 482V694M1613.4 483V693M1084.2 488V700M1098.9 484V698" stroke="#00005a" stroke-opacity="0.2" stroke-width="1.0" fill="none"/>
<path d="M1747.4 483V695M498.1 564V667M872.3 485V696M1603.7 489V693M313.2 481V692M515.6 488V697M1013.6 488V698M324.0 484V693M1463.8 489V697M1086.6 608V651M821.6 592V630M391.4 492V588M1758.7 485V695M293.4 582V612M1386.9 598V638M1783.0 487V699M1533.1 507V606M608.5 486V692M1339.1 517V634M1606.7 482V694M166.2 486V700M1706.1 483V697M1750.3 485V699M1373.2 482V694M1610.9 508V546M968.5 487V697M1628.6 593V695M1245.0 486V698M1745.1 487V693M339.1 485V699M1082.7 483V699M713.6 482V695" stroke="#00005a" stroke-opacity="0.4" stroke-width="1.5" fill="none"/>
<path d="M898.5 647V682M631.3 484V697M1034.0 574V662M600.5 484V693M1473.7 521V693M597.4 489V696M1313.0 487V699" stroke="#000078" stroke-opacity="0.4" stroke-width="1.0" fill="none"/>
<path d="M1232.8 485V694M459.6 488V696M1753.2 484V695M1484.4 488V700M720.4 504V690M848.9 624V674M370.9 488V697M1658.1 485V694M635.7 604V659M1699.4 482V698M1244.9 496V637M553.9 488V698M882.2 513V687" stroke="#000078" stroke-opacity="0.2" stroke-width="2.0" fill="none"/>
<path d="M767.6 484V700M1298.9 483V699M1215.8 555V653M719.5 482V694M1297.5 481V693M548.9 544V578M1357.0 483V697M1040.5 483V700M457.3 485V693M1686.6 502V542M645.0 560V602M249.8 489V699M232.4 485V695M556.9 484V699M1413.1 481V693M981.2 483V696M1237.3 484V697M812.7 485V692M1466.4 485V700M661.0 484V700M1534.0 484V700M1673.1 487V693M776.0 488V696" stroke="#00005a" stroke-opacity="0.4" stroke-width="1.0" fill="none"/>
<path d="M1781.2 488V698M357.6 488V692M340.1 485V699M140.7 486V700M322.2 494V689M518.8 498V575M385.9 501V652M218.3 484V699M1305.9 571V642M480.7 483V694M563.9 483V692M957.0 482V699M331.2 482V625M182.6 489V695M461.7 520V621M1431.0 489V699" stroke="#00005a" stroke-opacity="0.4" stroke-width="2.0" fill="none"/>
<path d="M1301.0 483V698M1011.7 611V659M483.1 488V699M1551.4 481V697M1709.6 486V699M608.7 483V693M636.7 482V693" stroke="#000078" stroke-opacity="0.4" stroke-width="2.0" fill="none"/>
<path d="M1601.2 485V699M230.4 485V699M1439.1 488V694M911.6 485V692M1586.1 659V697M1458.9 562V662M305.1 485V699M759.5 487V699M1076.0 484V696M679.9 489V698M1301.8 485V693M596.9 488V693M1635.2 485V697M843.2 482V694M134.4 484V694M629.3 657V689M1358.8 486V694M1136.2 596V695" stroke="#000078" stroke-opacity="0.2" stroke-width="1.0" fill="none"/>
<path d="M1277.9 485V692M491.5 483V693M483.2 487V696M304.6 486V694M1493.1 526V650M230.1 482V692M681.9 488V698M229.0 494V540M211.8 485V693M323.8 483V696M372.4 484V700M872.3 631V693M707.9 488V698M1078.8 600V681M358.4 484V695M808.4 487V693M540.0 483V696M243.6 598V639M1421.5 484V693M250.0 586V617" stroke="#000078" stroke-opacity="0.2" stroke-width="1.5" fill="none"/>
<path d="M382.9 485V695M727.0 645V696M753.4 482V693M259.3 582V611M389.3 537V673M1749.0 483V693M441.0 488V695M741.5 629V676M343.5 564V661M731.4 483V694M820.4 483V696M1415.5 484V693M1653.6 487V697M694.0 521V616" stroke="#000078" stroke-opacity="0.4" stroke-width="1.5" fill="none"/>
</g>
<g mask="url(#nmask)"><rect x="120.5" y="52" width="1676.0" height="734" filter="url(#noiseB)"/>
<rect x="120.5" y="52" width="1676.0" height="734" filter="url(#noiseD)"/></g>
<rect x="768.0" y="305.0" width="8.0" height="55.0" fill="url(#g4)"/>
<rect x="781.0" y="320.0" width="10.0" height="40.0" fill="url(#g5)"/>
<rect x="1131.0" y="300.0" width="11.0" height="60.0" fill="url(#g6)"/>
<rect x="1133.0" y="300.0" width="7.0" height="45.0" fill="url(#g7)"/>
<rect x="120.5" y="655" width="1676.0" height="286" fill="url(#dotgrid)" mask="url(#dotmask)"/>
<g filter="url(#soft2)">
<rect x="1771.6" y="837.8" width="16.1" height="3.6" fill="#0000cc" fill-opacity="0.38"/>
<rect x="785.0" y="824.0" width="32.4" height="3.6" fill="#0000f7" fill-opacity="0.59"/>
<rect x="1163.8" y="833.2" width="11.4" height="3.6" fill="#0000d8" fill-opacity="0.54"/>
<rect x="710.0" y="939.5" width="10.5" height="3.6" fill="#0000d6" fill-opacity="0.34"/>
<rect x="243.0" y="754.7" width="11.8" height="3.6" fill="#0000fc" fill-opacity="0.39"/>
<rect x="771.6" y="782.4" width="31.3" height="3.6" fill="#0000ef" fill-opacity="0.49"/>
<rect x="140.1" y="745.4" width="12.4" height="3.6" fill="#0000eb" fill-opacity="0.55"/>
<rect x="682.2" y="703.9" width="10.6" height="3.6" fill="#0000ed" fill-opacity="0.25"/>
<rect x="1060.9" y="745.4" width="15.1" height="3.6" fill="#0000e4" fill-opacity="0.45"/>
<rect x="641.7" y="736.2" width="16.2" height="3.6" fill="#0000cc" fill-opacity="0.59"/>
<rect x="1274.9" y="777.8" width="13.9" height="3.6" fill="#0000f5" fill-opacity="0.27"/>
<rect x="770.4" y="810.1" width="30.4" height="3.6" fill="#0000ef" fill-opacity="0.44"/>
<rect x="186.9" y="796.3" width="21.6" height="3.6" fill="#0000fb" fill-opacity="0.48"/>
<rect x="456.4" y="851.7" width="26.2" height="3.6" fill="#0000f7" fill-opacity="0.58"/>
<rect x="160.2" y="865.6" width="16.2" height="3.6" fill="#0000fa" fill-opacity="0.42"/>
<rect x="1185.4" y="824.0" width="37.8" height="3.6" fill="#0000f4" fill-opacity="0.49"/>
<rect x="1002.8" y="782.4" width="33.7" height="3.6" fill="#0000ea" fill-opacity="0.51"/>
<rect x="1772.7" y="713.1" width="37.2" height="3.6" fill="#0000da" fill-opacity="0.29"/>
<rect x="1535.4" y="948.7" width="23.0" height="3.6" fill="#0000e7" fill-opacity="0.30"/>
<rect x="903.5" y="708.5" width="15.5" height="3.6" fill="#0000e1" fill-opacity="0.54"/>
<rect x="1485.7" y="837.8" width="21.5" height="3.6" fill="#0000e3" fill-opacity="0.55"/>
<rect x="1339.8" y="699.2" width="14.2" height="3.6" fill="#0000f6" fill-opacity="0.55"/>
<rect x="1162.2" y="713.1" width="12.1" height="3.6" fill="#0000c9" fill-opacity="0.49"/>
<rect x="828.9" y="690.0" width="24.8" height="3.6" fill="#0000cd" fill-opacity="0.36"/>
<rect x="498.6" y="791.6" width="16.8" height="3.6" fill="#0000c9" fill-opacity="0.57"/>
<rect x="1787.7" y="768.5" width="34.2" height="3.6" fill="#0000e7" fill-opacity="0.33"/>
<rect x="1115.9" y="727.0" width="34.3" height="3.6" fill="#0000f8" fill-opacity="0.54"/>
<rect x="835.3" y="805.5" width="38.0" height="3.6" fill="#0000d3" fill-opacity="0.44"/>
<rect x="1709.0" y="759.3" width="37.6" height="3.6" fill="#0000d7" fill-opacity="0.48"/>
<rect x="465.8" y="962.6" width="9.5" height="3.6" fill="#0000f1" fill-opacity="0.32"/>
<rect x="790.7" y="773.2" width="12.2" height="3.6" fill="#0000ee" fill-opacity="0.55"/>
<rect x="1428.0" y="731.6" width="28.1" height="3.6" fill="#0000f6" fill-opacity="0.53"/>
<rect x="1623.8" y="745.4" width="36.1" height="3.6" fill="#0000da" fill-opacity="0.57"/>
<rect x="1574.8" y="962.6" width="9.6" height="3.6" fill="#0000f0" fill-opacity="0.46"/>
<rect x="510.9" y="902.5" width="20.1" height="3.6" fill="#0000c6" fill-opacity="0.33"/>
<rect x="340.6" y="860.9" width="18.1" height="3.6" fill="#0000e7" fill-opacity="0.44"/>
<rect x="1422.0" y="865.6" width="22.0" height="3.6" fill="#0000e6" fill-opacity="0.55"/>
<rect x="589.6" y="699.2" width="17.9" height="3.6" fill="#0000f2" fill-opacity="0.36"/>
<rect x="1715.7" y="713.1" width="17.7" height="3.6" fill="#0000f4" fill-opacity="0.55"/>
<rect x="1276.0" y="791.6" width="18.6" height="3.6" fill="#0000d0" fill-opacity="0.60"/>
<rect x="1307.8" y="736.2" width="34.9" height="3.6" fill="#0000f2" fill-opacity="0.34"/>
<rect x="1187.4" y="694.6" width="12.5" height="3.6" fill="#0000ea" fill-opacity="0.48"/>
<rect x="460.5" y="796.3" width="25.7" height="3.6" fill="#0000e8" fill-opacity="0.42"/>
<rect x="1047.3" y="893.3" width="12.4" height="3.6" fill="#0000e0" fill-opacity="0.50"/>
<rect x="1674.2" y="884.0" width="25.9" height="3.6" fill="#0000ca" fill-opacity="0.38"/>
<rect x="1174.0" y="750.1" width="18.4" height="3.6" fill="#0000de" fill-opacity="0.41"/>
<rect x="766.2" y="740.8" width="14.6" height="3.6" fill="#0000e3" fill-opacity="0.48"/>
<rect x="1058.3" y="902.5" width="18.7" height="3.6" fill="#0000ec" fill-opacity="0.54"/>
<rect x="1564.5" y="833.2" width="34.8" height="3.6" fill="#0000d5" fill-opacity="0.38"/>
<rect x="706.2" y="870.2" width="13.3" height="3.6" fill="#0000cf" fill-opacity="0.42"/>
<rect x="1352.2" y="962.6" width="8.6" height="3.6" fill="#0000d6" fill-opacity="0.39"/>
<rect x="1742.6" y="750.1" width="29.6" height="3.6" fill="#0000d7" fill-opacity="0.45"/>
<rect x="1030.7" y="796.3" width="12.7" height="3.6" fill="#0000ea" fill-opacity="0.41"/>
<rect x="900.2" y="916.4" width="31.5" height="3.6" fill="#0000ce" fill-opacity="0.53"/>
<rect x="981.4" y="907.1" width="11.5" height="3.6" fill="#0000d3" fill-opacity="0.48"/>
<rect x="1243.7" y="824.0" width="30.6" height="3.6" fill="#0000cc" fill-opacity="0.44"/>
<rect x="1245.9" y="759.3" width="29.7" height="3.6" fill="#0000d5" fill-opacity="0.48"/>
<rect x="829.8" y="851.7" width="28.8" height="3.6" fill="#0000d2" fill-opacity="0.31"/>
<rect x="1307.7" y="953.3" width="19.6" height="3.6" fill="#0000cf" fill-opacity="0.26"/>
<rect x="1045.8" y="814.7" width="36.7" height="3.6" fill="#0000cf" fill-opacity="0.45"/>
<rect x="1121.8" y="745.4" width="23.5" height="3.6" fill="#0000dc" fill-opacity="0.38"/>
<rect x="427.3" y="717.7" width="25.1" height="3.6" fill="#0000cb" fill-opacity="0.33"/>
<rect x="1494.5" y="856.3" width="35.3" height="3.6" fill="#0000d9" fill-opacity="0.30"/>
<rect x="409.8" y="800.9" width="32.1" height="3.6" fill="#0000eb" fill-opacity="0.34"/>
<rect x="323.6" y="740.8" width="30.4" height="3.6" fill="#0000e6" fill-opacity="0.57"/>
<rect x="660.9" y="791.6" width="32.8" height="3.6" fill="#0000d7" fill-opacity="0.32"/>
<rect x="1141.7" y="828.6" width="17.8" height="3.6" fill="#0000ef" fill-opacity="0.34"/>
<rect x="1517.7" y="768.5" width="37.8" height="3.6" fill="#0000da" fill-opacity="0.30"/>
<rect x="830.4" y="740.8" width="30.8" height="3.6" fill="#0000ed" fill-opacity="0.38"/>
<rect x="1745.4" y="874.8" width="38.4" height="3.6" fill="#0000da" fill-opacity="0.31"/>
<rect x="1408.1" y="796.3" width="39.3" height="3.6" fill="#0000db" fill-opacity="0.58"/>
<rect x="227.7" y="897.9" width="12.0" height="3.6" fill="#0000de" fill-opacity="0.30"/>
<rect x="532.3" y="690.0" width="30.7" height="3.6" fill="#0000f3" fill-opacity="0.44"/>
<rect x="1614.8" y="842.5" width="30.8" height="3.6" fill="#0000cc" fill-opacity="0.39"/>
<rect x="755.3" y="810.1" width="9.3" height="3.6" fill="#0000dd" fill-opacity="0.55"/>
<rect x="310.7" y="948.7" width="25.2" height="3.6" fill="#0000f5" fill-opacity="0.46"/>
<rect x="282.6" y="958.0" width="22.1" height="3.6" fill="#0000da" fill-opacity="0.38"/>
<rect x="191.6" y="759.3" width="12.0" height="3.6" fill="#0000cf" fill-opacity="0.51"/>
<rect x="1088.0" y="800.9" width="13.9" height="3.6" fill="#0000ea" fill-opacity="0.31"/>
<rect x="1582.9" y="819.4" width="34.0" height="3.6" fill="#0000ed" fill-opacity="0.60"/>
<rect x="730.4" y="763.9" width="33.0" height="3.6" fill="#0000f9" fill-opacity="0.28"/>
<rect x="1515.7" y="865.6" width="9.8" height="3.6" fill="#0000d1" fill-opacity="0.30"/>
<rect x="1600.1" y="694.6" width="29.4" height="3.6" fill="#0000e7" fill-opacity="0.38"/>
<rect x="1587.0" y="893.3" width="10.7" height="3.6" fill="#0000ed" fill-opacity="0.56"/>
<rect x="1000.1" y="763.9" width="9.2" height="3.6" fill="#0000f6" fill-opacity="0.31"/>
<rect x="877.4" y="865.6" width="19.6" height="3.6" fill="#0000ef" fill-opacity="0.40"/>
<rect x="1017.2" y="893.3" width="35.7" height="3.6" fill="#0000c8" fill-opacity="0.57"/>
<rect x="401.0" y="847.1" width="32.0" height="3.6" fill="#0000e1" fill-opacity="0.57"/>
<rect x="970.5" y="851.7" width="15.7" height="3.6" fill="#0000e2" fill-opacity="0.47"/>
<rect x="1129.1" y="708.5" width="26.8" height="3.6" fill="#0000e9" fill-opacity="0.40"/>
<rect x="1537.0" y="694.6" width="36.5" height="3.6" fill="#0000dc" fill-opacity="0.34"/>
<rect x="1148.0" y="791.6" width="34.9" height="3.6" fill="#0000e7" fill-opacity="0.40"/>
<rect x="1629.7" y="842.5" width="26.9" height="3.6" fill="#0000f7" fill-opacity="0.33"/>
<rect x="926.5" y="851.7" width="32.3" height="3.6" fill="#0000d4" fill-opacity="0.38"/>
<rect x="151.6" y="810.1" width="13.7" height="3.6" fill="#0000c7" fill-opacity="0.44"/>
<rect x="1289.4" y="934.9" width="26.9" height="3.6" fill="#0000da" fill-opacity="0.37"/>
<rect x="1179.2" y="962.6" width="31.1" height="3.6" fill="#0000e9" fill-opacity="0.52"/>
<rect x="1752.7" y="819.4" width="27.0" height="3.6" fill="#0000ef" fill-opacity="0.59"/>
<rect x="1670.7" y="708.5" width="19.6" height="3.6" fill="#0000dd" fill-opacity="0.39"/>
<rect x="756.5" y="768.5" width="23.7" height="3.6" fill="#0000c9" fill-opacity="0.29"/>
<rect x="333.0" y="953.3" width="14.7" height="3.6" fill="#0000d7" fill-opacity="0.45"/>
<rect x="1208.1" y="958.0" width="38.9" height="3.6" fill="#0000f7" fill-opacity="0.30"/>
<rect x="1013.0" y="814.7" width="29.2" height="3.6" fill="#0000f2" fill-opacity="0.38"/>
<rect x="1501.6" y="865.6" width="16.4" height="3.6" fill="#0000e7" fill-opacity="0.44"/>
<rect x="928.0" y="745.4" width="10.9" height="3.6" fill="#0000ed" fill-opacity="0.33"/>
<rect x="196.1" y="939.5" width="36.3" height="3.6" fill="#0000e3" fill-opacity="0.30"/>
<rect x="316.3" y="810.1" width="34.7" height="3.6" fill="#0000e9" fill-opacity="0.27"/>
<rect x="1454.7" y="740.8" width="22.6" height="3.6" fill="#0000c9" fill-opacity="0.58"/>
<rect x="1502.5" y="851.7" width="24.1" height="3.6" fill="#0000e5" fill-opacity="0.46"/>
<rect x="1662.2" y="773.2" width="35.6" height="3.6" fill="#0000dc" fill-opacity="0.51"/>
<rect x="537.8" y="736.2" width="16.0" height="3.6" fill="#0000cf" fill-opacity="0.35"/>
<rect x="1620.2" y="768.5" width="33.5" height="3.6" fill="#0000cd" fill-opacity="0.33"/>
<rect x="552.8" y="819.4" width="11.2" height="3.6" fill="#0000db" fill-opacity="0.42"/>
<rect x="507.6" y="740.8" width="30.8" height="3.6" fill="#0000f3" fill-opacity="0.54"/>
<rect x="196.5" y="879.4" width="28.6" height="3.6" fill="#0000e7" fill-opacity="0.33"/>
<rect x="169.9" y="856.3" width="30.7" height="3.6" fill="#0000f2" fill-opacity="0.52"/>
<rect x="138.9" y="851.7" width="10.7" height="3.6" fill="#0000cc" fill-opacity="0.44"/>
<rect x="869.9" y="893.3" width="12.5" height="3.6" fill="#0000fc" fill-opacity="0.37"/>
<rect x="915.3" y="699.2" width="10.5" height="3.6" fill="#0000df" fill-opacity="0.48"/>
<rect x="1574.3" y="916.4" width="28.8" height="3.6" fill="#0000f9" fill-opacity="0.34"/>
<rect x="1380.0" y="782.4" width="10.5" height="3.6" fill="#0000e3" fill-opacity="0.59"/>
<rect x="1015.7" y="745.4" width="20.4" height="3.6" fill="#0000e4" fill-opacity="0.50"/>
<rect x="1742.4" y="800.9" width="25.8" height="3.6" fill="#0000e5" fill-opacity="0.54"/>
<rect x="134.9" y="916.4" width="25.2" height="3.6" fill="#0000f2" fill-opacity="0.46"/>
<rect x="1172.2" y="736.2" width="27.6" height="3.6" fill="#0000e0" fill-opacity="0.31"/>
<rect x="1640.4" y="828.6" width="24.4" height="3.6" fill="#0000e4" fill-opacity="0.37"/>
<rect x="1086.1" y="828.6" width="31.0" height="3.6" fill="#0000c6" fill-opacity="0.39"/>
<rect x="894.0" y="722.3" width="39.2" height="3.6" fill="#0000dd" fill-opacity="0.46"/>
<rect x="821.2" y="925.6" width="32.1" height="3.6" fill="#0000ca" fill-opacity="0.58"/>
<rect x="1322.8" y="773.2" width="16.9" height="3.6" fill="#0000d0" fill-opacity="0.35"/>
<rect x="1062.6" y="833.2" width="27.3" height="3.6" fill="#0000e5" fill-opacity="0.47"/>
<rect x="1688.0" y="860.9" width="30.9" height="3.6" fill="#0000f1" fill-opacity="0.40"/>
<rect x="1331.5" y="722.3" width="8.1" height="3.6" fill="#0000f6" fill-opacity="0.35"/>
<rect x="509.2" y="939.5" width="39.9" height="3.6" fill="#0000e4" fill-opacity="0.54"/>
<rect x="1732.8" y="800.9" width="30.1" height="3.6" fill="#0000e2" fill-opacity="0.53"/>
<rect x="1157.5" y="763.9" width="17.6" height="3.6" fill="#0000d9" fill-opacity="0.29"/>
<rect x="808.3" y="884.0" width="24.0" height="3.6" fill="#0000d9" fill-opacity="0.49"/>
<rect x="1787.0" y="796.3" width="34.2" height="3.6" fill="#0000ca" fill-opacity="0.39"/>
<rect x="1447.0" y="782.4" width="13.1" height="3.6" fill="#0000ea" fill-opacity="0.37"/>
<rect x="458.1" y="962.6" width="29.1" height="3.6" fill="#0000d7" fill-opacity="0.57"/>
<rect x="397.9" y="870.2" width="10.0" height="3.6" fill="#0000f3" fill-opacity="0.56"/>
<rect x="689.8" y="921.0" width="15.6" height="3.6" fill="#0000da" fill-opacity="0.57"/>
<rect x="926.6" y="856.3" width="14.2" height="3.6" fill="#0000f5" fill-opacity="0.55"/>
<rect x="829.4" y="782.4" width="23.2" height="3.6" fill="#0000e3" fill-opacity="0.33"/>
<rect x="1743.8" y="925.6" width="11.9" height="3.6" fill="#0000e4" fill-opacity="0.29"/>
<rect x="1028.8" y="893.3" width="21.4" height="3.6" fill="#0000dd" fill-opacity="0.37"/>
<rect x="1257.1" y="925.6" width="15.6" height="3.6" fill="#0000f4" fill-opacity="0.56"/>
<rect x="497.2" y="897.9" width="9.2" height="3.6" fill="#0000cc" fill-opacity="0.60"/>
<rect x="337.7" y="810.1" width="12.7" height="3.6" fill="#0000df" fill-opacity="0.32"/>
<rect x="1406.5" y="958.0" width="28.0" height="3.6" fill="#0000d9" fill-opacity="0.37"/>
<rect x="948.3" y="736.2" width="16.9" height="3.6" fill="#0000f8" fill-opacity="0.32"/>
<rect x="193.8" y="810.1" width="21.2" height="3.6" fill="#0000f5" fill-opacity="0.32"/>
<rect x="449.9" y="860.9" width="30.7" height="3.6" fill="#0000da" fill-opacity="0.31"/>
<rect x="718.8" y="740.8" width="18.5" height="3.6" fill="#0000d0" fill-opacity="0.60"/>
<rect x="1107.1" y="856.3" width="9.8" height="3.6" fill="#0000d6" fill-opacity="0.45"/>
<rect x="838.6" y="740.8" width="11.9" height="3.6" fill="#0000f3" fill-opacity="0.56"/>
<rect x="1122.8" y="865.6" width="21.0" height="3.6" fill="#0000cb" fill-opacity="0.40"/>
<rect x="1776.7" y="934.9" width="30.4" height="3.6" fill="#0000d8" fill-opacity="0.43"/>
<rect x="386.9" y="916.4" width="23.7" height="3.6" fill="#0000ce" fill-opacity="0.38"/>
<rect x="230.1" y="796.3" width="39.4" height="3.6" fill="#0000e4" fill-opacity="0.50"/>
<rect x="391.2" y="708.5" width="36.9" height="3.6" fill="#0000dd" fill-opacity="0.54"/>
<rect x="1382.0" y="851.7" width="10.2" height="3.6" fill="#0000e7" fill-opacity="0.27"/>
<rect x="738.1" y="708.5" width="14.0" height="3.6" fill="#0000c9" fill-opacity="0.33"/>
<rect x="1539.1" y="921.0" width="33.6" height="3.6" fill="#0000df" fill-opacity="0.45"/>
<rect x="1695.4" y="930.2" width="10.5" height="3.6" fill="#0000da" fill-opacity="0.34"/>
<rect x="952.7" y="763.9" width="16.0" height="3.6" fill="#0000d4" fill-opacity="0.39"/>
<rect x="449.1" y="814.7" width="11.5" height="3.6" fill="#0000dc" fill-opacity="0.56"/>
<rect x="549.3" y="690.0" width="33.7" height="3.6" fill="#0000d0" fill-opacity="0.35"/>
<rect x="425.1" y="703.9" width="30.7" height="3.6" fill="#0000ce" fill-opacity="0.36"/>
<rect x="1726.1" y="865.6" width="11.7" height="3.6" fill="#0000de" fill-opacity="0.37"/>
<rect x="892.4" y="833.2" width="26.5" height="3.6" fill="#0000f3" fill-opacity="0.55"/>
<rect x="1731.8" y="939.5" width="25.5" height="3.6" fill="#0000c8" fill-opacity="0.35"/>
<rect x="915.6" y="750.1" width="13.8" height="3.6" fill="#0000e9" fill-opacity="0.47"/>
<rect x="542.8" y="847.1" width="12.6" height="3.6" fill="#0000d0" fill-opacity="0.41"/>
<rect x="667.2" y="810.1" width="26.0" height="3.6" fill="#0000e6" fill-opacity="0.30"/>
<rect x="631.6" y="796.3" width="31.9" height="3.6" fill="#0000f0" fill-opacity="0.32"/>
<rect x="1635.7" y="847.1" width="28.4" height="3.6" fill="#0000e4" fill-opacity="0.45"/>
<rect x="1772.2" y="833.2" width="35.6" height="3.6" fill="#0000c9" fill-opacity="0.45"/>
<rect x="670.4" y="856.3" width="33.7" height="3.6" fill="#0000f2" fill-opacity="0.34"/>
<rect x="627.1" y="884.0" width="14.4" height="3.6" fill="#0000e8" fill-opacity="0.48"/>
<rect x="990.0" y="708.5" width="17.2" height="3.6" fill="#0000fc" fill-opacity="0.28"/>
<rect x="1676.6" y="740.8" width="36.8" height="3.6" fill="#0000cb" fill-opacity="0.36"/>
<rect x="369.4" y="727.0" width="15.1" height="3.6" fill="#0000f9" fill-opacity="0.56"/>
<rect x="1256.1" y="824.0" width="10.8" height="3.6" fill="#0000d5" fill-opacity="0.47"/>
<rect x="339.0" y="902.5" width="20.7" height="3.6" fill="#0000df" fill-opacity="0.50"/>
<rect x="273.8" y="713.1" width="27.7" height="3.6" fill="#0000d9" fill-opacity="0.57"/>
<rect x="1490.5" y="722.3" width="27.5" height="3.6" fill="#0000e0" fill-opacity="0.32"/>
<rect x="1606.4" y="717.7" width="35.0" height="3.6" fill="#0000d7" fill-opacity="0.55"/>
<rect x="489.1" y="925.6" width="16.7" height="3.6" fill="#0000d3" fill-opacity="0.53"/>
<rect x="1115.9" y="791.6" width="32.4" height="3.6" fill="#0000fc" fill-opacity="0.50"/>
<rect x="478.6" y="814.7" width="37.6" height="3.6" fill="#0000ce" fill-opacity="0.30"/>
<rect x="1434.1" y="759.3" width="11.1" height="3.6" fill="#0000d3" fill-opacity="0.43"/>
<rect x="1084.4" y="851.7" width="33.4" height="3.6" fill="#0000f7" fill-opacity="0.35"/>
<rect x="1238.2" y="740.8" width="28.9" height="3.6" fill="#0000de" fill-opacity="0.29"/>
<rect x="661.7" y="699.2" width="31.1" height="3.6" fill="#0000c9" fill-opacity="0.26"/>
<rect x="545.5" y="921.0" width="29.7" height="3.6" fill="#0000f3" fill-opacity="0.37"/>
<rect x="672.0" y="948.7" width="25.1" height="3.6" fill="#0000f2" fill-opacity="0.55"/>
<rect x="1594.1" y="939.5" width="9.3" height="3.6" fill="#0000e5" fill-opacity="0.44"/>
<rect x="1282.6" y="934.9" width="25.4" height="3.6" fill="#0000f8" fill-opacity="0.52"/>
<rect x="1054.0" y="745.4" width="28.1" height="3.6" fill="#0000cd" fill-opacity="0.39"/>
<rect x="755.8" y="731.6" width="20.2" height="3.6" fill="#0000c9" fill-opacity="0.37"/>
<rect x="483.8" y="925.6" width="20.3" height="3.6" fill="#0000e2" fill-opacity="0.47"/>
<rect x="1634.4" y="958.0" width="13.4" height="3.6" fill="#0000d2" fill-opacity="0.60"/>
<rect x="558.2" y="851.7" width="18.1" height="3.6" fill="#0000d3" fill-opacity="0.49"/>
<rect x="542.2" y="759.3" width="24.1" height="3.6" fill="#0000e8" fill-opacity="0.30"/>
<rect x="1755.5" y="958.0" width="28.9" height="3.6" fill="#0000e1" fill-opacity="0.31"/>
<rect x="1149.2" y="907.1" width="32.0" height="3.6" fill="#0000e3" fill-opacity="0.41"/>
<rect x="520.8" y="911.8" width="28.5" height="3.6" fill="#0000e8" fill-opacity="0.60"/>
<rect x="1665.4" y="939.5" width="26.4" height="3.6" fill="#0000d7" fill-opacity="0.53"/>
<rect x="412.1" y="874.8" width="11.6" height="3.6" fill="#0000cc" fill-opacity="0.35"/>
<rect x="351.8" y="828.6" width="35.5" height="3.6" fill="#0000e7" fill-opacity="0.39"/>
<rect x="809.5" y="870.2" width="13.3" height="3.6" fill="#0000df" fill-opacity="0.51"/>
<rect x="1583.5" y="856.3" width="9.7" height="3.6" fill="#0000f2" fill-opacity="0.51"/>
<rect x="635.0" y="750.1" width="22.0" height="3.6" fill="#0000d8" fill-opacity="0.57"/>
<rect x="381.0" y="814.7" width="15.9" height="3.6" fill="#0000c9" fill-opacity="0.32"/>
<rect x="993.2" y="860.9" width="14.8" height="3.6" fill="#0000d3" fill-opacity="0.52"/>
<rect x="243.0" y="907.1" width="26.6" height="3.6" fill="#0000da" fill-opacity="0.55"/>
<rect x="1161.8" y="953.3" width="30.1" height="3.6" fill="#0000cc" fill-opacity="0.36"/>
<rect x="1731.4" y="939.5" width="37.0" height="3.6" fill="#0000f0" fill-opacity="0.26"/>
<rect x="1496.2" y="962.6" width="22.7" height="3.6" fill="#0000f9" fill-opacity="0.33"/>
<rect x="617.6" y="879.4" width="20.9" height="3.6" fill="#0000e1" fill-opacity="0.41"/>
<rect x="1724.1" y="893.3" width="27.6" height="3.6" fill="#0000e1" fill-opacity="0.57"/>
<rect x="173.6" y="916.4" width="33.4" height="3.6" fill="#0000d3" fill-opacity="0.35"/>
<rect x="201.9" y="921.0" width="30.2" height="3.6" fill="#0000dd" fill-opacity="0.46"/>
<rect x="475.8" y="939.5" width="10.0" height="3.6" fill="#0000e8" fill-opacity="0.31"/>
<rect x="789.3" y="763.9" width="11.0" height="3.6" fill="#0000ce" fill-opacity="0.35"/>
<rect x="580.6" y="708.5" width="17.0" height="3.6" fill="#0000f1" fill-opacity="0.28"/>
<rect x="797.2" y="847.1" width="39.6" height="3.6" fill="#0000ca" fill-opacity="0.43"/>
<rect x="1199.0" y="907.1" width="35.8" height="3.6" fill="#0000f5" fill-opacity="0.49"/>
<rect x="345.2" y="925.6" width="13.8" height="3.6" fill="#0000f6" fill-opacity="0.44"/>
<rect x="1599.4" y="750.1" width="39.2" height="3.6" fill="#0000f7" fill-opacity="0.59"/>
<rect x="1491.7" y="787.0" width="20.8" height="3.6" fill="#0000d5" fill-opacity="0.27"/>
<rect x="506.2" y="902.5" width="26.1" height="3.6" fill="#0000ea" fill-opacity="0.47"/>
<rect x="1578.9" y="773.2" width="8.2" height="3.6" fill="#0000db" fill-opacity="0.38"/>
<rect x="1404.4" y="722.3" width="18.5" height="3.6" fill="#0000dc" fill-opacity="0.34"/>
<rect x="393.5" y="690.0" width="32.0" height="3.6" fill="#0000dc" fill-opacity="0.58"/>
<rect x="1279.2" y="800.9" width="11.2" height="3.6" fill="#0000de" fill-opacity="0.54"/>
<rect x="560.1" y="824.0" width="39.5" height="3.6" fill="#0000f3" fill-opacity="0.41"/>
<rect x="1352.9" y="713.1" width="39.2" height="3.6" fill="#0000f8" fill-opacity="0.37"/>
<rect x="274.7" y="833.2" width="16.5" height="3.6" fill="#0000d5" fill-opacity="0.32"/>
<rect x="680.7" y="884.0" width="14.4" height="3.6" fill="#0000f7" fill-opacity="0.45"/>
<rect x="916.9" y="884.0" width="32.0" height="3.6" fill="#0000f9" fill-opacity="0.33"/>
<rect x="1612.9" y="911.8" width="20.6" height="3.6" fill="#0000e3" fill-opacity="0.36"/>
<rect x="206.7" y="814.7" width="38.4" height="3.6" fill="#0000ee" fill-opacity="0.33"/>
<rect x="1523.5" y="865.6" width="36.5" height="3.6" fill="#0000d6" fill-opacity="0.54"/>
<rect x="1794.0" y="768.5" width="10.8" height="3.6" fill="#0000d3" fill-opacity="0.43"/>
<rect x="565.7" y="897.9" width="23.3" height="3.6" fill="#0000cb" fill-opacity="0.27"/>
<rect x="443.6" y="930.2" width="12.5" height="3.6" fill="#0000e2" fill-opacity="0.44"/>
<rect x="591.2" y="884.0" width="15.9" height="3.6" fill="#0000d1" fill-opacity="0.50"/>
<rect x="681.8" y="847.1" width="23.8" height="3.6" fill="#0000df" fill-opacity="0.41"/>
<rect x="562.6" y="870.2" width="28.1" height="3.6" fill="#0000ed" fill-opacity="0.60"/>
<rect x="218.3" y="907.1" width="29.8" height="3.6" fill="#0000cf" fill-opacity="0.48"/>
<rect x="1156.3" y="791.6" width="34.6" height="3.6" fill="#0000f7" fill-opacity="0.25"/>
<rect x="132.2" y="856.3" width="37.3" height="3.6" fill="#0000fb" fill-opacity="0.54"/>
<rect x="366.9" y="842.5" width="32.0" height="3.6" fill="#0000f8" fill-opacity="0.44"/>
<rect x="1464.7" y="828.6" width="26.1" height="3.6" fill="#0000e0" fill-opacity="0.47"/>
<rect x="681.8" y="958.0" width="30.1" height="3.6" fill="#0000e9" fill-opacity="0.44"/>
<rect x="654.1" y="962.6" width="29.7" height="3.6" fill="#0000eb" fill-opacity="0.40"/>
<rect x="462.7" y="768.5" width="20.2" height="3.6" fill="#0000cc" fill-opacity="0.29"/>
<rect x="847.4" y="865.6" width="26.8" height="3.6" fill="#0000cf" fill-opacity="0.38"/>
<rect x="714.4" y="699.2" width="35.6" height="3.6" fill="#0000dd" fill-opacity="0.54"/>
<rect x="519.0" y="731.6" width="19.5" height="3.6" fill="#0000e0" fill-opacity="0.49"/>
<rect x="858.1" y="740.8" width="10.2" height="3.6" fill="#0000d9" fill-opacity="0.34"/>
<rect x="1610.5" y="750.1" width="8.2" height="3.6" fill="#0000fa" fill-opacity="0.49"/>
<rect x="620.3" y="703.9" width="36.2" height="3.6" fill="#0000d2" fill-opacity="0.38"/>
<rect x="1033.4" y="768.5" width="21.2" height="3.6" fill="#0000de" fill-opacity="0.55"/>
<rect x="680.4" y="694.6" width="12.4" height="3.6" fill="#0000ef" fill-opacity="0.38"/>
<rect x="1525.8" y="824.0" width="10.0" height="3.6" fill="#0000e7" fill-opacity="0.41"/>
<rect x="1795.3" y="791.6" width="24.3" height="3.6" fill="#0000ed" fill-opacity="0.55"/>
<rect x="1613.4" y="703.9" width="15.5" height="3.6" fill="#0000dd" fill-opacity="0.59"/>
<rect x="772.3" y="870.2" width="39.8" height="3.6" fill="#0000d8" fill-opacity="0.40"/>
<rect x="565.3" y="870.2" width="10.1" height="3.6" fill="#0000c8" fill-opacity="0.45"/>
<rect x="138.7" y="699.2" width="9.2" height="3.6" fill="#0000e4" fill-opacity="0.27"/>
<rect x="648.6" y="842.5" width="26.5" height="3.6" fill="#0000e2" fill-opacity="0.54"/>
<rect x="337.4" y="727.0" width="30.5" height="3.6" fill="#0000f9" fill-opacity="0.27"/>
<rect x="1590.7" y="690.0" width="15.5" height="3.6" fill="#0000e8" fill-opacity="0.32"/>
<rect x="675.0" y="787.0" width="12.2" height="3.6" fill="#0000e1" fill-opacity="0.47"/>
<rect x="1168.0" y="800.9" width="32.0" height="3.6" fill="#0000d7" fill-opacity="0.51"/>
<rect x="230.4" y="865.6" width="16.8" height="3.6" fill="#0000d7" fill-opacity="0.29"/>
<rect x="1545.8" y="879.4" width="20.5" height="3.6" fill="#0000dd" fill-opacity="0.39"/>
<rect x="719.3" y="893.3" width="13.4" height="3.6" fill="#0000f7" fill-opacity="0.56"/>
<rect x="1394.1" y="690.0" width="9.8" height="3.6" fill="#0000f7" fill-opacity="0.37"/>
<rect x="803.6" y="828.6" width="37.7" height="3.6" fill="#0000f6" fill-opacity="0.27"/>
<rect x="459.3" y="791.6" width="22.0" height="3.6" fill="#0000d5" fill-opacity="0.58"/>
<rect x="279.6" y="722.3" width="36.1" height="3.6" fill="#0000ea" fill-opacity="0.57"/>
<rect x="312.0" y="782.4" width="26.8" height="3.6" fill="#0000e9" fill-opacity="0.45"/>
<rect x="1205.6" y="833.2" width="25.5" height="3.6" fill="#0000ce" fill-opacity="0.30"/>
<rect x="1223.5" y="819.4" width="33.1" height="3.6" fill="#0000f7" fill-opacity="0.53"/>
<rect x="196.3" y="939.5" width="30.1" height="3.6" fill="#0000c6" fill-opacity="0.54"/>
<rect x="1193.7" y="731.6" width="20.3" height="3.6" fill="#0000e5" fill-opacity="0.38"/>
<rect x="405.2" y="740.8" width="19.3" height="3.6" fill="#0000ec" fill-opacity="0.27"/>
<rect x="1779.4" y="888.7" width="9.1" height="3.6" fill="#0000d8" fill-opacity="0.42"/>
<rect x="238.3" y="897.9" width="29.2" height="3.6" fill="#0000c6" fill-opacity="0.39"/>
<rect x="1385.1" y="911.8" width="10.5" height="3.6" fill="#0000e3" fill-opacity="0.55"/>
<rect x="932.2" y="893.3" width="36.0" height="3.6" fill="#0000d4" fill-opacity="0.29"/>
<rect x="1077.4" y="819.4" width="22.6" height="3.6" fill="#0000d6" fill-opacity="0.48"/>
<rect x="446.8" y="902.5" width="22.0" height="3.6" fill="#0000f0" fill-opacity="0.59"/>
<rect x="1458.3" y="722.3" width="21.1" height="3.6" fill="#0000eb" fill-opacity="0.48"/>
<rect x="1099.2" y="842.5" width="39.5" height="3.6" fill="#0000f9" fill-opacity="0.39"/>
<rect x="1740.1" y="763.9" width="30.7" height="3.6" fill="#0000fc" fill-opacity="0.33"/>
<rect x="1642.9" y="911.8" width="12.3" height="3.6" fill="#0000cf" fill-opacity="0.29"/>
<rect x="1682.9" y="694.6" width="15.3" height="3.6" fill="#0000dc" fill-opacity="0.51"/>
<rect x="1214.7" y="934.9" width="32.4" height="3.6" fill="#0000d1" fill-opacity="0.42"/>
<rect x="481.6" y="690.0" width="21.0" height="3.6" fill="#0000dc" fill-opacity="0.42"/>
<rect x="1127.1" y="870.2" width="31.1" height="3.6" fill="#0000de" fill-opacity="0.45"/>
<rect x="1498.1" y="731.6" width="31.4" height="3.6" fill="#0000d5" fill-opacity="0.48"/>
<rect x="1579.7" y="944.1" width="31.4" height="3.6" fill="#0000c6" fill-opacity="0.43"/>
<rect x="490.0" y="810.1" width="22.6" height="3.6" fill="#0000d8" fill-opacity="0.32"/>
<rect x="1270.1" y="897.9" width="9.9" height="3.6" fill="#0000f2" fill-opacity="0.53"/>
<rect x="689.8" y="773.2" width="19.9" height="3.6" fill="#0000df" fill-opacity="0.58"/>
<rect x="458.2" y="717.7" width="26.7" height="3.6" fill="#0000df" fill-opacity="0.26"/>
<rect x="793.9" y="856.3" width="15.6" height="3.6" fill="#0000e3" fill-opacity="0.43"/>
<rect x="523.8" y="727.0" width="16.3" height="3.6" fill="#0000c8" fill-opacity="0.42"/>
<rect x="221.1" y="810.1" width="29.2" height="3.6" fill="#0000ea" fill-opacity="0.55"/>
<rect x="1381.0" y="897.9" width="36.2" height="3.6" fill="#0000d1" fill-opacity="0.54"/>
<rect x="892.4" y="870.2" width="34.5" height="3.6" fill="#0000e5" fill-opacity="0.36"/>
<rect x="1160.4" y="768.5" width="39.4" height="3.6" fill="#0000ea" fill-opacity="0.32"/>
<rect x="1425.4" y="870.2" width="39.9" height="3.6" fill="#0000ea" fill-opacity="0.28"/>
<rect x="1337.6" y="796.3" width="22.1" height="3.6" fill="#0000f5" fill-opacity="0.50"/>
<rect x="1310.5" y="893.3" width="24.5" height="3.6" fill="#0000d8" fill-opacity="0.45"/>
<rect x="1585.7" y="787.0" width="32.1" height="3.6" fill="#0000ee" fill-opacity="0.36"/>
<rect x="900.0" y="860.9" width="10.3" height="3.6" fill="#0000cc" fill-opacity="0.31"/>
<rect x="839.5" y="911.8" width="16.2" height="3.6" fill="#0000cd" fill-opacity="0.51"/>
<rect x="591.9" y="722.3" width="11.5" height="3.6" fill="#0000dc" fill-opacity="0.59"/>
<rect x="1370.1" y="791.6" width="30.3" height="3.6" fill="#0000f2" fill-opacity="0.26"/>
<rect x="1576.1" y="911.8" width="38.0" height="3.6" fill="#0000e3" fill-opacity="0.50"/>
<rect x="1513.2" y="759.3" width="8.0" height="3.6" fill="#0000fb" fill-opacity="0.56"/>
<rect x="728.3" y="754.7" width="30.8" height="3.6" fill="#0000ea" fill-opacity="0.58"/>
<rect x="338.2" y="791.6" width="35.3" height="3.6" fill="#0000d8" fill-opacity="0.57"/>
<rect x="1712.2" y="713.1" width="27.3" height="3.6" fill="#0000e0" fill-opacity="0.37"/>
<rect x="1418.4" y="916.4" width="28.9" height="3.6" fill="#0000f6" fill-opacity="0.41"/>
<rect x="763.0" y="916.4" width="39.8" height="3.6" fill="#0000e8" fill-opacity="0.51"/>
<rect x="1245.6" y="708.5" width="35.8" height="3.6" fill="#0000f7" fill-opacity="0.59"/>
<rect x="399.1" y="893.3" width="15.5" height="3.6" fill="#0000d2" fill-opacity="0.60"/>
<rect x="908.8" y="759.3" width="33.7" height="3.6" fill="#0000d3" fill-opacity="0.31"/>
<rect x="956.1" y="819.4" width="35.8" height="3.6" fill="#0000e3" fill-opacity="0.35"/>
<rect x="1078.6" y="727.0" width="13.9" height="3.6" fill="#0000cb" fill-opacity="0.56"/>
<rect x="1648.9" y="731.6" width="27.8" height="3.6" fill="#0000fb" fill-opacity="0.37"/>
<rect x="200.8" y="953.3" width="26.7" height="3.6" fill="#0000d4" fill-opacity="0.35"/>
<rect x="444.7" y="893.3" width="14.9" height="3.6" fill="#0000d9" fill-opacity="0.33"/>
<rect x="942.9" y="842.5" width="35.6" height="3.6" fill="#0000e8" fill-opacity="0.53"/>
<rect x="151.0" y="796.3" width="20.7" height="3.6" fill="#0000fb" fill-opacity="0.26"/>
<rect x="242.2" y="828.6" width="13.9" height="3.6" fill="#0000f2" fill-opacity="0.54"/>
<rect x="1002.0" y="939.5" width="28.2" height="3.6" fill="#0000f9" fill-opacity="0.51"/>
<rect x="1508.2" y="736.2" width="37.3" height="3.6" fill="#0000f8" fill-opacity="0.27"/>
<rect x="578.3" y="750.1" width="14.6" height="3.6" fill="#0000f6" fill-opacity="0.50"/>
<rect x="1026.2" y="699.2" width="36.0" height="3.6" fill="#0000e0" fill-opacity="0.59"/>
<rect x="347.8" y="893.3" width="30.3" height="3.6" fill="#0000ec" fill-opacity="0.59"/>
<rect x="894.1" y="870.2" width="33.0" height="3.6" fill="#0000e2" fill-opacity="0.57"/>
<rect x="650.7" y="948.7" width="12.0" height="3.6" fill="#0000e7" fill-opacity="0.50"/>
<rect x="1707.8" y="722.3" width="13.1" height="3.6" fill="#0000ec" fill-opacity="0.44"/>
<rect x="1571.2" y="958.0" width="19.7" height="3.6" fill="#0000f6" fill-opacity="0.51"/>
<rect x="1049.4" y="934.9" width="12.0" height="3.6" fill="#0000e5" fill-opacity="0.49"/>
<rect x="490.9" y="819.4" width="36.5" height="3.6" fill="#0000e4" fill-opacity="0.42"/>
<rect x="1276.9" y="944.1" width="36.3" height="3.6" fill="#0000ed" fill-opacity="0.31"/>
<rect x="1430.4" y="944.1" width="24.8" height="3.6" fill="#0000d4" fill-opacity="0.32"/>
<rect x="1079.6" y="930.2" width="37.1" height="3.6" fill="#0000f6" fill-opacity="0.38"/>
<rect x="881.2" y="828.6" width="25.1" height="3.6" fill="#0000f1" fill-opacity="0.32"/>
<rect x="1589.1" y="814.7" width="21.5" height="3.6" fill="#0000da" fill-opacity="0.36"/>
<rect x="1322.4" y="962.6" width="37.6" height="3.6" fill="#0000cf" fill-opacity="0.52"/>
<rect x="1607.4" y="948.7" width="37.1" height="3.6" fill="#0000e9" fill-opacity="0.45"/>
<rect x="1505.2" y="884.0" width="16.3" height="3.6" fill="#0000f8" fill-opacity="0.51"/>
<rect x="1191.6" y="939.5" width="10.0" height="3.6" fill="#0000f4" fill-opacity="0.36"/>
<rect x="172.1" y="851.7" width="14.5" height="3.6" fill="#0000e8" fill-opacity="0.25"/>
<rect x="411.8" y="750.1" width="17.6" height="3.6" fill="#0000c7" fill-opacity="0.30"/>
<rect x="1099.1" y="713.1" width="17.9" height="3.6" fill="#0000c7" fill-opacity="0.55"/>
<rect x="1646.8" y="814.7" width="12.3" height="3.6" fill="#0000e8" fill-opacity="0.32"/>
<rect x="742.4" y="745.4" width="10.6" height="3.6" fill="#0000ea" fill-opacity="0.53"/>
<rect x="1249.9" y="958.0" width="18.7" height="3.6" fill="#0000e0" fill-opacity="0.30"/>
<rect x="633.7" y="713.1" width="19.2" height="3.6" fill="#0000e4" fill-opacity="0.36"/>
<rect x="459.2" y="856.3" width="20.6" height="3.6" fill="#0000e2" fill-opacity="0.32"/>
<rect x="705.5" y="828.6" width="14.7" height="3.6" fill="#0000f0" fill-opacity="0.35"/>
<rect x="1124.2" y="796.3" width="34.9" height="3.6" fill="#0000d3" fill-opacity="0.26"/>
<rect x="350.7" y="805.5" width="38.4" height="3.6" fill="#0000f0" fill-opacity="0.58"/>
<rect x="751.1" y="810.1" width="10.4" height="3.6" fill="#0000f0" fill-opacity="0.43"/>
<rect x="935.4" y="962.6" width="21.7" height="3.6" fill="#0000ee" fill-opacity="0.50"/>
<rect x="912.7" y="727.0" width="16.2" height="3.6" fill="#0000f1" fill-opacity="0.41"/>
<rect x="1069.1" y="856.3" width="10.5" height="3.6" fill="#0000dd" fill-opacity="0.36"/>
<rect x="650.6" y="856.3" width="38.3" height="3.6" fill="#0000e4" fill-opacity="0.59"/>
<rect x="845.6" y="694.6" width="38.5" height="3.6" fill="#0000e9" fill-opacity="0.54"/>
<rect x="875.8" y="911.8" width="25.8" height="3.6" fill="#0000f2" fill-opacity="0.46"/>
<rect x="125.2" y="782.4" width="32.0" height="3.6" fill="#0000e4" fill-opacity="0.47"/>
<rect x="1117.8" y="722.3" width="33.8" height="3.6" fill="#0000cc" fill-opacity="0.46"/>
<rect x="563.2" y="870.2" width="31.0" height="3.6" fill="#0000ea" fill-opacity="0.35"/>
<rect x="937.7" y="953.3" width="13.0" height="3.6" fill="#0000fa" fill-opacity="0.52"/>
<rect x="1243.9" y="740.8" width="26.6" height="3.6" fill="#0000ea" fill-opacity="0.28"/>
<rect x="617.4" y="851.7" width="16.4" height="3.6" fill="#0000f6" fill-opacity="0.25"/>
<rect x="1244.7" y="810.1" width="38.7" height="3.6" fill="#0000d0" fill-opacity="0.33"/>
<rect x="1376.4" y="897.9" width="34.7" height="3.6" fill="#0000eb" fill-opacity="0.34"/>
<rect x="1411.8" y="916.4" width="14.7" height="3.6" fill="#0000d9" fill-opacity="0.25"/>
<rect x="1721.6" y="745.4" width="9.1" height="3.6" fill="#0000cd" fill-opacity="0.32"/>
<rect x="372.7" y="851.7" width="34.5" height="3.6" fill="#0000f1" fill-opacity="0.44"/>
<rect x="1140.6" y="731.6" width="8.4" height="3.6" fill="#0000f9" fill-opacity="0.29"/>
<rect x="753.3" y="703.9" width="19.4" height="3.6" fill="#0000ed" fill-opacity="0.55"/>
<rect x="958.3" y="810.1" width="18.4" height="3.6" fill="#0000e8" fill-opacity="0.41"/>
<rect x="1164.2" y="842.5" width="13.0" height="3.6" fill="#0000f2" fill-opacity="0.49"/>
<rect x="1740.8" y="740.8" width="23.2" height="3.6" fill="#0000df" fill-opacity="0.43"/>
<rect x="1295.3" y="856.3" width="11.1" height="3.6" fill="#0000cf" fill-opacity="0.31"/>
<rect x="1476.6" y="911.8" width="39.4" height="3.6" fill="#0000ec" fill-opacity="0.51"/>
<rect x="1285.1" y="814.7" width="29.6" height="3.6" fill="#0000f6" fill-opacity="0.41"/>
<rect x="200.9" y="907.1" width="21.7" height="3.6" fill="#0000d7" fill-opacity="0.36"/>
<rect x="1285.0" y="833.2" width="18.8" height="3.6" fill="#0000f6" fill-opacity="0.59"/>
<rect x="1288.7" y="777.8" width="10.3" height="3.6" fill="#0000cf" fill-opacity="0.44"/>
<rect x="1749.1" y="939.5" width="39.9" height="3.6" fill="#0000d6" fill-opacity="0.29"/>
<rect x="1656.9" y="897.9" width="19.4" height="3.6" fill="#0000d9" fill-opacity="0.34"/>
<rect x="924.3" y="948.7" width="37.7" height="3.6" fill="#0000df" fill-opacity="0.34"/>
<rect x="415.3" y="953.3" width="27.5" height="3.6" fill="#0000d0" fill-opacity="0.56"/>
<rect x="462.0" y="888.7" width="22.0" height="3.6" fill="#0000d9" fill-opacity="0.41"/>
<rect x="1348.9" y="824.0" width="34.2" height="3.6" fill="#0000de" fill-opacity="0.28"/>
<rect x="679.6" y="754.7" width="37.2" height="3.6" fill="#0000f0" fill-opacity="0.58"/>
<rect x="1329.3" y="713.1" width="23.3" height="3.6" fill="#0000d3" fill-opacity="0.48"/>
<rect x="716.1" y="962.6" width="39.7" height="3.6" fill="#0000e6" fill-opacity="0.53"/>
<rect x="1662.5" y="930.2" width="15.2" height="3.6" fill="#0000e3" fill-opacity="0.41"/>
<rect x="770.9" y="727.0" width="11.5" height="3.6" fill="#0000df" fill-opacity="0.53"/>
<rect x="979.5" y="930.2" width="20.2" height="3.6" fill="#0000ee" fill-opacity="0.60"/>
<rect x="556.5" y="819.4" width="28.6" height="3.6" fill="#0000f4" fill-opacity="0.40"/>
<rect x="1407.6" y="828.6" width="21.5" height="3.6" fill="#0000ce" fill-opacity="0.26"/>
<rect x="1649.0" y="703.9" width="12.5" height="3.6" fill="#0000d8" fill-opacity="0.28"/>
<rect x="1423.2" y="847.1" width="37.5" height="3.6" fill="#0000e4" fill-opacity="0.28"/>
<rect x="1482.2" y="925.6" width="18.6" height="3.6" fill="#0000d5" fill-opacity="0.37"/>
</g>
<g filter="url(#soft2)">
<path d="M144.7 745.4 L151.5 709.9 L157.4 670.9 L163.4 638.7 L175.0 633.5 L200.0 633.0 L222.0 634.5 L239.6 637.0 L253.1 645.5 L273.5 646.3 L290.4 642.1 L307.3 637.0 L332.8 638.7 L349.7 644.6 L366.6 651.4 L385.3 647.2 L398.8 637.0 L409.0 637.9 L425.9 643.8 L442.9 652.0 L476.8 654.0 L500.5 645.6 L537.8 640.5 L561.5 647.3 L588.6 657.4 L622.5 650.7 L649.6 660.8 L680.1 672.7 L703.8 676.1 L731.0 664.2 L747.9 650.7 L764.9 637.1 L800.0 646.0 L840.0 660.0 L880.0 672.0 L905.0 668.0 L935.0 662.0 L960.0 668.0 L1000.0 684.0 L1040.0 700.0 L1080.0 712.0" stroke="#0000e4" stroke-opacity="0.56" stroke-width="2.8" fill="none" stroke-linejoin="round"/>
<path d="M166.7 743.7 L171.8 716.6 L176.9 679.4 L183.7 669.5 L192.2 657.4 L202.3 651.4 L215.9 652.3 L226.0 655.7 L236.2 664.1 L246.4 674.3 L256.5 684.5 L266.7 689.5 L283.6 682.8 L297.2 677.7 L315.8 671.8 L332.8 674.3 L346.3 677.7 L361.6 687.8 L375.1 689.5 L392.1 679.4 L409.0 675.1 L425.9 679.4 L442.9 687.8 L459.8 698.0 L476.0 700.0 L500.0 690.0 L540.0 682.0 L575.0 690.0 L600.0 702.0 L640.0 700.0 L670.0 708.0 L700.0 718.0 L730.0 713.0 L760.0 690.0 L790.0 672.0 L820.0 668.0 L850.0 676.0 L890.0 694.0 L930.0 700.0 L960.0 694.0 L990.0 702.0 L1030.0 722.0 L1070.0 740.0 L1100.0 752.0" stroke="#0000ea" stroke-opacity="0.60" stroke-width="3.0" fill="none" stroke-linejoin="round"/>
<path d="M183.7 709.5 L192.2 697.4 L202.3 691.4 L215.9 692.3 L226.0 695.7 L236.2 704.1 L246.4 714.3 L256.5 724.5 L266.7 729.5 L283.6 722.8 L297.2 717.7 L315.8 711.8 L332.8 714.3 L346.3 717.7 L361.6 727.8 L375.1 729.5 L392.1 719.4 L409.0 715.1 L425.9 719.4 L442.9 727.8 L459.8 738.0 L476.0 740.0 L500.0 730.0 L540.0 722.0 L575.0 730.0 L600.0 742.0 L640.0 740.0 L670.0 748.0 L700.0 758.0 L730.0 753.0 L760.0 730.0 L790.0 712.0 L820.0 708.0 L850.0 716.0 L890.0 734.0 L930.0 740.0 L960.0 734.0 L990.0 742.0 L1030.0 762.0 L1070.0 780.0 L1100.0 792.0" stroke="#0000de" stroke-opacity="0.48" stroke-width="2.8" fill="none" stroke-linejoin="round"/>
<path d="M183.7 748.5 L192.2 736.4 L202.3 730.4 L215.9 731.3 L226.0 734.7 L236.2 743.1 L246.4 753.3 L256.5 763.5 L266.7 768.5 L283.6 761.8 L297.2 756.7 L315.8 750.8 L332.8 753.3 L346.3 756.7 L361.6 766.8 L375.1 768.5 L392.1 758.4 L409.0 754.1 L425.9 758.4 L442.9 766.8 L459.8 777.0 L476.0 779.0 L500.0 769.0 L540.0 761.0 L575.0 769.0 L600.0 781.0 L640.0 779.0 L670.0 787.0 L700.0 797.0 L730.0 792.0 L760.0 769.0 L790.0 751.0 L820.0 747.0 L850.0 755.0 L890.0 773.0 L930.0 779.0 L960.0 773.0 L990.0 781.0 L1030.0 801.0 L1070.0 819.0 L1100.0 831.0" stroke="#0000e4" stroke-opacity="0.48" stroke-width="2.8" fill="none" stroke-linejoin="round"/>
<path d="M239.6 689.0 L253.1 697.5 L273.5 698.3 L290.4 694.1 L307.3 689.0 L332.8 690.7 L349.7 696.6 L366.6 703.4 L385.3 699.2 L398.8 689.0 L409.0 689.9 L425.9 695.8 L442.9 704.0 L476.8 706.0 L500.5 697.6 L537.8 692.5 L561.5 699.3 L588.6 709.4 L622.5 702.7 L649.6 712.8 L680.1 724.7 L703.8 728.1 L731.0 716.2 L747.9 702.7 L764.9 689.1 L800.0 698.0 L840.0 712.0 L880.0 724.0 L905.0 720.0 L935.0 714.0 L960.0 720.0 L1000.0 736.0 L1040.0 752.0 L1080.0 764.0" stroke="#0000d8" stroke-opacity="0.30" stroke-width="2.8" fill="none" stroke-linejoin="round"/>
<path d="M202.3 769.4 L215.9 770.3 L226.0 773.7 L236.2 782.1 L246.4 792.3 L256.5 802.5 L266.7 807.5 L283.6 800.8 L297.2 795.7 L315.8 789.8 L332.8 792.3 L346.3 795.7 L361.6 805.8 L375.1 807.5 L392.1 797.4 L409.0 793.1 L425.9 797.4 L442.9 805.8 L459.8 816.0 L476.0 818.0 L500.0 808.0 L540.0 800.0 L575.0 808.0 L600.0 820.0 L640.0 818.0 L670.0 826.0 L700.0 836.0 L730.0 831.0 L760.0 808.0 L790.0 790.0 L820.0 786.0 L850.0 794.0 L890.0 812.0 L930.0 818.0 L960.0 812.0 L990.0 820.0 L1030.0 840.0 L1070.0 858.0 L1100.0 870.0" stroke="#0000d2" stroke-opacity="0.26" stroke-width="2.8" fill="none" stroke-linejoin="round"/>
<path d="M121.0 647.2 L136.2 640.4 L146.4 630.2" stroke="#0000d8" stroke-opacity="0.36" stroke-width="2.6" fill="none" stroke-linejoin="round"/>
<path d="M121.0 700.0 L128.0 684.0 L136.0 668.0 L143.0 655.0" stroke="#0000d2" stroke-opacity="0.28" stroke-width="2.6" fill="none" stroke-linejoin="round"/>
<path d="M880.0 626.0 L936.1 644.0 L988.7 662.0 L1036.8 680.0 L1083.1 698.0 L1131.3 716.0 L1183.9 734.0 L1240.1 752.0 L1296.2 770.0" stroke="#0000de" stroke-opacity="0.44" stroke-width="2.4" fill="none" stroke-linejoin="round"/>
<path d="M912.0 626.0 L962.9 644.0 L1009.4 662.0 L1054.3 680.0 L1101.7 698.0 L1153.6 716.0 L1208.7 734.0 L1263.3 752.0 L1314.0 770.0" stroke="#0000de" stroke-opacity="0.34" stroke-width="2.4" fill="none" stroke-linejoin="round"/>
<path d="M939.5 626.0 L981.3 644.0 L1022.0 662.0 L1065.6 680.0 L1113.7 698.0 L1164.6 716.0 L1214.6 734.0 L1260.4 752.0 L1302.2 770.0" stroke="#0000de" stroke-opacity="0.44" stroke-width="2.4" fill="none" stroke-linejoin="round"/>
<path d="M961.8 626.0 L999.1 644.0 L1039.5 662.0 L1084.4 680.0 L1131.8 698.0 L1177.8 716.0 L1219.5 734.0 L1257.3 752.0 L1294.6 770.0" stroke="#0000de" stroke-opacity="0.34" stroke-width="2.4" fill="none" stroke-linejoin="round"/>
<path d="M983.5 626.0 L1021.2 644.0 L1063.5 662.0 L1107.8 680.0 L1150.3 698.0 L1188.4 716.0 L1222.9 734.0 L1257.3 752.0 L1295.2 770.0" stroke="#0000de" stroke-opacity="0.44" stroke-width="2.4" fill="none" stroke-linejoin="round"/>
<path d="M1009.2 626.0 L1049.2 644.0 L1090.9 662.0 L1130.3 680.0 L1165.2 698.0 L1196.8 716.0 L1228.8 734.0 L1264.5 752.0 L1304.5 770.0" stroke="#0000de" stroke-opacity="0.34" stroke-width="2.4" fill="none" stroke-linejoin="round"/>
<path d="M1040.3 626.0 L1079.6 644.0 L1116.2 662.0 L1148.3 680.0 L1177.4 698.0 L1207.3 716.0 L1241.2 734.0 L1279.3 752.0 L1318.5 770.0" stroke="#0000de" stroke-opacity="0.44" stroke-width="2.4" fill="none" stroke-linejoin="round"/>
<path d="M1072.9 626.0 L1107.1 644.0 L1136.7 662.0 L1163.6 680.0 L1191.7 698.0 L1224.1 716.0 L1260.4 734.0 L1297.5 752.0 L1331.6 770.0" stroke="#0000de" stroke-opacity="0.34" stroke-width="2.4" fill="none" stroke-linejoin="round"/>
<path d="M1101.9 626.0 L1129.3 644.0 L1154.3 662.0 L1181.0 680.0 L1212.1 698.0 L1246.9 716.0 L1282.0 734.0 L1313.7 752.0 L1340.9 770.0" stroke="#0000de" stroke-opacity="0.44" stroke-width="2.4" fill="none" stroke-linejoin="round"/>
<path d="M1125.5 626.0 L1148.9 644.0 L1174.4 662.0 L1204.3 680.0 L1237.7 698.0 L1271.0 716.0 L1300.6 734.0 L1325.8 752.0 L1349.2 770.0" stroke="#0000de" stroke-opacity="0.34" stroke-width="2.4" fill="none" stroke-linejoin="round"/>
<path d="M1146.7 626.0 L1171.2 644.0 L1200.2 662.0 L1232.3 680.0 L1263.8 698.0 L1291.5 716.0 L1314.8 734.0 L1336.8 752.0 L1361.4 770.0" stroke="#0000de" stroke-opacity="0.44" stroke-width="2.4" fill="none" stroke-linejoin="round"/>
<path d="M1171.0 626.0 L1199.1 644.0 L1230.1 662.0 L1260.0 680.0 L1285.8 698.0 L1307.5 716.0 L1328.3 734.0 L1352.0 752.0 L1380.2 770.0" stroke="#0000de" stroke-opacity="0.34" stroke-width="2.4" fill="none" stroke-linejoin="round"/>
<path d="M1200.8 626.0 L1230.6 644.0 L1259.0 662.0 L1283.0 680.0 L1303.3 698.0 L1323.0 716.0 L1346.0 734.0 L1373.5 752.0 L1403.3 770.0" stroke="#0000de" stroke-opacity="0.44" stroke-width="2.4" fill="none" stroke-linejoin="round"/>
<path d="M1233.5 626.0 L1260.4 644.0 L1282.9 662.0 L1301.8 680.0 L1320.6 698.0 L1343.0 716.0 L1369.8 734.0 L1398.6 752.0 L1425.4 770.0" stroke="#0000de" stroke-opacity="0.34" stroke-width="2.4" fill="none" stroke-linejoin="round"/>
<path d="M1263.9 626.0 L1284.9 644.0 L1302.6 662.0 L1320.7 680.0 L1342.6 698.0 L1368.8 716.0 L1396.6 734.0 L1422.0 752.0 L1442.8 770.0" stroke="#0000de" stroke-opacity="0.44" stroke-width="2.4" fill="none" stroke-linejoin="round"/>
<path d="M1288.9 626.0 L1305.5 644.0 L1323.0 662.0 L1344.5 680.0 L1370.1 698.0 L1396.9 716.0 L1420.9 734.0 L1440.4 752.0 L1457.0 770.0" stroke="#0000de" stroke-opacity="0.34" stroke-width="2.4" fill="none" stroke-linejoin="round"/>
<path d="M1310.3 626.0 L1327.6 644.0 L1349.1 662.0 L1374.6 680.0 L1400.8 698.0 L1423.9 716.0 L1442.4 734.0 L1458.4 752.0 L1475.8 770.0" stroke="#0000de" stroke-opacity="0.44" stroke-width="2.4" fill="none" stroke-linejoin="round"/>
<path d="M1333.2 626.0 L1355.3 644.0 L1381.1 662.0 L1407.0 680.0 L1429.6 698.0 L1447.7 716.0 L1463.7 734.0 L1481.4 752.0 L1503.6 770.0" stroke="#0000de" stroke-opacity="0.34" stroke-width="2.4" fill="none" stroke-linejoin="round"/>
<path d="M1361.5 626.0 L1387.5 644.0 L1413.2 662.0 L1435.3 680.0 L1453.0 698.0 L1469.0 716.0 L1487.1 734.0 L1509.8 752.0 L1535.8 770.0" stroke="#0000de" stroke-opacity="0.44" stroke-width="2.4" fill="none" stroke-linejoin="round"/>
<path d="M1393.9 626.0 L1419.4 644.0 L1440.9 662.0 L1458.3 680.0 L1474.3 698.0 L1492.9 716.0 L1516.0 734.0 L1542.2 752.0 L1567.7 770.0" stroke="#0000de" stroke-opacity="0.34" stroke-width="2.4" fill="none" stroke-linejoin="round"/>
<path d="M1425.5 626.0 L1446.5 644.0 L1463.5 662.0 L1479.6 680.0 L1498.7 698.0 L1522.3 716.0 L1548.6 734.0 L1573.8 752.0 L1594.7 770.0" stroke="#0000de" stroke-opacity="0.44" stroke-width="2.4" fill="none" stroke-linejoin="round"/>
<path d="M1452.0 626.0 L1468.7 644.0 L1485.0 662.0 L1504.6 680.0 L1528.7 698.0 L1555.0 716.0 L1579.8 734.0 L1600.2 752.0 L1616.9 770.0" stroke="#0000de" stroke-opacity="0.34" stroke-width="2.4" fill="none" stroke-linejoin="round"/>
<path d="M1473.9 626.0 L1490.4 644.0 L1510.5 662.0 L1535.0 680.0 L1561.4 698.0 L1585.8 716.0 L1605.7 734.0 L1622.1 752.0 L1638.6 770.0" stroke="#0000de" stroke-opacity="0.44" stroke-width="2.4" fill="none" stroke-linejoin="round"/>
<path d="M1495.9 626.0 L1516.5 644.0 L1541.4 662.0 L1567.8 680.0 L1591.7 698.0 L1611.1 716.0 L1627.3 734.0 L1644.1 752.0 L1664.8 770.0" stroke="#0000de" stroke-opacity="0.34" stroke-width="2.4" fill="none" stroke-linejoin="round"/>
<path d="M1522.6 626.0 L1547.8 644.0 L1574.1 662.0 L1597.5 680.0 L1616.5 698.0 L1632.5 716.0 L1649.6 734.0 L1670.8 752.0 L1696.1 770.0" stroke="#0000de" stroke-opacity="0.44" stroke-width="2.4" fill="none" stroke-linejoin="round"/>
<path d="M1554.2 626.0 L1580.3 644.0 L1603.3 662.0 L1621.8 680.0 L1637.8 698.0 L1655.2 716.0 L1677.0 734.0 L1702.5 752.0 L1728.6 770.0" stroke="#0000de" stroke-opacity="0.34" stroke-width="2.4" fill="none" stroke-linejoin="round"/>
<path d="M1586.6 626.0 L1609.1 644.0 L1627.1 662.0 L1643.1 680.0 L1660.9 698.0 L1683.1 716.0 L1709.0 734.0 L1734.9 752.0 L1757.3 770.0" stroke="#0000de" stroke-opacity="0.44" stroke-width="2.4" fill="none" stroke-linejoin="round"/>
<path d="M1614.7 626.0 L1632.4 644.0 L1648.3 662.0 L1666.6 680.0 L1689.3 698.0 L1715.4 716.0 L1741.1 734.0 L1762.9 752.0 L1780.5 770.0" stroke="#0000de" stroke-opacity="0.34" stroke-width="2.4" fill="none" stroke-linejoin="round"/>
<path d="M1637.6 626.0 L1653.7 644.0 L1672.4 662.0 L1695.6 680.0 L1721.8 698.0 L1747.2 716.0 L1768.6 734.0 L1785.8 752.0 L1801.8 770.0" stroke="#0000de" stroke-opacity="0.44" stroke-width="2.4" fill="none" stroke-linejoin="round"/>
<path d="M1659.0 626.0 L1678.2 644.0 L1701.9 662.0 L1728.2 680.0 L1753.3 698.0 L1774.1 716.0 L1791.0 734.0 L1807.2 752.0 L1826.4 770.0" stroke="#0000de" stroke-opacity="0.34" stroke-width="2.4" fill="none" stroke-linejoin="round"/>
<path d="M1684.1 626.0 L1708.2 644.0 L1734.6 662.0 L1759.3 680.0 L1779.6 698.0 L1796.2 716.0 L1812.6 734.0 L1832.3 752.0 L1856.5 770.0" stroke="#0000de" stroke-opacity="0.44" stroke-width="2.4" fill="none" stroke-linejoin="round"/>
</g>
<rect x="120.5" y="176.5" width="1676.0" height="7.0" fill="url(#g8)"/>
<rect x="120.5" y="177.20" width="1676.0" height="5.60" fill="url(#dr1800)"/>
<rect x="120.5" y="190.40" width="1676.0" height="4.60" fill="url(#dr1927)"/>
<rect x="120.5" y="376.70" width="1676.0" height="4.60" fill="url(#dr3790)"/>
<rect x="120.5" y="590.20" width="1676.0" height="4.60" fill="url(#dr5925)"/>
<rect x="120.5" y="930.5" width="1676.0" height="7.5" fill="url(#g9)"/>
<rect x="120.5" y="931.90" width="1676.0" height="4.80" fill="url(#dr9343)"/>
<rect x="120.5" y="789.80" width="1676.0" height="4.40" fill="url(#dr7920)"/>
<rect x="120.5" y="850.30" width="1676.0" height="4.40" fill="url(#dr8525)"/>
<rect x="120.5" y="855.00" width="1676.0" height="4.40" fill="url(#dr8572)"/>
<rect x="120.5" y="867.80" width="1676.0" height="4.40" fill="url(#dr8700)"/>
<rect x="120.5" y="876.30" width="1676.0" height="4.40" fill="url(#dr8785)"/>
<rect x="120.5" y="891.30" width="1676.0" height="4.40" fill="url(#dr8935)"/>
<rect x="120.5" y="902.80" width="1676.0" height="4.40" fill="url(#dr9050)"/>
<rect x="120.5" y="916.80" width="1676.0" height="4.40" fill="url(#dr9190)"/>
<rect x="120.5" y="205.0" width="1676.0" height="32.5" fill="url(#g10)"/>
<rect x="120.5" y="205.5" width="1676.0" height="32" fill="url(#comb)"/>
<rect x="120.5" y="254.6" width="1676.0" height="6.0" fill="url(#g11)"/>
<rect x="121.0" y="355.6" width="151.0" height="7.4" fill="url(#g12)" fill-opacity="0.80"/>
<rect x="150.0" y="355.6" width="65.0" height="7.4" fill="url(#g13)" fill-opacity="0.50"/>
<rect x="272.0" y="355.6" width="11.0" height="7.4" fill="url(#g14)" fill-opacity="0.50"/>
<rect x="283.0" y="355.6" width="71.0" height="7.4" fill="url(#g15)" fill-opacity="0.70"/>
<rect x="354.0" y="355.6" width="41.0" height="7.4" fill="url(#g16)" fill-opacity="0.50"/>
<rect x="395.0" y="355.6" width="25.0" height="7.4" fill="url(#g17)" fill-opacity="0.60"/>
<rect x="435.0" y="355.6" width="46.5" height="7.4" fill="url(#g15)" fill-opacity="0.70"/>
<rect x="481.5" y="355.6" width="58.5" height="7.4" fill="url(#g16)" fill-opacity="0.40"/>
<rect x="700.0" y="357.0" width="1096.5" height="5.0" fill="url(#g18)"/>
<rect x="120.5" y="283.5" width="1676.0" height="10.5" fill="url(#g19)"/>
<rect x="120.5" y="439.3" width="1676.0" height="6.5" fill="url(#g20)"/>
<rect x="120.5" y="467.4" width="1676.0" height="13.4" fill="url(#g21)"/>
<rect x="120.5" y="522.2" width="1676.0" height="11.8" fill="url(#g22)"/>
<g mask="url(#m76)">
<rect x="120.0" y="742.0" width="520.0" height="22.0" fill="url(#g23)"/>
</g>
<rect x="120.5" y="940.5" width="1676.0" height="13.0" fill="url(#g24)"/>
<g filter="url(#softx)">
<rect x="164.9" y="276.5" width="8.1" height="19.3" fill="url(#g25)"/>
<rect x="164.9" y="249.0" width="8.1" height="12.2" fill="url(#g26)"/>
<rect x="164.8" y="966.8" width="8.2" height="9.7" fill="url(#g27)"/>
<rect x="276.5" y="276.5" width="8.1" height="19.3" fill="url(#g25)"/>
<rect x="276.5" y="249.0" width="8.1" height="12.2" fill="url(#g26)"/>
<rect x="276.4" y="966.8" width="8.2" height="9.7" fill="url(#g27)"/>
<rect x="388.0" y="276.5" width="8.1" height="19.3" fill="url(#g25)"/>
<rect x="388.0" y="249.0" width="8.1" height="12.2" fill="url(#g26)"/>
<rect x="388.0" y="966.8" width="8.2" height="9.7" fill="url(#g27)"/>
<rect x="499.6" y="276.5" width="8.1" height="19.3" fill="url(#g25)"/>
<rect x="499.6" y="249.0" width="8.1" height="12.2" fill="url(#g26)"/>
<rect x="499.6" y="966.8" width="8.2" height="9.7" fill="url(#g27)"/>
<rect x="611.2" y="276.5" width="8.1" height="19.3" fill="url(#g25)"/>
<rect x="611.2" y="249.0" width="8.1" height="12.2" fill="url(#g26)"/>
<rect x="611.1" y="966.8" width="8.2" height="9.7" fill="url(#g27)"/>
<rect x="722.8" y="276.5" width="8.1" height="19.3" fill="url(#g25)"/>
<rect x="722.8" y="249.0" width="8.1" height="12.2" fill="url(#g26)"/>
<rect x="722.7" y="966.8" width="8.2" height="9.7" fill="url(#g27)"/>
<rect x="834.3" y="276.5" width="8.1" height="19.3" fill="url(#g25)"/>
<rect x="834.3" y="249.0" width="8.1" height="12.2" fill="url(#g26)"/>
<rect x="834.3" y="966.8" width="8.2" height="9.7" fill="url(#g27)"/>
<rect x="945.9" y="276.5" width="8.1" height="19.3" fill="url(#g25)"/>
<rect x="945.9" y="249.0" width="8.1" height="12.2" fill="url(#g26)"/>
<rect x="945.8" y="966.8" width="8.2" height="9.7" fill="url(#g27)"/>
<rect x="1057.5" y="276.5" width="8.1" height="19.3" fill="url(#g25)"/>
<rect x="1057.5" y="249.0" width="8.1" height="12.2" fill="url(#g26)"/>
<rect x="1057.4" y="966.8" width="8.2" height="9.7" fill="url(#g27)"/>
<rect x="1169.0" y="276.5" width="8.1" height="19.3" fill="url(#g25)"/>
<rect x="1169.0" y="249.0" width="8.1" height="12.2" fill="url(#g26)"/>
<rect x="1169.0" y="966.8" width="8.2" height="9.7" fill="url(#g27)"/>
<rect x="1280.6" y="276.5" width="8.1" height="19.3" fill="url(#g25)"/>
<rect x="1280.6" y="249.0" width="8.1" height="12.2" fill="url(#g26)"/>
<rect x="1280.5" y="966.8" width="8.2" height="9.7" fill="url(#g27)"/>
<rect x="1392.2" y="276.5" width="8.1" height="19.3" fill="url(#g25)"/>
<rect x="1392.2" y="249.0" width="8.1" height="12.2" fill="url(#g26)"/>
<rect x="1392.1" y="966.8" width="8.2" height="9.7" fill="url(#g27)"/>
<rect x="1503.7" y="276.5" width="8.1" height="19.3" fill="url(#g25)"/>
<rect x="1503.7" y="249.0" width="8.1" height="12.2" fill="url(#g26)"/>
<rect x="1503.7" y="966.8" width="8.2" height="9.7" fill="url(#g27)"/>
<rect x="1615.3" y="276.5" width="8.1" height="19.3" fill="url(#g25)"/>
<rect x="1615.3" y="249.0" width="8.1" height="12.2" fill="url(#g26)"/>
<rect x="1615.3" y="966.8" width="8.2" height="9.7" fill="url(#g27)"/>
<rect x="1726.9" y="276.5" width="8.1" height="19.3" fill="url(#g25)"/>
<rect x="1726.9" y="249.0" width="8.1" height="12.2" fill="url(#g26)"/>
<rect x="1726.8" y="966.8" width="8.2" height="9.7" fill="url(#g27)"/>
<rect x="976.9" y="278.2" width="17.5" height="16.0" fill="url(#g28)"/>
<rect x="976.9" y="249.5" width="17.5" height="11.1" fill="url(#g29)"/>
<rect x="1000.7" y="278.2" width="6.3" height="21.6" fill="url(#g30)"/>
<rect x="1000.7" y="249.5" width="6.3" height="11.1" fill="url(#g29)"/>
<rect x="1010.1" y="278.2" width="9.9" height="16.0" fill="url(#g28)"/>
<rect x="1010.1" y="249.5" width="9.9" height="11.1" fill="url(#g29)"/>
<rect x="1022.4" y="278.2" width="19.9" height="21.6" fill="url(#g30)"/>
<rect x="1022.4" y="249.5" width="19.9" height="11.1" fill="url(#g29)"/>
<rect x="1045.0" y="278.2" width="8.7" height="16.0" fill="url(#g28)"/>
<rect x="1045.0" y="249.5" width="8.7" height="11.1" fill="url(#g29)"/>
<rect x="1103.1" y="278.2" width="30.2" height="21.6" fill="url(#g30)"/>
<rect x="1103.1" y="249.5" width="30.2" height="11.1" fill="url(#g29)"/>
<rect x="1136.0" y="278.2" width="8.9" height="16.0" fill="url(#g28)"/>
<rect x="1136.0" y="249.5" width="8.9" height="11.1" fill="url(#g29)"/>
<rect x="1688.5" y="278.2" width="12.2" height="21.6" fill="url(#g30)"/>
<rect x="1688.5" y="249.5" width="12.2" height="11.1" fill="url(#g29)"/>
<rect x="555.8" y="201.0" width="10.5" height="21.3" fill="url(#g31)"/>
<rect x="555.8" y="173.5" width="10.5" height="10.7" fill="url(#g32)"/>
<rect x="628.1" y="201.0" width="10.2" height="21.3" fill="url(#g31)"/>
<rect x="628.1" y="173.5" width="10.2" height="10.7" fill="url(#g32)"/>
<rect x="687.3" y="201.0" width="11.6" height="21.3" fill="url(#g31)"/>
<rect x="687.3" y="173.5" width="11.6" height="10.7" fill="url(#g32)"/>
<rect x="772.0" y="201.0" width="25.1" height="21.3" fill="url(#g31)"/>
<rect x="772.0" y="173.5" width="25.1" height="10.7" fill="url(#g32)"/>
<rect x="803.1" y="201.0" width="11.0" height="21.3" fill="url(#g31)"/>
<rect x="803.1" y="173.5" width="11.0" height="10.7" fill="url(#g32)"/>
<rect x="938.2" y="201.0" width="80.2" height="21.3" fill="url(#g31)"/>
<rect x="938.2" y="173.5" width="80.2" height="10.7" fill="url(#g32)"/>
<rect x="1201.9" y="201.0" width="10.9" height="21.3" fill="url(#g31)"/>
<rect x="1201.9" y="173.5" width="10.9" height="10.7" fill="url(#g32)"/>
<rect x="1279.4" y="201.0" width="12.2" height="21.3" fill="url(#g31)"/>
<rect x="1279.4" y="173.5" width="12.2" height="10.7" fill="url(#g32)"/>
<rect x="1787.0" y="201.0" width="10.0" height="21.3" fill="url(#g31)"/>
<rect x="1787.0" y="173.5" width="10.0" height="10.7" fill="url(#g32)"/>
<rect x="704.2" y="214.8" width="10.6" height="7.8" fill="url(#g33)"/>
<rect x="732.8" y="214.8" width="10.1" height="7.8" fill="url(#g34)"/>
<rect x="736.0" y="214.8" width="5.0" height="7.8" fill="url(#g35)"/>
<rect x="750.7" y="214.8" width="9.6" height="7.8" fill="url(#g34)"/>
<rect x="754.0" y="214.8" width="4.0" height="7.8" fill="url(#g36)"/>
<rect x="1271.0" y="214.8" width="7.0" height="7.8" fill="url(#g37)"/>
<rect x="1352.8" y="214.8" width="9.2" height="7.8" fill="url(#g34)"/>
<rect x="123.3" y="434.6" width="4.7" height="11.8" fill="url(#g38)"/>
<rect x="130.0" y="434.6" width="5.0" height="11.8" fill="url(#g38)"/>
<rect x="140.4" y="434.6" width="10.6" height="11.8" fill="url(#g39)"/>
<rect x="154.8" y="434.6" width="10.0" height="11.8" fill="url(#g39)"/>
<rect x="176.3" y="434.6" width="7.0" height="11.8" fill="url(#g38)"/>
<rect x="262.4" y="434.6" width="12.6" height="11.8" fill="url(#g40)"/>
<rect x="297.8" y="434.6" width="14.6" height="11.8" fill="url(#g41)"/>
<rect x="316.9" y="434.6" width="5.1" height="11.8" fill="url(#g38)"/>
<rect x="330.4" y="434.6" width="4.5" height="11.8" fill="url(#g42)"/>
<rect x="341.6" y="434.6" width="2.3" height="11.8" fill="url(#g38)"/>
<rect x="346.7" y="434.6" width="12.9" height="11.8" fill="url(#g43)"/>
<rect x="362.8" y="434.6" width="37.9" height="11.8" fill="url(#g44)"/>
<rect x="405.2" y="434.6" width="5.0" height="11.8" fill="url(#g42)"/>
<rect x="429.8" y="434.6" width="2.1" height="11.8" fill="url(#g45)"/>
<rect x="486.0" y="434.6" width="3.1" height="11.8" fill="url(#g45)"/>
<rect x="626.9" y="434.6" width="3.8" height="11.8" fill="url(#g45)"/>
<rect x="632.1" y="434.6" width="4.7" height="11.8" fill="url(#g45)"/>
<rect x="638.9" y="434.6" width="1.3" height="11.8" fill="url(#g46)"/>
<rect x="645.0" y="434.6" width="7.8" height="11.8" fill="url(#g47)"/>
<rect x="654.9" y="434.6" width="8.4" height="11.8" fill="url(#g47)"/>
<rect x="664.6" y="434.6" width="4.5" height="11.8" fill="url(#g48)"/>
<rect x="904.2" y="434.6" width="10.9" height="11.8" fill="url(#g49)"/>
<rect x="928.2" y="434.6" width="22.1" height="11.8" fill="url(#g39)"/>
<rect x="934.0" y="434.6" width="7.0" height="11.8" fill="url(#g50)"/>
<rect x="995.2" y="434.6" width="14.7" height="11.8" fill="url(#g51)"/>
<rect x="1002.0" y="434.6" width="4.0" height="11.8" fill="url(#g52)"/>
<rect x="1017.1" y="434.6" width="5.9" height="11.8" fill="url(#g53)"/>
<rect x="1023.8" y="434.6" width="6.2" height="11.8" fill="url(#g38)"/>
<rect x="1032.0" y="434.6" width="5.7" height="11.8" fill="url(#g38)"/>
<rect x="1045.1" y="434.6" width="12.7" height="11.8" fill="url(#g44)"/>
<rect x="1060.9" y="434.6" width="5.4" height="11.8" fill="url(#g38)"/>
<rect x="1076.4" y="434.6" width="6.2" height="11.8" fill="url(#g38)"/>
<rect x="1115.5" y="434.6" width="4.7" height="11.8" fill="url(#g38)"/>
<rect x="1124.0" y="434.6" width="3.9" height="11.8" fill="url(#g38)"/>
<rect x="1130.7" y="434.6" width="1.4" height="11.8" fill="url(#g45)"/>
<rect x="1139.2" y="434.6" width="1.8" height="11.8" fill="url(#g49)"/>
<rect x="1144.4" y="434.6" width="2.4" height="11.8" fill="url(#g49)"/>
<rect x="1159.9" y="434.6" width="5.1" height="11.8" fill="url(#g39)"/>
<rect x="1166.1" y="434.6" width="1.5" height="11.8" fill="url(#g45)"/>
<rect x="1293.1" y="434.6" width="7.8" height="11.8" fill="url(#g54)"/>
<rect x="1302.0" y="434.6" width="7.1" height="11.8" fill="url(#g39)"/>
<rect x="1310.9" y="434.6" width="7.0" height="11.8" fill="url(#g54)"/>
<rect x="1319.0" y="434.6" width="5.9" height="11.8" fill="url(#g39)"/>
<rect x="1326.1" y="434.6" width="4.2" height="11.8" fill="url(#g38)"/>
<rect x="1334.1" y="434.6" width="23.5" height="11.8" fill="url(#g55)"/>
<rect x="1358.9" y="434.6" width="6.2" height="11.8" fill="url(#g56)"/>
<rect x="1369.4" y="434.6" width="9.3" height="11.8" fill="url(#g57)"/>
<rect x="1380.1" y="434.6" width="7.4" height="11.8" fill="url(#g54)"/>
<rect x="1394.2" y="434.6" width="15.0" height="11.8" fill="url(#g54)"/>
<rect x="1409.9" y="434.6" width="10.1" height="11.8" fill="url(#g54)"/>
<rect x="1421.1" y="434.6" width="7.1" height="11.8" fill="url(#g39)"/>
<rect x="1433.1" y="434.6" width="7.0" height="11.8" fill="url(#g39)"/>
<rect x="1441.6" y="434.6" width="7.8" height="11.8" fill="url(#g39)"/>
<rect x="1467.9" y="434.6" width="9.3" height="11.8" fill="url(#g39)"/>
<rect x="1480.0" y="434.6" width="8.3" height="11.8" fill="url(#g38)"/>
<rect x="1494.7" y="434.6" width="5.0" height="11.8" fill="url(#g38)"/>
<rect x="1521.8" y="434.6" width="5.7" height="11.8" fill="url(#g58)"/>
<rect x="1540.4" y="434.6" width="16.2" height="11.8" fill="url(#g40)"/>
<rect x="1560.2" y="434.6" width="21.9" height="11.8" fill="url(#g53)"/>
<rect x="1585.2" y="434.6" width="16.3" height="11.8" fill="url(#g40)"/>
<rect x="1605.3" y="434.6" width="17.1" height="11.8" fill="url(#g53)"/>
<rect x="1645.3" y="434.6" width="4.6" height="11.8" fill="url(#g59)"/>
<rect x="1657.2" y="434.6" width="8.0" height="11.8" fill="url(#g39)"/>
<rect x="411.3" y="444.6" width="13.0" height="5.6" fill="url(#g60)"/>
<rect x="780.6" y="444.6" width="25.8" height="5.6" fill="url(#g61)"/>
<rect x="934.0" y="444.6" width="7.0" height="5.6" fill="url(#g62)"/>
<rect x="123.3" y="462.5" width="4.7" height="19.0" fill="url(#g63)"/>
<rect x="130.0" y="462.5" width="5.0" height="19.0" fill="url(#g63)"/>
<rect x="140.4" y="462.5" width="10.6" height="19.0" fill="url(#g63)"/>
<rect x="154.8" y="462.5" width="10.0" height="19.0" fill="url(#g63)"/>
<rect x="176.3" y="462.5" width="7.0" height="19.0" fill="url(#g63)"/>
<rect x="316.9" y="462.5" width="5.7" height="19.0" fill="url(#g63)"/>
<rect x="309.5" y="462.5" width="6.0" height="19.0" fill="url(#g63)"/>
<rect x="429.8" y="462.5" width="2.1" height="19.0" fill="url(#g63)"/>
<rect x="486.0" y="462.5" width="3.1" height="19.0" fill="url(#g63)"/>
<rect x="626.9" y="462.5" width="3.8" height="19.0" fill="url(#g63)"/>
<rect x="632.1" y="462.5" width="4.7" height="19.0" fill="url(#g63)"/>
<rect x="638.9" y="462.5" width="1.3" height="19.0" fill="url(#g63)"/>
<rect x="642.3" y="462.5" width="1.0" height="19.0" fill="url(#g63)"/>
<rect x="645.0" y="462.5" width="7.8" height="19.0" fill="url(#g63)"/>
<rect x="654.9" y="462.5" width="8.4" height="19.0" fill="url(#g63)"/>
<rect x="664.6" y="462.5" width="4.5" height="19.0" fill="url(#g63)"/>
<rect x="904.2" y="462.5" width="10.9" height="19.0" fill="url(#g63)"/>
<rect x="944.9" y="462.5" width="5.4" height="19.0" fill="url(#g63)"/>
<rect x="994.0" y="462.5" width="8.0" height="19.0" fill="url(#g63)"/>
<rect x="1006.0" y="462.5" width="5.4" height="19.0" fill="url(#g63)"/>
<rect x="1023.8" y="462.5" width="6.2" height="19.0" fill="url(#g63)"/>
<rect x="1032.0" y="462.5" width="5.7" height="19.0" fill="url(#g63)"/>
<rect x="1060.9" y="462.5" width="5.4" height="19.0" fill="url(#g63)"/>
<rect x="1076.4" y="462.5" width="6.2" height="19.0" fill="url(#g63)"/>
<rect x="1115.5" y="462.5" width="4.7" height="19.0" fill="url(#g63)"/>
<rect x="1124.0" y="462.5" width="3.9" height="19.0" fill="url(#g63)"/>
<rect x="1130.7" y="462.5" width="1.4" height="19.0" fill="url(#g63)"/>
<rect x="1139.2" y="462.5" width="1.8" height="19.0" fill="url(#g63)"/>
<rect x="1144.4" y="462.5" width="2.4" height="19.0" fill="url(#g63)"/>
<rect x="1159.9" y="462.5" width="5.1" height="19.0" fill="url(#g63)"/>
<rect x="1166.1" y="462.5" width="1.5" height="19.0" fill="url(#g63)"/>
<rect x="1293.1" y="462.5" width="7.8" height="19.0" fill="url(#g63)"/>
<rect x="1302.0" y="462.5" width="7.1" height="19.0" fill="url(#g63)"/>
<rect x="1310.9" y="462.5" width="7.0" height="19.0" fill="url(#g63)"/>
<rect x="1319.0" y="462.5" width="5.9" height="19.0" fill="url(#g63)"/>
<rect x="1326.1" y="462.5" width="4.2" height="19.0" fill="url(#g63)"/>
<rect x="1334.1" y="462.5" width="23.5" height="19.0" fill="url(#g63)"/>
<rect x="1358.9" y="462.5" width="6.2" height="19.0" fill="url(#g63)"/>
<rect x="1369.4" y="462.5" width="9.3" height="19.0" fill="url(#g63)"/>
<rect x="1380.1" y="462.5" width="7.4" height="19.0" fill="url(#g63)"/>
<rect x="1394.2" y="462.5" width="15.0" height="19.0" fill="url(#g63)"/>
<rect x="1409.9" y="462.5" width="10.1" height="19.0" fill="url(#g63)"/>
<rect x="1421.1" y="462.5" width="7.1" height="19.0" fill="url(#g63)"/>
<rect x="1433.1" y="462.5" width="7.0" height="19.0" fill="url(#g63)"/>
<rect x="1441.6" y="462.5" width="7.8" height="19.0" fill="url(#g63)"/>
<rect x="1467.9" y="462.5" width="9.3" height="19.0" fill="url(#g63)"/>
<rect x="1480.0" y="462.5" width="8.3" height="19.0" fill="url(#g63)"/>
<rect x="1494.7" y="462.5" width="5.0" height="19.0" fill="url(#g63)"/>
<rect x="1521.8" y="462.5" width="5.7" height="19.0" fill="url(#g63)"/>
<rect x="1657.2" y="462.5" width="8.0" height="19.0" fill="url(#g63)"/>
<rect x="262.4" y="461.8" width="12.6" height="19.9" fill="url(#g64)"/>
<rect x="346.7" y="461.8" width="12.9" height="19.9" fill="url(#g64)"/>
<rect x="1045.1" y="461.8" width="12.7" height="19.9" fill="url(#g64)"/>
<rect x="1540.4" y="461.8" width="16.2" height="19.9" fill="url(#g64)"/>
<rect x="1560.2" y="461.8" width="21.9" height="19.9" fill="url(#g64)"/>
<rect x="1585.2" y="461.8" width="16.3" height="19.9" fill="url(#g64)"/>
<rect x="1605.3" y="461.8" width="12.7" height="19.9" fill="url(#g64)"/>
<rect x="1645.3" y="461.8" width="4.6" height="19.9" fill="url(#g64)"/>
<rect x="297.8" y="462.3" width="11.7" height="19.6" fill="url(#g65)"/>
<rect x="362.8" y="462.3" width="37.9" height="19.6" fill="url(#g65)"/>
<rect x="405.2" y="462.3" width="5.0" height="19.6" fill="url(#g65)"/>
<rect x="931.8" y="462.3" width="11.6" height="19.6" fill="url(#g65)"/>
<rect x="1002.0" y="462.3" width="4.0" height="19.6" fill="url(#g65)"/>
<rect x="1017.1" y="462.3" width="5.9" height="19.6" fill="url(#g65)"/>
<rect x="1613.0" y="462.3" width="9.4" height="19.6" fill="url(#g65)"/>
<rect x="330.4" y="463.0" width="4.5" height="18.3" fill="url(#g66)"/>
<rect x="341.6" y="463.0" width="2.3" height="18.3" fill="url(#g66)"/>
<rect x="928.2" y="463.0" width="1.7" height="18.3" fill="url(#g66)"/>
<rect x="1084.0" y="463.0" width="2.4" height="18.3" fill="url(#g66)"/>
<rect x="387.7" y="478.0" width="36.6" height="7.4" fill="url(#g67)"/>
<rect x="934.1" y="478.0" width="6.9" height="7.4" fill="url(#g67)"/>
<rect x="780.5" y="477.9" width="26.4" height="7.6" fill="url(#g68)"/>
<rect x="988.7" y="477.9" width="7.3" height="7.6" fill="url(#g68)"/>
<rect x="1502.5" y="468.8" width="6.9" height="11.4" fill="url(#g69)"/>
<rect x="1226.0" y="468.8" width="6.0" height="11.4" fill="url(#g70)"/>
<rect x="1236.0" y="468.8" width="4.8" height="11.4" fill="url(#g70)"/>
<rect x="671.0" y="468.0" width="4.0" height="13.2" fill="url(#g71)"/>
<rect x="278.4" y="478.6" width="2.5" height="5.8" fill="url(#g72)"/>
<rect x="317.5" y="453.6" width="4.5" height="5.6" fill="url(#g73)"/>
<rect x="1092.3" y="479.8" width="8.5" height="4.8" fill="url(#g74)"/>
<rect x="549.2" y="407.5" width="3.0" height="14.0" fill="url(#g75)"/>
<rect x="380.2" y="405.0" width="1.6" height="6.0" fill="url(#g76)"/>
<rect x="889.0" y="389.4" width="6.4" height="7.8" fill="url(#g77)"/>
<rect x="902.4" y="404.6" width="7.7" height="7.2" fill="url(#g78)"/>
<rect x="926.3" y="404.6" width="8.6" height="7.2" fill="url(#g79)"/>
<rect x="940.3" y="405.0" width="2.3" height="6.0" fill="url(#g80)"/>
<rect x="1519.0" y="404.0" width="1.6" height="8.0" fill="url(#g81)"/>
<rect x="1532.0" y="404.0" width="1.6" height="8.0" fill="url(#g82)"/>
<rect x="1543.2" y="404.0" width="1.6" height="8.0" fill="url(#g82)"/>
<rect x="1554.6" y="403.0" width="1.8" height="10.0" fill="url(#g83)"/>
<rect x="1731.4" y="419.5" width="4.0" height="11.0" fill="url(#g84)"/>
<rect x="1707.0" y="421.0" width="4.0" height="9.0" fill="url(#g85)"/>
<rect x="1687.5" y="421.0" width="2.0" height="9.0" fill="url(#g86)"/>
<rect x="1758.5" y="404.0" width="1.5" height="8.0" fill="url(#g87)"/>
<rect x="1746.0" y="404.0" width="1.4" height="8.0" fill="url(#g81)"/>
<rect x="1770.5" y="404.0" width="1.3" height="8.0" fill="url(#g81)"/>
<rect x="1783.0" y="404.0" width="1.4" height="8.0" fill="url(#g88)"/>
<rect x="167.5" y="622.0" width="1.7" height="14.0" fill="url(#g89)"/>
<rect x="767.5" y="624.0" width="1.5" height="12.0" fill="url(#g90)"/>
<rect x="1371.5" y="361.0" width="1.5" height="9.0" fill="url(#g91)"/>
<rect x="1394.5" y="358.0" width="1.5" height="14.0" fill="url(#g92)"/>
<rect x="1288.5" y="407.5" width="9.8" height="14.0" fill="url(#g93)"/>
<rect x="1310.9" y="407.5" width="4.7" height="14.0" fill="url(#g94)"/>
<rect x="1408.4" y="407.5" width="6.5" height="14.0" fill="url(#g95)"/>
<rect x="262.4" y="517.0" width="12.6" height="17.7" fill="url(#g96)"/>
<rect x="293.3" y="517.0" width="3.4" height="17.7" fill="url(#g96)"/>
<rect x="297.8" y="517.0" width="14.6" height="17.7" fill="url(#g96)"/>
<rect x="315.2" y="517.0" width="19.7" height="17.7" fill="url(#g96)"/>
<rect x="336.0" y="517.0" width="7.9" height="17.7" fill="url(#g96)"/>
<rect x="362.8" y="517.0" width="19.3" height="17.7" fill="url(#g96)"/>
<rect x="995.2" y="517.0" width="4.9" height="17.7" fill="url(#g96)"/>
<rect x="1002.1" y="517.0" width="3.6" height="17.7" fill="url(#g96)"/>
<rect x="1007.6" y="517.0" width="15.4" height="17.7" fill="url(#g96)"/>
<rect x="1024.9" y="517.0" width="19.3" height="17.7" fill="url(#g96)"/>
<rect x="1045.1" y="517.0" width="11.2" height="17.7" fill="url(#g96)"/>
<rect x="1057.4" y="517.0" width="4.3" height="17.7" fill="url(#g96)"/>
<rect x="1540.4" y="517.0" width="16.2" height="17.7" fill="url(#g96)"/>
<rect x="1560.2" y="517.0" width="21.9" height="17.7" fill="url(#g96)"/>
<rect x="1605.3" y="517.0" width="17.1" height="17.7" fill="url(#g96)"/>
<rect x="1645.3" y="517.0" width="4.6" height="17.7" fill="url(#g96)"/>
<rect x="346.7" y="517.5" width="12.9" height="16.8" fill="url(#g97)"/>
<rect x="383.2" y="517.5" width="14.1" height="16.8" fill="url(#g97)"/>
<rect x="405.2" y="517.5" width="5.0" height="16.8" fill="url(#g97)"/>
<rect x="1585.2" y="517.5" width="16.3" height="16.8" fill="url(#g97)"/>
<rect x="695.0" y="524.0" width="9.0" height="9.6" fill="url(#g98)"/>
<rect x="262.4" y="486.4" width="12.6" height="11.8" fill="url(#g99)"/>
<rect x="262.4" y="498.0" width="12.6" height="20.6" fill="url(#g100)"/>
<rect x="262.4" y="534.5" width="12.6" height="31.5" fill="url(#g101)"/>
<rect x="293.3" y="486.4" width="3.4" height="11.8" fill="url(#g99)"/>
<rect x="293.3" y="498.0" width="3.4" height="20.6" fill="url(#g100)"/>
<rect x="293.3" y="534.5" width="3.4" height="31.5" fill="url(#g101)"/>
<rect x="297.8" y="486.4" width="14.6" height="11.8" fill="url(#g99)"/>
<rect x="297.8" y="498.0" width="14.6" height="20.6" fill="url(#g100)"/>
<rect x="297.8" y="534.5" width="14.6" height="31.5" fill="url(#g101)"/>
<rect x="315.2" y="486.4" width="19.7" height="11.8" fill="url(#g99)"/>
<rect x="315.2" y="498.0" width="19.7" height="20.6" fill="url(#g100)"/>
<rect x="315.2" y="534.5" width="19.7" height="31.5" fill="url(#g101)"/>
<rect x="336.0" y="486.4" width="7.9" height="11.8" fill="url(#g99)"/>
<rect x="336.0" y="498.0" width="7.9" height="20.6" fill="url(#g100)"/>
<rect x="336.0" y="534.5" width="7.9" height="31.5" fill="url(#g101)"/>
<rect x="362.8" y="486.4" width="19.3" height="11.8" fill="url(#g99)"/>
<rect x="362.8" y="498.0" width="19.3" height="20.6" fill="url(#g100)"/>
<rect x="362.8" y="534.5" width="19.3" height="31.5" fill="url(#g101)"/>
<rect x="995.2" y="486.4" width="4.9" height="11.8" fill="url(#g99)"/>
<rect x="995.2" y="498.0" width="4.9" height="20.6" fill="url(#g100)"/>
<rect x="995.2" y="534.5" width="4.9" height="31.5" fill="url(#g101)"/>
<rect x="1002.1" y="486.4" width="3.6" height="11.8" fill="url(#g99)"/>
<rect x="1002.1" y="498.0" width="3.6" height="20.6" fill="url(#g100)"/>
<rect x="1002.1" y="534.5" width="3.6" height="31.5" fill="url(#g101)"/>
<rect x="1007.6" y="486.4" width="15.4" height="11.8" fill="url(#g99)"/>
<rect x="1007.6" y="498.0" width="15.4" height="20.6" fill="url(#g100)"/>
<rect x="1007.6" y="534.5" width="15.4" height="31.5" fill="url(#g101)"/>
<rect x="1024.9" y="486.4" width="19.3" height="11.8" fill="url(#g99)"/>
<rect x="1024.9" y="498.0" width="19.3" height="20.6" fill="url(#g100)"/>
<rect x="1024.9" y="534.5" width="19.3" height="31.5" fill="url(#g101)"/>
<rect x="1045.1" y="486.4" width="11.2" height="11.8" fill="url(#g99)"/>
<rect x="1045.1" y="498.0" width="11.2" height="20.6" fill="url(#g100)"/>
<rect x="1045.1" y="534.5" width="11.2" height="31.5" fill="url(#g101)"/>
<rect x="1057.4" y="486.4" width="4.3" height="11.8" fill="url(#g99)"/>
<rect x="1057.4" y="498.0" width="4.3" height="20.6" fill="url(#g100)"/>
<rect x="1057.4" y="534.5" width="4.3" height="31.5" fill="url(#g101)"/>
<rect x="1560.2" y="486.4" width="21.9" height="11.8" fill="url(#g99)"/>
<rect x="1560.2" y="498.0" width="21.9" height="20.6" fill="url(#g100)"/>
<rect x="1560.2" y="534.5" width="21.9" height="31.5" fill="url(#g101)"/>
<rect x="1605.3" y="486.4" width="17.1" height="11.8" fill="url(#g99)"/>
<rect x="1605.3" y="498.0" width="17.1" height="20.6" fill="url(#g100)"/>
<rect x="1605.3" y="534.5" width="17.1" height="31.5" fill="url(#g101)"/>
<rect x="1645.3" y="486.4" width="4.6" height="11.8" fill="url(#g99)"/>
<rect x="1645.3" y="498.0" width="4.6" height="20.6" fill="url(#g100)"/>
<rect x="1645.3" y="534.5" width="4.6" height="31.5" fill="url(#g101)"/>
<rect x="1540.4" y="486.4" width="16.2" height="11.8" fill="url(#g99)" fill-opacity="0.5"/>
<rect x="1540.4" y="498.0" width="16.2" height="20.6" fill="url(#g100)" fill-opacity="0.5"/>
<rect x="346.7" y="486.4" width="12.9" height="11.8" fill="url(#g99)" fill-opacity="0.5"/>
<rect x="346.7" y="498.0" width="12.9" height="20.6" fill="url(#g100)" fill-opacity="0.5"/>
<rect x="1617.6" y="497.0" width="4.6" height="25.0" fill="url(#g102)"/>
<rect x="1617.6" y="533.4" width="4.6" height="33.6" fill="url(#g103)"/>
<rect x="1555.0" y="412.0" width="1.2" height="21.0" fill="url(#g104)"/>
<rect x="124.0" y="942.5" width="4.0" height="10.1" fill="url(#g105)"/>
<rect x="130.8" y="942.5" width="4.5" height="10.1" fill="url(#g105)"/>
<rect x="140.3" y="942.5" width="10.2" height="10.1" fill="url(#g106)"/>
<rect x="155.2" y="942.5" width="8.5" height="10.1" fill="url(#g106)"/>
<rect x="176.5" y="942.5" width="6.5" height="10.1" fill="url(#g106)"/>
<rect x="410.0" y="942.5" width="14.0" height="10.1" fill="url(#g107)"/>
<rect x="486.0" y="942.5" width="1.6" height="10.1" fill="url(#g108)"/>
<rect x="347.7" y="942.5" width="12.2" height="10.1" fill="url(#g106)"/>
<rect x="429.8" y="942.5" width="2.1" height="10.1" fill="url(#g108)"/>
<rect x="486.0" y="942.5" width="3.1" height="10.1" fill="url(#g108)"/>
<rect x="626.9" y="942.5" width="3.8" height="10.1" fill="url(#g108)"/>
<rect x="632.1" y="942.5" width="4.7" height="10.1" fill="url(#g108)"/>
<rect x="638.9" y="942.5" width="1.3" height="10.1" fill="url(#g108)"/>
<rect x="642.3" y="942.5" width="1.0" height="10.1" fill="url(#g108)"/>
<rect x="645.0" y="942.5" width="7.8" height="10.1" fill="url(#g108)"/>
<rect x="654.9" y="942.5" width="8.4" height="10.1" fill="url(#g108)"/>
<rect x="664.6" y="942.5" width="4.5" height="10.1" fill="url(#g108)"/>
<rect x="904.2" y="942.5" width="10.9" height="10.1" fill="url(#g108)"/>
<rect x="944.9" y="942.5" width="5.4" height="10.1" fill="url(#g108)"/>
<rect x="994.0" y="942.5" width="8.0" height="10.1" fill="url(#g108)"/>
<rect x="1006.0" y="942.5" width="5.4" height="10.1" fill="url(#g108)"/>
<rect x="1023.8" y="942.5" width="6.2" height="10.1" fill="url(#g108)"/>
<rect x="1032.0" y="942.5" width="5.7" height="10.1" fill="url(#g108)"/>
<rect x="1060.9" y="942.5" width="5.4" height="10.1" fill="url(#g108)"/>
<rect x="1076.4" y="942.5" width="6.2" height="10.1" fill="url(#g108)"/>
<rect x="1115.5" y="942.5" width="4.7" height="10.1" fill="url(#g108)"/>
<rect x="1124.0" y="942.5" width="3.9" height="10.1" fill="url(#g108)"/>
<rect x="1130.7" y="942.5" width="1.4" height="10.1" fill="url(#g108)"/>
<rect x="1139.2" y="942.5" width="1.8" height="10.1" fill="url(#g108)"/>
<rect x="1144.4" y="942.5" width="2.4" height="10.1" fill="url(#g108)"/>
<rect x="1159.9" y="942.5" width="5.1" height="10.1" fill="url(#g108)"/>
<rect x="1166.1" y="942.5" width="1.5" height="10.1" fill="url(#g108)"/>
<rect x="1293.1" y="942.5" width="7.8" height="10.1" fill="url(#g108)"/>
<rect x="1302.0" y="942.5" width="7.1" height="10.1" fill="url(#g108)"/>
<rect x="1310.9" y="942.5" width="7.0" height="10.1" fill="url(#g108)"/>
<rect x="1319.0" y="942.5" width="5.9" height="10.1" fill="url(#g108)"/>
<rect x="1326.1" y="942.5" width="4.2" height="10.1" fill="url(#g108)"/>
<rect x="1334.1" y="942.5" width="23.5" height="10.1" fill="url(#g108)"/>
<rect x="1358.9" y="942.5" width="6.2" height="10.1" fill="url(#g108)"/>
<rect x="1369.4" y="942.5" width="9.3" height="10.1" fill="url(#g108)"/>
<rect x="1380.1" y="942.5" width="7.4" height="10.1" fill="url(#g108)"/>
<rect x="1394.2" y="942.5" width="15.0" height="10.1" fill="url(#g108)"/>
<rect x="1409.9" y="942.5" width="10.1" height="10.1" fill="url(#g108)"/>
<rect x="1421.1" y="942.5" width="7.1" height="10.1" fill="url(#g108)"/>
<rect x="1433.1" y="942.5" width="7.0" height="10.1" fill="url(#g108)"/>
<rect x="1441.6" y="942.5" width="7.8" height="10.1" fill="url(#g108)"/>
<rect x="1467.9" y="942.5" width="9.3" height="10.1" fill="url(#g108)"/>
<rect x="1480.0" y="942.5" width="8.3" height="10.1" fill="url(#g108)"/>
<rect x="1494.7" y="942.5" width="5.0" height="10.1" fill="url(#g108)"/>
<rect x="1521.8" y="942.5" width="5.7" height="10.1" fill="url(#g108)"/>
<rect x="1657.2" y="942.5" width="8.0" height="10.1" fill="url(#g108)"/>
<rect x="262.9" y="939.6" width="11.6" height="14.0" fill="url(#g109)"/>
<rect x="293.8" y="939.6" width="49.8" height="14.0" fill="url(#g110)"/>
<rect x="300.0" y="939.6" width="12.0" height="14.0" fill="url(#g111)"/>
<rect x="316.0" y="939.6" width="18.0" height="14.0" fill="url(#g112)"/>
<rect x="362.5" y="939.6" width="18.7" height="14.0" fill="url(#g113)"/>
<rect x="385.3" y="939.6" width="16.3" height="14.0" fill="url(#g114)"/>
<rect x="404.6" y="939.6" width="5.5" height="14.0" fill="url(#g115)"/>
<rect x="933.4" y="939.6" width="7.8" height="14.0" fill="url(#g115)"/>
<rect x="994.7" y="939.6" width="65.7" height="14.0" fill="url(#g110)"/>
<rect x="1002.0" y="939.6" width="21.0" height="14.0" fill="url(#g112)"/>
<rect x="1030.0" y="939.6" width="14.0" height="14.0" fill="url(#g116)"/>
<rect x="1540.5" y="939.6" width="16.4" height="14.0" fill="url(#g109)"/>
<rect x="1559.9" y="939.6" width="23.4" height="14.0" fill="url(#g115)"/>
<rect x="1585.0" y="939.6" width="16.7" height="14.0" fill="url(#g117)"/>
<rect x="1605.4" y="939.6" width="17.4" height="14.0" fill="url(#g115)"/>
<rect x="1646.2" y="939.6" width="3.8" height="14.0" fill="url(#g111)"/>
<rect x="945.7" y="942.5" width="5.6" height="10.1" fill="url(#g108)"/>
<rect x="1061.5" y="942.5" width="5.5" height="10.1" fill="url(#g108)"/>
<rect x="977.5" y="965.5" width="17.2" height="11.0" fill="url(#g118)"/>
<rect x="1002.0" y="965.5" width="5.0" height="11.0" fill="url(#g118)"/>
<rect x="1011.4" y="965.5" width="8.9" height="11.0" fill="url(#g118)"/>
<rect x="1023.0" y="965.5" width="19.5" height="11.0" fill="url(#g118)"/>
<rect x="1045.9" y="965.5" width="7.8" height="11.0" fill="url(#g118)"/>
<rect x="1103.8" y="965.5" width="30.0" height="11.0" fill="url(#g118)"/>
<rect x="1136.0" y="965.5" width="9.0" height="11.0" fill="url(#g118)"/>
<rect x="1689.8" y="965.5" width="11.0" height="11.0" fill="url(#g118)"/>
</g>
</g>
<rect x="121.45" y="51.35" width="1674.00" height="924.10" fill="none" stroke="#000" stroke-width="1.1"/>
<line x1="121.50" y1="975.45" x2="121.50" y2="981.05" stroke="#000" stroke-width="1.1"/>
<line x1="233.50" y1="975.45" x2="233.50" y2="981.05" stroke="#000" stroke-width="1.1"/>
<line x1="344.50" y1="975.45" x2="344.50" y2="981.05" stroke="#000" stroke-width="1.1"/>
<line x1="456.50" y1="975.45" x2="456.50" y2="981.05" stroke="#000" stroke-width="1.1"/>
<line x1="567.50" y1="975.45" x2="567.50" y2="981.05" stroke="#000" stroke-width="1.1"/>
<line x1="679.50" y1="975.45" x2="679.50" y2="981.05" stroke="#000" stroke-width="1.1"/>
<line x1="791.50" y1="975.45" x2="791.50" y2="981.05" stroke="#000" stroke-width="1.1"/>
<line x1="902.50" y1="975.45" x2="902.50" y2="981.05" stroke="#000" stroke-width="1.1"/>
<line x1="1014.50" y1="975.45" x2="1014.50" y2="981.05" stroke="#000" stroke-width="1.1"/>
<line x1="1125.50" y1="975.45" x2="1125.50" y2="981.05" stroke="#000" stroke-width="1.1"/>
<line x1="1237.50" y1="975.45" x2="1237.50" y2="981.05" stroke="#000" stroke-width="1.1"/>
<line x1="1349.50" y1="975.45" x2="1349.50" y2="981.05" stroke="#000" stroke-width="1.1"/>
<line x1="1460.50" y1="975.45" x2="1460.50" y2="981.05" stroke="#000" stroke-width="1.1"/>
<line x1="1572.50" y1="975.45" x2="1572.50" y2="981.05" stroke="#000" stroke-width="1.1"/>
<line x1="1683.50" y1="975.45" x2="1683.50" y2="981.05" stroke="#000" stroke-width="1.1"/>
<line x1="115.55" y1="149.50" x2="121.45" y2="149.50" stroke="#000" stroke-width="1.1"/>
<line x1="115.55" y1="293.50" x2="121.45" y2="293.50" stroke="#000" stroke-width="1.1"/>
<line x1="115.55" y1="436.50" x2="121.45" y2="436.50" stroke="#000" stroke-width="1.1"/>
<line x1="115.55" y1="580.50" x2="121.45" y2="580.50" stroke="#000" stroke-width="1.1"/>
<line x1="115.55" y1="723.50" x2="121.45" y2="723.50" stroke="#000" stroke-width="1.1"/>
<line x1="115.55" y1="867.50" x2="121.45" y2="867.50" stroke="#000" stroke-width="1.1"/>
<rect x="1935.5" y="27.30" width="43.1" height="960.40" fill="url(#cbg)" stroke="#000" stroke-width="1.1"/>
<line x1="1978.6" y1="987.50" x2="1984.7" y2="987.50" stroke="#000" stroke-width="1.1"/>
<line x1="1978.6" y1="874.50" x2="1984.7" y2="874.50" stroke="#000" stroke-width="1.1"/>
<line x1="1978.6" y1="761.50" x2="1984.7" y2="761.50" stroke="#000" stroke-width="1.1"/>
<line x1="1978.6" y1="648.50" x2="1984.7" y2="648.50" stroke="#000" stroke-width="1.1"/>
<line x1="1978.6" y1="535.50" x2="1984.7" y2="535.50" stroke="#000" stroke-width="1.1"/>
<line x1="1978.6" y1="422.50" x2="1984.7" y2="422.50" stroke="#000" stroke-width="1.1"/>
<line x1="1978.6" y1="309.50" x2="1984.7" y2="309.50" stroke="#000" stroke-width="1.1"/>
<line x1="1978.6" y1="196.50" x2="1984.7" y2="196.50" stroke="#000" stroke-width="1.1"/>
<line x1="1978.6" y1="83.50" x2="1984.7" y2="83.50" stroke="#000" stroke-width="1.1"/>
<g filter="url(#noaa)"><text x="120.50" y="1009.8" font-size="30.56" letter-spacing="-0.3" text-anchor="middle">08:00</text><text x="232.10" y="1009.8" font-size="30.56" letter-spacing="-0.3" text-anchor="middle">08:01</text><text x="343.70" y="1009.8" font-size="30.56" letter-spacing="-0.3" text-anchor="middle">08:02</text><text x="455.30" y="1009.8" font-size="30.56" letter-spacing="-0.3" text-anchor="middle">08:03</text><text x="566.90" y="1009.8" font-size="30.56" letter-spacing="-0.3" text-anchor="middle">08:04</text><text x="678.50" y="1009.8" font-size="30.56" letter-spacing="-0.3" text-anchor="middle">08:05</text><text x="790.10" y="1009.8" font-size="30.56" letter-spacing="-0.3" text-anchor="middle">08:06</text><text x="901.70" y="1009.8" font-size="30.56" letter-spacing="-0.3" text-anchor="middle">08:07</text><text x="1013.30" y="1009.8" font-size="30.56" letter-spacing="-0.3" text-anchor="middle">08:08</text><text x="1124.90" y="1009.8" font-size="30.56" letter-spacing="-0.3" text-anchor="middle">08:09</text><text x="1236.50" y="1009.8" font-size="30.56" letter-spacing="-0.3" text-anchor="middle">08:10</text><text x="1348.10" y="1009.8" font-size="30.56" letter-spacing="-0.3" text-anchor="middle">08:11</text><text x="1459.70" y="1009.8" font-size="30.56" letter-spacing="-0.3" text-anchor="middle">08:12</text><text x="1571.30" y="1009.8" font-size="30.56" letter-spacing="-0.3" text-anchor="middle">08:13</text><text x="1682.90" y="1009.8" font-size="30.56" letter-spacing="-0.3" text-anchor="middle">08:14</text><text x="108.0" y="160.55" font-size="30.56" letter-spacing="-0.55" text-anchor="end">160</text><text x="108.0" y="304.15" font-size="30.56" letter-spacing="-0.55" text-anchor="end">140</text><text x="108.0" y="447.75" font-size="30.56" letter-spacing="-0.55" text-anchor="end">120</text><text x="108.0" y="591.35" font-size="30.56" letter-spacing="-0.55" text-anchor="end">100</text><text x="108.0" y="734.95" font-size="30.56" letter-spacing="-0.55" text-anchor="end">80</text><text x="108.0" y="878.55" font-size="30.56" letter-spacing="-0.55" text-anchor="end">60</text><text x="957.25" y="40.9" font-size="36.67" text-anchor="middle" xml:space="preserve" style="white-space:pre">2026/03/27  Radio flux density, e-CALLISTO (Finland-Kempele), Focuscode: 01</text><text x="957.90" y="1048.6" font-size="33.40" text-anchor="middle">Observation time [UTC]</text><text transform="translate(36.8 514.65) rotate(-90)" font-size="33.35" text-anchor="middle">Frequency [MHz]</text><text x="1991.2" y="993.30" font-size="15.55">−2</text><text x="1991.2" y="880.32" font-size="15.55">0</text><text x="1991.2" y="767.35" font-size="15.55">2</text><text x="1991.2" y="654.37" font-size="15.55">4</text><text x="1991.2" y="541.39" font-size="15.55">6</text><text x="1991.2" y="428.42" font-size="15.55">8</text><text x="1991.2" y="315.44" font-size="15.55">10</text><text x="1991.2" y="202.46" font-size="15.55">12</text><text x="1991.2" y="89.49" font-size="15.55">14</text><text transform="translate(2045.9 507.6) rotate(-90)" font-size="33.33" text-anchor="middle">dB above background</text></g>
</svg></body></html>
